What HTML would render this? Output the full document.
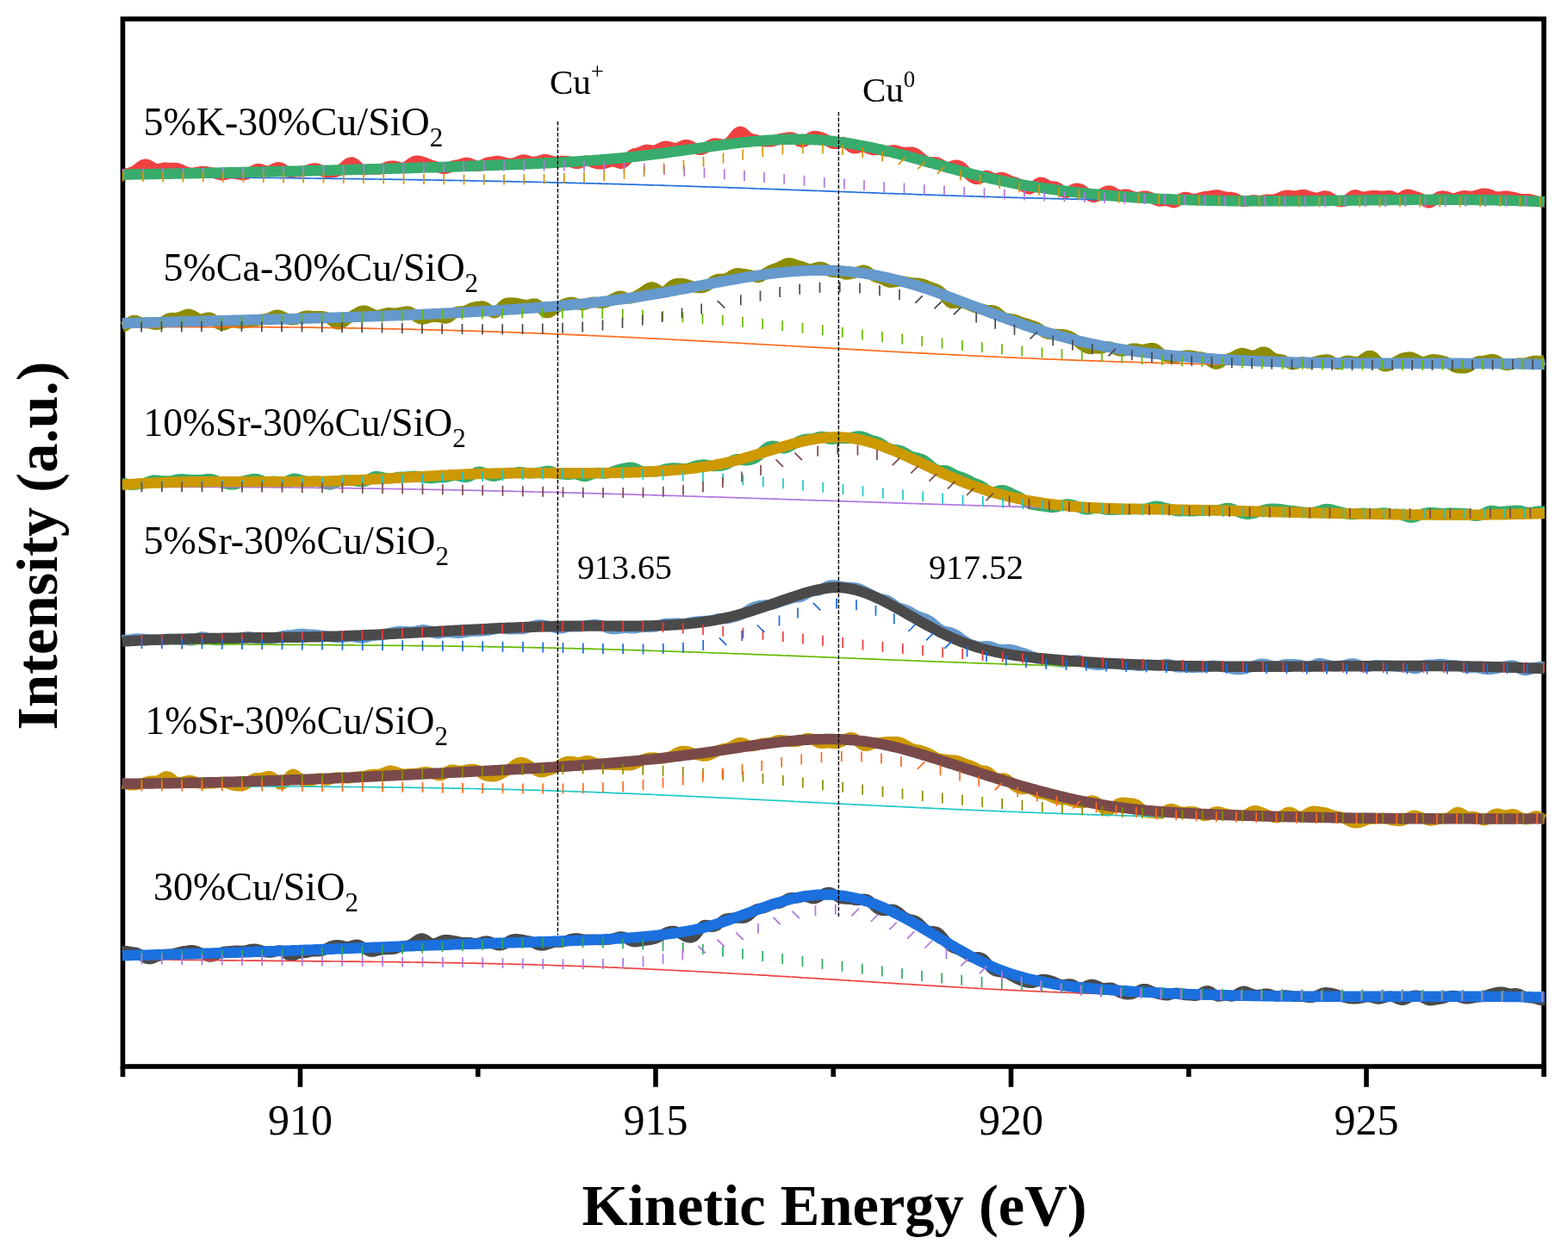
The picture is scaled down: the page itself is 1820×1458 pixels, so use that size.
<!DOCTYPE html>
<html><head><meta charset="utf-8"><title>Kinetic Energy XPS</title>
<style>html,body{margin:0;padding:0;background:#fff;}svg{display:block;}</style></head><body>
<svg width="1820" height="1458" viewBox="0 0 1820 1458">
<rect width="100%" height="100%" fill="#fff"/>
<rect x="142.5" y="22" width="1649.5" height="1216" fill="none" stroke="#000" stroke-width="5.6"/>
<g>
<path d="M142.0 202.4 L145.0 202.1 L148.0 201.4 L151.0 200.6 L154.0 199.4 L157.0 197.8 L160.0 195.6 L163.0 193.2 L166.0 191.3 L169.0 190.7 L172.0 191.4 L175.0 193.1 L178.0 195.0 L181.0 196.2 L184.0 196.3 L187.0 195.5 L190.0 194.8 L193.0 194.7 L196.0 195.0 L199.0 195.1 L202.0 195.0 L205.0 195.1 L208.0 195.9 L211.0 197.2 L214.0 198.7 L217.0 199.8 L220.0 200.5 L223.0 200.6 L226.0 200.3 L229.0 199.8 L232.0 199.3 L235.0 199.0 L238.0 199.1 L241.0 199.5 L244.0 200.1 L247.0 200.6 L250.0 201.3 L253.0 202.2 L256.0 203.0 L259.0 203.2 L262.0 202.6 L265.0 201.7 L268.0 201.1 L271.0 201.2 L274.0 201.8 L277.0 202.5 L280.0 203.0 L283.0 203.1 L286.0 202.4 L289.0 200.9 L292.0 199.1 L295.0 197.5 L298.0 196.3 L301.0 196.1 L304.0 196.8 L307.0 198.0 L310.0 198.7 L313.0 198.3 L316.0 196.9 L319.0 195.3 L322.0 194.3 L325.0 194.5 L328.0 195.8 L331.0 197.9 L334.0 199.5 L337.0 200.0 L340.0 199.8 L343.0 199.4 L346.0 199.3 L349.0 199.2 L352.0 198.8 L355.0 198.1 L358.0 197.1 L361.0 196.2 L364.0 195.4 L367.0 195.4 L370.0 196.4 L373.0 198.0 L376.0 199.5 L379.0 200.4 L382.0 200.6 L385.0 200.4 L388.0 199.9 L391.0 199.2 L394.0 197.8 L397.0 195.7 L400.0 193.0 L403.0 190.4 L406.0 188.7 L409.0 188.5 L412.0 190.1 L415.0 192.9 L418.0 195.5 L421.0 196.9 L424.0 197.1 L427.0 196.6 L430.0 196.3 L433.0 196.4 L436.0 196.6 L439.0 196.6 L442.0 196.2 L445.0 195.4 L448.0 194.2 L451.0 193.2 L454.0 192.7 L457.0 192.7 L460.0 193.3 L463.0 194.2 L466.0 194.7 L469.0 194.5 L472.0 193.1 L475.0 190.9 L478.0 188.7 L481.0 187.1 L484.0 186.6 L487.0 186.9 L490.0 187.7 L493.0 188.8 L496.0 190.0 L499.0 191.3 L502.0 192.3 L505.0 193.1 L508.0 193.9 L511.0 194.8 L514.0 195.7 L517.0 195.9 L520.0 195.0 L523.0 193.6 L526.0 192.4 L529.0 191.7 L532.0 191.3 L535.0 190.6 L538.0 189.6 L541.0 188.9 L544.0 189.1 L547.0 190.2 L550.0 191.8 L553.0 192.9 L556.0 192.8 L559.0 191.8 L562.0 190.3 L565.0 189.1 L568.0 188.3 L571.0 187.8 L574.0 187.3 L577.0 187.0 L580.0 187.2 L583.0 188.0 L586.0 188.8 L589.0 189.4 L592.0 189.7 L595.0 189.6 L598.0 188.9 L601.0 187.5 L604.0 186.2 L607.0 185.5 L610.0 185.8 L613.0 186.7 L616.0 187.6 L619.0 187.9 L622.0 187.7 L625.0 187.0 L628.0 186.1 L631.0 185.3 L634.0 185.2 L637.0 185.8 L640.0 186.9 L643.0 187.6 L646.0 187.7 L649.0 187.3 L652.0 186.9 L655.0 186.9 L658.0 187.2 L661.0 187.7 L664.0 188.6 L667.0 189.5 L670.0 189.9 L673.0 189.3 L676.0 188.0 L679.0 186.8 L682.0 186.5 L685.0 187.3 L688.0 188.5 L691.0 189.5 L694.0 190.2 L697.0 190.4 L700.0 190.2 L703.0 189.5 L706.0 188.4 L709.0 187.6 L712.0 187.4 L715.0 188.1 L718.0 189.2 L721.0 189.8 L724.0 188.8 L727.0 186.1 L730.0 182.7 L733.0 179.9 L736.0 178.4 L739.0 177.8 L742.0 177.0 L745.0 175.7 L748.0 174.4 L751.0 173.8 L754.0 174.2 L757.0 174.8 L760.0 174.7 L763.0 173.7 L766.0 172.0 L769.0 170.6 L772.0 169.8 L775.0 169.9 L778.0 170.7 L781.0 171.7 L784.0 172.1 L787.0 171.6 L790.0 170.2 L793.0 168.8 L796.0 168.1 L799.0 168.4 L802.0 169.6 L805.0 171.3 L808.0 172.9 L811.0 173.9 L814.0 173.9 L817.0 172.8 L820.0 171.1 L823.0 169.1 L826.0 167.4 L829.0 166.5 L832.0 166.6 L835.0 167.2 L838.0 167.8 L841.0 167.8 L844.0 166.9 L847.0 164.7 L850.0 161.3 L853.0 157.3 L856.0 154.0 L859.0 152.6 L862.0 153.6 L865.0 156.2 L868.0 159.0 L871.0 160.7 L874.0 161.5 L877.0 162.2 L880.0 163.0 L883.0 163.7 L886.0 164.1 L889.0 164.3 L892.0 164.5 L895.0 164.4 L898.0 163.7 L901.0 162.6 L904.0 161.5 L907.0 160.8 L910.0 160.3 L913.0 159.8 L916.0 159.4 L919.0 159.5 L922.0 160.6 L925.0 162.4 L928.0 164.2 L931.0 165.0 L934.0 164.2 L937.0 162.2 L940.0 160.0 L943.0 158.4 L946.0 158.0 L949.0 158.4 L952.0 159.1 L955.0 160.1 L958.0 161.6 L961.0 163.6 L964.0 165.5 L967.0 166.8 L970.0 166.9 L973.0 166.2 L976.0 165.2 L979.0 165.0 L982.0 166.2 L985.0 168.6 L988.0 171.0 L991.0 172.2 L994.0 172.1 L997.0 171.3 L1000.0 170.6 L1003.0 170.6 L1006.0 171.5 L1009.0 172.9 L1012.0 173.9 L1015.0 174.1 L1018.0 173.8 L1021.0 173.8 L1024.0 174.5 L1027.0 175.4 L1030.0 175.7 L1033.0 175.1 L1036.0 174.4 L1039.0 174.4 L1042.0 175.2 L1045.0 176.3 L1048.0 176.9 L1051.0 177.0 L1054.0 176.8 L1057.0 176.6 L1060.0 177.0 L1063.0 178.2 L1066.0 180.3 L1069.0 182.9 L1072.0 185.4 L1075.0 187.4 L1078.0 188.3 L1081.0 188.4 L1084.0 188.2 L1087.0 188.4 L1090.0 189.5 L1093.0 191.3 L1096.0 193.2 L1099.0 194.2 L1102.0 194.0 L1105.0 192.9 L1108.0 191.9 L1111.0 191.7 L1114.0 192.6 L1117.0 194.7 L1120.0 197.7 L1123.0 201.0 L1126.0 204.1 L1129.0 206.4 L1132.0 207.7 L1135.0 207.9 L1138.0 206.9 L1141.0 205.2 L1144.0 204.0 L1147.0 204.2 L1150.0 205.6 L1153.0 206.9 L1156.0 207.2 L1159.0 206.5 L1162.0 206.0 L1165.0 206.4 L1168.0 207.7 L1171.0 209.2 L1174.0 210.5 L1177.0 211.5 L1180.0 212.3 L1183.0 213.5 L1186.0 215.1 L1189.0 217.2 L1192.0 218.9 L1195.0 219.5 L1198.0 218.3 L1201.0 215.9 L1204.0 213.3 L1207.0 211.8 L1210.0 211.9 L1213.0 213.3 L1216.0 215.2 L1219.0 216.4 L1222.0 216.5 L1225.0 216.7 L1228.0 217.9 L1231.0 220.3 L1234.0 222.9 L1237.0 224.0 L1240.0 223.2 L1243.0 221.3 L1246.0 219.5 L1249.0 218.8 L1252.0 218.9 L1255.0 219.9 L1258.0 221.7 L1261.0 224.2 L1264.0 226.7 L1267.0 228.5 L1270.0 228.9 L1273.0 228.0 L1276.0 226.5 L1279.0 224.7 L1282.0 223.0 L1285.0 221.7 L1288.0 221.5 L1291.0 222.5 L1294.0 224.3 L1297.0 225.9 L1300.0 226.5 L1303.0 226.1 L1306.0 225.6 L1309.0 225.8 L1312.0 226.8 L1315.0 228.2 L1318.0 229.1 L1321.0 229.1 L1324.0 228.4 L1327.0 227.7 L1330.0 227.6 L1333.0 228.3 L1336.0 229.4 L1339.0 230.9 L1342.0 232.4 L1345.0 233.5 L1348.0 233.5 L1351.0 233.0 L1354.0 232.9 L1357.0 233.7 L1360.0 234.8 L1363.0 235.2 L1366.0 234.1 L1369.0 232.1 L1372.0 230.0 L1375.0 229.0 L1378.0 229.1 L1381.0 230.1 L1384.0 231.0 L1387.0 231.2 L1390.0 230.6 L1393.0 229.6 L1396.0 228.8 L1399.0 228.2 L1402.0 227.9 L1405.0 227.4 L1408.0 226.8 L1411.0 226.4 L1414.0 226.5 L1417.0 227.2 L1420.0 228.1 L1423.0 228.8 L1426.0 228.9 L1429.0 229.0 L1432.0 229.5 L1435.0 230.6 L1438.0 232.2 L1441.0 233.4 L1444.0 233.9 L1447.0 233.6 L1450.0 233.0 L1453.0 232.5 L1456.0 232.5 L1459.0 232.8 L1462.0 233.0 L1465.0 232.7 L1468.0 232.1 L1471.0 231.7 L1474.0 231.7 L1477.0 231.8 L1480.0 231.5 L1483.0 230.4 L1486.0 229.0 L1489.0 227.8 L1492.0 227.0 L1495.0 226.8 L1498.0 227.0 L1501.0 227.5 L1504.0 227.5 L1507.0 226.9 L1510.0 226.2 L1513.0 226.1 L1516.0 226.7 L1519.0 227.6 L1522.0 228.6 L1525.0 229.3 L1528.0 229.6 L1531.0 229.3 L1534.0 228.4 L1537.0 227.5 L1540.0 227.6 L1543.0 228.8 L1546.0 230.7 L1549.0 232.4 L1552.0 233.5 L1555.0 234.0 L1558.0 234.1 L1561.0 233.5 L1564.0 231.7 L1567.0 229.2 L1570.0 227.0 L1573.0 226.3 L1576.0 227.1 L1579.0 228.3 L1582.0 228.9 L1585.0 228.5 L1588.0 227.9 L1591.0 227.5 L1594.0 227.3 L1597.0 227.3 L1600.0 227.5 L1603.0 227.8 L1606.0 227.8 L1609.0 227.4 L1612.0 227.1 L1615.0 227.6 L1618.0 229.0 L1621.0 230.3 L1624.0 230.3 L1627.0 228.8 L1630.0 226.8 L1633.0 225.8 L1636.0 226.0 L1639.0 227.0 L1642.0 228.0 L1645.0 228.7 L1648.0 229.8 L1651.0 231.6 L1654.0 233.8 L1657.0 235.4 L1660.0 235.3 L1663.0 233.6 L1666.0 231.2 L1669.0 229.1 L1672.0 227.8 L1675.0 227.5 L1678.0 228.0 L1681.0 228.8 L1684.0 229.8 L1687.0 230.2 L1690.0 229.8 L1693.0 228.8 L1696.0 227.8 L1699.0 227.3 L1702.0 227.5 L1705.0 227.9 L1708.0 228.0 L1711.0 227.5 L1714.0 226.6 L1717.0 225.7 L1720.0 225.0 L1723.0 224.6 L1726.0 224.9 L1729.0 225.7 L1732.0 227.0 L1735.0 228.2 L1738.0 228.7 L1741.0 228.5 L1744.0 228.0 L1747.0 227.8 L1750.0 227.8 L1753.0 228.3 L1756.0 228.9 L1759.0 229.6 L1762.0 230.4 L1765.0 231.1 L1768.0 231.3 L1771.0 231.2 L1774.0 231.2 L1777.0 231.6 L1780.0 232.5 L1783.0 233.4 L1786.0 234.0 L1789.0 234.1 L1792.8 234.2" stroke="#EE4242" stroke-width="12.4" stroke-linejoin="round" fill="none"/>
<path d="M142.0 204.9 L145.0 204.9 L148.0 205.0 L151.0 205.0 L154.0 205.0 L157.0 205.0 L160.0 205.1 L163.0 205.1 L166.0 205.1 L169.0 205.1 L172.0 205.1 L175.0 205.2 L178.0 205.2 L181.0 205.2 L184.0 205.2 L187.0 205.3 L190.0 205.3 L193.0 205.3 L196.0 205.3 L199.0 205.4 L202.0 205.4 L205.0 205.4 L208.0 205.4 L211.0 205.5 L214.0 205.5 L217.0 205.5 L220.0 205.5 L223.0 205.6 L226.0 205.6 L229.0 205.6 L232.0 205.6 L235.0 205.7 L238.0 205.7 L241.0 205.7 L244.0 205.8 L247.0 205.8 L250.0 205.8 L253.0 205.8 L256.0 205.9 L259.0 205.9 L262.0 205.9 L265.0 206.0 L268.0 206.0 L271.0 206.0 L274.0 206.0 L277.0 206.1 L280.0 206.1 L283.0 206.1 L286.0 206.2 L289.0 206.2 L292.0 206.2 L295.0 206.3 L298.0 206.3 L301.0 206.3 L304.0 206.3 L307.0 206.4 L310.0 206.4 L313.0 206.4 L316.0 206.5 L319.0 206.5 L322.0 206.5 L325.0 206.6 L328.0 206.6 L331.0 206.6 L334.0 206.7 L337.0 206.7 L340.0 206.7 L343.0 206.8 L346.0 206.8 L349.0 206.8 L352.0 206.9 L355.0 206.9 L358.0 206.9 L361.0 207.0 L364.0 207.0 L367.0 207.1 L370.0 207.1 L373.0 207.1 L376.0 207.2 L379.0 207.2 L382.0 207.2 L385.0 207.3 L388.0 207.3 L391.0 207.4 L394.0 207.4 L397.0 207.4 L400.0 207.5 L403.0 207.5 L406.0 207.6 L409.0 207.6 L412.0 207.6 L415.0 207.7 L418.0 207.7 L421.0 207.8 L424.0 207.8 L427.0 207.8 L430.0 207.9 L433.0 207.9 L436.0 208.0 L439.0 208.0 L442.0 208.1 L445.0 208.1 L448.0 208.1 L451.0 208.2 L454.0 208.2 L457.0 208.3 L460.0 208.3 L463.0 208.4 L466.0 208.4 L469.0 208.5 L472.0 208.5 L475.0 208.6 L478.0 208.6 L481.0 208.7 L484.0 208.7 L487.0 208.8 L490.0 208.8 L493.0 208.8 L496.0 208.9 L499.0 208.9 L502.0 209.0 L505.0 209.1 L508.0 209.1 L511.0 209.2 L514.0 209.2 L517.0 209.3 L520.0 209.3 L523.0 209.4 L526.0 209.4 L529.0 209.5 L532.0 209.5 L535.0 209.6 L538.0 209.6 L541.0 209.7 L544.0 209.7 L547.0 209.8 L550.0 209.9 L553.0 209.9 L556.0 210.0 L559.0 210.0 L562.0 210.1 L565.0 210.1 L568.0 210.2 L571.0 210.3 L574.0 210.3 L577.0 210.4 L580.0 210.4 L583.0 210.5 L586.0 210.6 L589.0 210.6 L592.0 210.7 L595.0 210.8 L598.0 210.8 L601.0 210.9 L604.0 211.0 L607.0 211.0 L610.0 211.1 L613.0 211.1 L616.0 211.2 L619.0 211.3 L622.0 211.3 L625.0 211.4 L628.0 211.5 L631.0 211.5 L634.0 211.6 L637.0 211.7 L640.0 211.8 L643.0 211.8 L646.0 211.9 L649.0 212.0 L652.0 212.0 L655.0 212.1 L658.0 212.2 L661.0 212.3 L664.0 212.3 L667.0 212.4 L670.0 212.5 L673.0 212.6 L676.0 212.6 L679.0 212.7 L682.0 212.8 L685.0 212.9 L688.0 212.9 L691.0 213.0 L694.0 213.1 L697.0 213.2 L700.0 213.3 L703.0 213.3 L706.0 213.4 L709.0 213.5 L712.0 213.6 L715.0 213.7 L718.0 213.7 L721.0 213.8 L724.0 213.9 L727.0 214.0 L730.0 214.1 L733.0 214.2 L736.0 214.2 L739.0 214.3 L742.0 214.4 L745.0 214.5 L748.0 214.6 L751.0 214.7 L754.0 214.8 L757.0 214.9 L760.0 215.0 L763.0 215.0 L766.0 215.1 L769.0 215.2 L772.0 215.3 L775.0 215.4 L778.0 215.5 L781.0 215.6 L784.0 215.7 L787.0 215.8 L790.0 215.9 L793.0 216.0 L796.0 216.1 L799.0 216.2 L802.0 216.3 L805.0 216.4 L808.0 216.5 L811.0 216.6 L814.0 216.7 L817.0 216.8 L820.0 216.9 L823.0 217.0 L826.0 217.1 L829.0 217.2 L832.0 217.3 L835.0 217.4 L838.0 217.5 L841.0 217.6 L844.0 217.7 L847.0 217.8 L850.0 217.9 L853.0 218.0 L856.0 218.1 L859.0 218.2 L862.0 218.3 L865.0 218.4 L868.0 218.5 L871.0 218.6 L874.0 218.7 L877.0 218.9 L880.0 219.0 L883.0 219.1 L886.0 219.2 L889.0 219.3 L892.0 219.4 L895.0 219.5 L898.0 219.6 L901.0 219.7 L904.0 219.8 L907.0 219.9 L910.0 220.1 L913.0 220.2 L916.0 220.3 L919.0 220.4 L922.0 220.5 L925.0 220.6 L928.0 220.7 L931.0 220.8 L934.0 220.9 L937.0 221.1 L940.0 221.2 L943.0 221.3 L946.0 221.4 L949.0 221.5 L952.0 221.6 L955.0 221.7 L958.0 221.8 L961.0 221.9 L964.0 222.1 L967.0 222.2 L970.0 222.3 L973.0 222.4 L976.0 222.5 L979.0 222.6 L982.0 222.7 L985.0 222.8 L988.0 222.9 L991.0 223.0 L994.0 223.2 L997.0 223.3 L1000.0 223.4 L1003.0 223.5 L1006.0 223.6 L1009.0 223.7 L1012.0 223.8 L1015.0 223.9 L1018.0 224.0 L1021.0 224.2 L1024.0 224.3 L1027.0 224.4 L1030.0 224.5 L1033.0 224.6 L1036.0 224.7 L1039.0 224.8 L1042.0 224.9 L1045.0 225.0 L1048.0 225.1 L1051.0 225.2 L1054.0 225.3 L1057.0 225.4 L1060.0 225.5 L1063.0 225.7 L1066.0 225.8 L1069.0 225.9 L1072.0 226.0 L1075.0 226.1 L1078.0 226.2 L1081.0 226.3 L1084.0 226.4 L1087.0 226.5 L1090.0 226.6 L1093.0 226.7 L1096.0 226.8 L1099.0 226.9 L1102.0 227.0 L1105.0 227.1 L1108.0 227.2 L1111.0 227.3 L1114.0 227.4 L1117.0 227.5 L1120.0 227.6 L1123.0 227.7 L1126.0 227.8 L1129.0 227.9 L1132.0 228.0 L1135.0 228.1 L1138.0 228.2 L1141.0 228.3 L1144.0 228.4 L1147.0 228.4 L1150.0 228.5 L1153.0 228.6 L1156.0 228.7 L1159.0 228.8 L1162.0 228.9 L1165.0 229.0 L1168.0 229.1 L1171.0 229.2 L1174.0 229.3 L1177.0 229.3 L1180.0 229.4 L1183.0 229.5 L1186.0 229.6 L1189.0 229.7 L1192.0 229.8 L1195.0 229.8 L1198.0 229.9 L1201.0 230.0 L1204.0 230.1 L1207.0 230.2 L1210.0 230.2 L1213.0 230.3 L1216.0 230.4 L1219.0 230.5 L1222.0 230.6 L1225.0 230.6 L1228.0 230.7 L1231.0 230.8 L1234.0 230.8 L1237.0 230.9 L1240.0 231.0 L1243.0 231.1 L1246.0 231.1 L1249.0 231.2 L1252.0 231.3 L1255.0 231.3 L1258.0 231.4 L1261.0 231.5 L1264.0 231.5 L1267.0 231.6 L1270.0 231.7 L1273.0 231.7 L1276.0 231.8 L1279.0 231.9 L1282.0 231.9 L1285.0 232.0 L1288.0 232.0 L1291.0 232.1 L1294.0 232.2 L1297.0 232.2 L1300.0 232.3 L1303.0 232.3 L1306.0 232.4 L1309.0 232.5 L1312.0 232.5 L1315.0 232.6 L1318.0 232.6 L1321.0 232.7 L1324.0 232.7 L1327.0 232.8 L1330.0 232.8 L1333.0 232.9 L1336.0 232.9 L1339.0 233.0 L1342.0 233.0 L1345.0 233.1 L1348.0 233.1 L1351.0 233.2 L1354.0 233.2 L1357.0 233.3 L1360.0 233.3 L1363.0 233.4 L1366.0 233.4 L1369.0 233.5 L1372.0 233.5 L1375.0 233.5 L1378.0 233.6 L1381.0 233.6 L1384.0 233.7 L1387.0 233.7 L1390.0 233.7 L1393.0 233.8 L1396.0 233.8 L1399.0 233.9 L1402.0 233.9 L1405.0 233.9 L1408.0 234.0 L1411.0 234.0 L1414.0 234.0 L1417.0 234.1 L1420.0 234.1 L1423.0 234.1 L1426.0 234.2 L1429.0 234.2 L1432.0 234.2 L1435.0 234.3 L1438.0 234.3 L1441.0 234.3 L1444.0 234.3 L1447.0 234.4 L1450.0 234.4 L1453.0 234.4 L1456.0 234.5 L1459.0 234.5 L1462.0 234.5 L1465.0 234.5 L1468.0 234.5 L1471.0 234.6 L1474.0 234.6 L1477.0 234.6 L1480.0 234.6 L1483.0 234.7 L1486.0 234.7 L1489.0 234.7 L1492.0 234.7 L1495.0 234.7 L1498.0 234.8 L1501.0 234.8 L1504.0 234.8 L1507.0 234.8 L1510.0 234.8 L1513.0 234.8 L1516.0 234.8 L1519.0 234.9 L1522.0 234.9 L1525.0 234.9 L1528.0 234.9 L1531.0 234.9 L1534.0 234.9 L1537.0 234.9 L1540.0 234.9 L1543.0 235.0 L1546.0 235.0 L1549.0 235.0 L1552.0 235.0 L1555.0 235.0 L1558.0 235.0 L1561.0 235.0 L1564.0 235.0 L1567.0 235.0 L1570.0 235.0 L1573.0 235.0 L1576.0 235.0 L1579.0 235.0 L1582.0 235.0 L1585.0 235.0 L1588.0 235.0 L1591.0 235.0 L1594.0 235.0 L1597.0 235.0 L1600.0 235.0 L1603.0 235.0 L1606.0 235.0 L1609.0 235.0 L1612.0 235.0 L1615.0 235.0 L1618.0 235.0 L1621.0 235.0 L1624.0 235.0 L1627.0 235.0 L1630.0 235.0 L1633.0 235.0 L1636.0 235.0 L1639.0 235.0 L1642.0 234.9 L1645.0 234.9 L1648.0 234.9 L1651.0 234.9 L1654.0 234.9 L1657.0 234.9 L1660.0 234.9 L1663.0 234.9 L1666.0 234.9 L1669.0 234.8 L1672.0 234.8 L1675.0 234.8 L1678.0 234.8 L1681.0 234.8 L1684.0 234.8 L1687.0 234.8 L1690.0 234.7 L1693.0 234.7 L1696.0 234.7 L1699.0 234.7 L1702.0 234.7 L1705.0 234.7 L1708.0 234.6 L1711.0 234.6 L1714.0 234.6 L1717.0 234.6 L1720.0 234.5 L1723.0 234.5 L1726.0 234.5 L1729.0 234.5 L1732.0 234.5 L1735.0 234.4 L1738.0 234.4 L1741.0 234.4 L1744.0 234.4 L1747.0 234.3 L1750.0 234.3 L1753.0 234.3 L1756.0 234.2 L1759.0 234.2 L1762.0 234.2 L1765.0 234.2 L1768.0 234.1 L1771.0 234.1 L1774.0 234.1 L1777.0 234.0 L1780.0 234.0 L1783.0 234.0 L1786.0 233.9 L1789.0 233.9 L1792.8 233.9" stroke="#1F6FE0" stroke-width="1.7" fill="none"/>
<path d="M142.0 202.7 L145.0 202.6 L148.0 202.6 L151.0 202.5 L154.0 202.5 L157.0 202.4 L160.0 202.3 L163.0 202.3 L166.0 202.2 L169.0 202.2 L172.0 202.1 L175.0 202.1 L178.0 202.0 L181.0 202.0 L184.0 201.9 L187.0 201.9 L190.0 201.8 L193.0 201.7 L196.0 201.7 L199.0 201.6 L202.0 201.6 L205.0 201.5 L208.0 201.5 L211.0 201.4 L214.0 201.4 L217.0 201.3 L220.0 201.2 L223.0 201.2 L226.0 201.1 L229.0 201.1 L232.0 201.0 L235.0 200.9 L238.0 200.9 L241.0 200.8 L244.0 200.8 L247.0 200.7 L250.0 200.6 L253.0 200.6 L256.0 200.5 L259.0 200.5 L262.0 200.4 L265.0 200.3 L268.0 200.3 L271.0 200.2 L274.0 200.2 L277.0 200.1 L280.0 200.0 L283.0 200.0 L286.0 199.9 L289.0 199.8 L292.0 199.8 L295.0 199.7 L298.0 199.6 L301.0 199.6 L304.0 199.5 L307.0 199.4 L310.0 199.4 L313.0 199.3 L316.0 199.2 L319.0 199.2 L322.0 199.1 L325.0 199.0 L328.0 199.0 L331.0 198.9 L334.0 198.8 L337.0 198.8 L340.0 198.7 L343.0 198.6 L346.0 198.6 L349.0 198.5 L352.0 198.4 L355.0 198.3 L358.0 198.3 L361.0 198.2 L364.0 198.1 L367.0 198.0 L370.0 198.0 L373.0 197.9 L376.0 197.8 L379.0 197.7 L382.0 197.7 L385.0 197.6 L388.0 197.5 L391.0 197.4 L394.0 197.4 L397.0 197.3 L400.0 197.2 L403.0 197.1 L406.0 197.0 L409.0 197.0 L412.0 196.9 L415.0 196.8 L418.0 196.7 L421.0 196.6 L424.0 196.6 L427.0 196.5 L430.0 196.4 L433.0 196.3 L436.0 196.2 L439.0 196.1 L442.0 196.1 L445.0 196.0 L448.0 195.9 L451.0 195.8 L454.0 195.7 L457.0 195.6 L460.0 195.5 L463.0 195.5 L466.0 195.4 L469.0 195.3 L472.0 195.2 L475.0 195.1 L478.0 195.0 L481.0 194.9 L484.0 194.8 L487.0 194.7 L490.0 194.6 L493.0 194.5 L496.0 194.4 L499.0 194.4 L502.0 194.3 L505.0 194.2 L508.0 194.1 L511.0 194.0 L514.0 193.9 L517.0 193.8 L520.0 193.7 L523.0 193.6 L526.0 193.5 L529.0 193.4 L532.0 193.3 L535.0 193.2 L538.0 193.1 L541.0 193.0 L544.0 192.9 L547.0 192.8 L550.0 192.7 L553.0 192.6 L556.0 192.4 L559.0 192.3 L562.0 192.2 L565.0 192.1 L568.0 192.0 L571.0 191.9 L574.0 191.8 L577.0 191.7 L580.0 191.6 L583.0 191.5 L586.0 191.4 L589.0 191.2 L592.0 191.1 L595.0 191.0 L598.0 190.9 L601.0 190.8 L604.0 190.7 L607.0 190.5 L610.0 190.4 L613.0 190.3 L616.0 190.2 L619.0 190.0 L622.0 189.9 L625.0 189.8 L628.0 189.6 L631.0 189.5 L634.0 189.3 L637.0 189.2 L640.0 189.1 L643.0 188.9 L646.0 188.7 L649.0 188.6 L652.0 188.4 L655.0 188.3 L658.0 188.1 L661.0 187.9 L664.0 187.7 L667.0 187.6 L670.0 187.4 L673.0 187.2 L676.0 187.0 L679.0 186.8 L682.0 186.6 L685.0 186.4 L688.0 186.1 L691.0 185.9 L694.0 185.7 L697.0 185.5 L700.0 185.2 L703.0 185.0 L706.0 184.7 L709.0 184.5 L712.0 184.2 L715.0 183.9 L718.0 183.7 L721.0 183.4 L724.0 183.1 L727.0 182.8 L730.0 182.5 L733.0 182.2 L736.0 181.9 L739.0 181.5 L742.0 181.2 L745.0 180.9 L748.0 180.5 L751.0 180.2 L754.0 179.8 L757.0 179.4 L760.0 179.0 L763.0 178.7 L766.0 178.3 L769.0 177.9 L772.0 177.5 L775.0 177.1 L778.0 176.7 L781.0 176.2 L784.0 175.8 L787.0 175.4 L790.0 175.0 L793.0 174.6 L796.0 174.1 L799.0 173.7 L802.0 173.3 L805.0 172.9 L808.0 172.4 L811.0 172.0 L814.0 171.6 L817.0 171.2 L820.0 170.7 L823.0 170.3 L826.0 169.9 L829.0 169.5 L832.0 169.1 L835.0 168.7 L838.0 168.3 L841.0 167.9 L844.0 167.5 L847.0 167.2 L850.0 166.8 L853.0 166.4 L856.0 166.1 L859.0 165.7 L862.0 165.4 L865.0 165.1 L868.0 164.8 L871.0 164.5 L874.0 164.2 L877.0 163.9 L880.0 163.7 L883.0 163.4 L886.0 163.2 L889.0 163.0 L892.0 162.8 L895.0 162.6 L898.0 162.4 L901.0 162.2 L904.0 162.1 L907.0 162.0 L910.0 161.9 L913.0 161.8 L916.0 161.7 L919.0 161.7 L922.0 161.7 L925.0 161.7 L928.0 161.7 L931.0 161.7 L934.0 161.8 L937.0 161.9 L940.0 162.0 L943.0 162.1 L946.0 162.3 L949.0 162.4 L952.0 162.6 L955.0 162.9 L958.0 163.1 L961.0 163.4 L964.0 163.7 L967.0 164.0 L970.0 164.4 L973.0 164.8 L976.0 165.1 L979.0 165.6 L982.0 166.0 L985.0 166.4 L988.0 166.9 L991.0 167.4 L994.0 167.9 L997.0 168.5 L1000.0 169.0 L1003.0 169.6 L1006.0 170.2 L1009.0 170.8 L1012.0 171.4 L1015.0 172.0 L1018.0 172.7 L1021.0 173.4 L1024.0 174.1 L1027.0 174.8 L1030.0 175.5 L1033.0 176.2 L1036.0 177.0 L1039.0 177.7 L1042.0 178.5 L1045.0 179.2 L1048.0 180.0 L1051.0 180.8 L1054.0 181.6 L1057.0 182.4 L1060.0 183.2 L1063.0 184.1 L1066.0 184.9 L1069.0 185.7 L1072.0 186.6 L1075.0 187.4 L1078.0 188.2 L1081.0 189.1 L1084.0 189.9 L1087.0 190.8 L1090.0 191.6 L1093.0 192.4 L1096.0 193.3 L1099.0 194.1 L1102.0 194.9 L1105.0 195.8 L1108.0 196.6 L1111.0 197.4 L1114.0 198.2 L1117.0 199.0 L1120.0 199.8 L1123.0 200.6 L1126.0 201.4 L1129.0 202.2 L1132.0 202.9 L1135.0 203.7 L1138.0 204.4 L1141.0 205.1 L1144.0 205.8 L1147.0 206.5 L1150.0 207.2 L1153.0 207.9 L1156.0 208.5 L1159.0 209.2 L1162.0 209.8 L1165.0 210.4 L1168.0 211.0 L1171.0 211.6 L1174.0 212.2 L1177.0 212.8 L1180.0 213.3 L1183.0 213.9 L1186.0 214.4 L1189.0 214.9 L1192.0 215.4 L1195.0 215.9 L1198.0 216.4 L1201.0 216.9 L1204.0 217.3 L1207.0 217.8 L1210.0 218.2 L1213.0 218.7 L1216.0 219.1 L1219.0 219.5 L1222.0 219.9 L1225.0 220.3 L1228.0 220.7 L1231.0 221.1 L1234.0 221.5 L1237.0 221.9 L1240.0 222.2 L1243.0 222.6 L1246.0 222.9 L1249.0 223.2 L1252.0 223.6 L1255.0 223.9 L1258.0 224.2 L1261.0 224.5 L1264.0 224.8 L1267.0 225.1 L1270.0 225.4 L1273.0 225.7 L1276.0 226.0 L1279.0 226.3 L1282.0 226.5 L1285.0 226.8 L1288.0 227.0 L1291.0 227.3 L1294.0 227.5 L1297.0 227.8 L1300.0 228.0 L1303.0 228.2 L1306.0 228.4 L1309.0 228.6 L1312.0 228.9 L1315.0 229.1 L1318.0 229.3 L1321.0 229.4 L1324.0 229.6 L1327.0 229.8 L1330.0 230.0 L1333.0 230.1 L1336.0 230.3 L1339.0 230.5 L1342.0 230.6 L1345.0 230.8 L1348.0 230.9 L1351.0 231.1 L1354.0 231.2 L1357.0 231.3 L1360.0 231.4 L1363.0 231.6 L1366.0 231.7 L1369.0 231.8 L1372.0 231.9 L1375.0 232.0 L1378.0 232.1 L1381.0 232.2 L1384.0 232.3 L1387.0 232.4 L1390.0 232.5 L1393.0 232.5 L1396.0 232.6 L1399.0 232.7 L1402.0 232.8 L1405.0 232.8 L1408.0 232.9 L1411.0 232.9 L1414.0 233.0 L1417.0 233.0 L1420.0 233.1 L1423.0 233.1 L1426.0 233.2 L1429.0 233.2 L1432.0 233.2 L1435.0 233.3 L1438.0 233.3 L1441.0 233.3 L1444.0 233.4 L1447.0 233.4 L1450.0 233.4 L1453.0 233.4 L1456.0 233.4 L1459.0 233.4 L1462.0 233.4 L1465.0 233.4 L1468.0 233.4 L1471.0 233.4 L1474.0 233.4 L1477.0 233.4 L1480.0 233.4 L1483.0 233.4 L1486.0 233.4 L1489.0 233.4 L1492.0 233.4 L1495.0 233.4 L1498.0 233.4 L1501.0 233.3 L1504.0 233.3 L1507.0 233.3 L1510.0 233.3 L1513.0 233.3 L1516.0 233.2 L1519.0 233.2 L1522.0 233.2 L1525.0 233.2 L1528.0 233.1 L1531.0 233.1 L1534.0 233.1 L1537.0 233.0 L1540.0 233.0 L1543.0 233.0 L1546.0 232.9 L1549.0 232.9 L1552.0 232.9 L1555.0 232.8 L1558.0 232.8 L1561.0 232.8 L1564.0 232.7 L1567.0 232.7 L1570.0 232.6 L1573.0 232.6 L1576.0 232.6 L1579.0 232.5 L1582.0 232.5 L1585.0 232.5 L1588.0 232.4 L1591.0 232.4 L1594.0 232.4 L1597.0 232.3 L1600.0 232.3 L1603.0 232.3 L1606.0 232.2 L1609.0 232.2 L1612.0 232.2 L1615.0 232.1 L1618.0 232.1 L1621.0 232.1 L1624.0 232.1 L1627.0 232.0 L1630.0 232.0 L1633.0 232.0 L1636.0 232.0 L1639.0 231.9 L1642.0 231.9 L1645.0 231.9 L1648.0 231.9 L1651.0 231.9 L1654.0 231.9 L1657.0 231.9 L1660.0 231.8 L1663.0 231.8 L1666.0 231.8 L1669.0 231.8 L1672.0 231.8 L1675.0 231.8 L1678.0 231.8 L1681.0 231.8 L1684.0 231.8 L1687.0 231.9 L1690.0 231.9 L1693.0 231.9 L1696.0 231.9 L1699.0 231.9 L1702.0 232.0 L1705.0 232.0 L1708.0 232.0 L1711.0 232.0 L1714.0 232.1 L1717.0 232.1 L1720.0 232.2 L1723.0 232.2 L1726.0 232.3 L1729.0 232.3 L1732.0 232.4 L1735.0 232.4 L1738.0 232.5 L1741.0 232.5 L1744.0 232.6 L1747.0 232.7 L1750.0 232.8 L1753.0 232.8 L1756.0 232.9 L1759.0 233.0 L1762.0 233.1 L1765.0 233.2 L1768.0 233.3 L1771.0 233.4 L1774.0 233.5 L1777.0 233.6 L1780.0 233.8 L1783.0 233.9 L1786.0 234.0 L1789.0 234.1 L1792.8 234.3" stroke="#38AC6C" stroke-width="12.4" fill="none"/>
<path d="M142.8 196.1l0.0 12.0M166.0 195.9l0.0 12.0M189.2 195.7l0.0 12.0M212.5 195.4l0.0 12.0M235.8 195.1l0.0 12.0M259.0 194.8l0.0 12.0M282.2 194.4l0.0 12.0M305.8 193.9l0.0 12.0M329.0 193.3l0.0 12.0M352.2 192.8l0.0 12.0M375.5 192.1l0.0 12.0M398.8 191.5l0.0 12.0M422.0 190.8l0.0 12.0M445.2 190.0l0.0 12.0M468.5 189.3l0.0 12.0M491.8 188.6l0.0 12.0M515.0 187.9l0.0 12.0M538.2 187.3l0.0 12.0M561.8 186.8l0.0 12.0M585.0 186.4l0.0 12.0M608.2 186.2l0.0 12.0M631.5 186.2l0.0 12.0M654.8 186.4l0.0 12.0M678.0 186.8l0.0 12.0M701.2 187.6l0.0 12.0M724.5 188.5l0.0 12.0M747.8 189.7l0.0 12.0M771.0 191.1l0.0 12.0M794.2 192.7l0.0 12.0M817.5 194.4l0.0 12.0M840.8 196.2l0.0 12.0M864.0 198.1l0.0 12.0M887.0 200.0l0.0 12.0M910.2 201.9l0.0 12.0M933.5 203.8l0.0 12.0M956.8 205.7l0.0 12.0M980.0 207.5l0.0 12.0M1003.0 209.3l0.0 12.0M1026.2 211.0l0.0 12.0M1049.5 212.6l0.0 12.0M1072.8 214.2l0.0 12.0M1096.0 215.6l0.0 12.0M1119.2 217.0l0.0 12.0M1142.5 218.2l0.0 12.0M1165.8 219.4l0.0 12.0M1189.0 220.4l0.0 12.0M1212.2 221.4l0.0 12.0M1235.5 222.3l0.0 12.0M1258.8 223.1l0.0 12.0M1282.0 223.8l0.0 12.0M1305.2 224.5l0.0 12.0M1328.5 225.1l0.0 12.0M1352.0 225.6l0.0 12.0M1375.2 226.1l0.0 12.0M1398.5 226.5l0.0 12.0M1421.8 226.9l0.0 12.0M1445.0 227.2l0.0 12.0M1468.2 227.5l0.0 12.0M1491.5 227.7l0.0 12.0M1514.8 227.9l0.0 12.0M1538.0 228.0l0.0 12.0M1561.5 228.1l0.0 12.0M1584.8 228.2l0.0 12.0M1608.0 228.2l0.0 12.0M1631.2 228.2l0.0 12.0M1654.5 228.2l0.0 12.0M1677.8 228.1l0.0 12.0M1701.0 228.0l0.0 12.0M1724.2 227.9l0.0 12.0M1747.8 227.7l0.0 12.0M1771.0 227.5l0.0 12.0" stroke="#B076E0" stroke-width="1.7" fill="none"/>
<path d="M142.8 198.7l0.0 12.0M166.0 198.8l0.0 12.0M189.2 199.0l0.0 12.0M212.5 199.2l0.0 12.0M235.8 199.3l0.0 12.0M259.0 199.5l0.0 12.0M282.5 199.7l0.0 12.0M305.8 200.0l0.0 12.0M329.0 200.2l0.0 12.0M352.2 200.4l0.0 12.0M375.5 200.6l0.0 12.0M398.8 200.9l0.0 12.0M422.0 201.2l0.0 12.0M445.2 201.4l0.0 12.0M468.5 201.7l0.0 12.0M492.0 202.0l0.0 12.0M515.2 202.2l0.0 12.0M538.5 202.4l0.0 12.0M561.8 202.5l0.0 12.0M585.0 202.4l0.0 12.0M608.2 202.2l0.0 12.0M631.5 201.8l0.0 12.0M654.8 201.0l0.0 12.0M678.0 199.8l0.0 12.0M701.2 198.0l0.0 12.0M724.5 195.8l0.0 12.0M747.5 192.9l0.0 12.0M770.5 189.6l0.0 12.0M793.5 185.8l0.0 12.0M816.5 181.7l0.0 12.0M839.5 177.5l0.0 12.0M862.2 173.6l0.0 12.0M885.2 170.1l0.0 12.0M908.5 167.6l0.0 12.0M931.8 166.2l0.0 12.0M955.0 166.4l0.0 12.0M978.2 168.1l0.0 12.0M1001.2 171.2l0.0 12.0M1024.2 175.5l0.0 12.0M1042.8 190.8l8.5 -8.5M1065.3 196.2l8.5 -8.5M1087.8 201.9l8.5 -8.5M1114.8 197.2l0.0 12.0M1137.5 202.4l0.0 12.0M1160.2 207.1l0.0 12.0M1183.0 211.2l0.0 12.0M1206.0 214.8l0.0 12.0M1229.2 217.7l0.0 12.0M1252.5 220.1l0.0 12.0M1275.5 221.9l0.0 12.0M1298.8 223.4l0.0 12.0M1322.0 224.6l0.0 12.0M1345.2 225.4l0.0 12.0M1368.5 226.2l0.0 12.0M1391.8 226.7l0.0 12.0M1415.2 227.2l0.0 12.0M1438.5 227.5l0.0 12.0M1461.8 227.8l0.0 12.0M1485.0 228.1l0.0 12.0M1508.2 228.3l0.0 12.0M1531.5 228.4l0.0 12.0M1554.8 228.5l0.0 12.0M1578.0 228.6l0.0 12.0M1601.5 228.6l0.0 12.0M1624.8 228.6l0.0 12.0M1648.0 228.6l0.0 12.0M1671.2 228.5l0.0 12.0M1694.5 228.4l0.0 12.0M1717.8 228.3l0.0 12.0M1741.0 228.1l0.0 12.0M1764.2 227.9l0.0 12.0M1787.5 227.7l0.0 12.0" stroke="#D4960A" stroke-width="1.7" fill="none"/>
<path d="M142.0 379.6 L145.0 378.6 L148.0 376.3 L151.0 373.7 L154.0 372.1 L157.0 372.0 L160.0 373.0 L163.0 374.2 L166.0 374.9 L169.0 375.0 L172.0 375.1 L175.0 375.5 L178.0 376.3 L181.0 376.8 L184.0 376.5 L187.0 375.2 L190.0 373.1 L193.0 371.0 L196.0 369.5 L199.0 369.0 L202.0 369.1 L205.0 369.1 L208.0 368.4 L211.0 367.2 L214.0 365.9 L217.0 365.0 L220.0 364.8 L223.0 365.8 L226.0 367.6 L229.0 369.5 L232.0 370.6 L235.0 370.5 L238.0 369.5 L241.0 368.6 L244.0 368.7 L247.0 370.3 L250.0 373.0 L253.0 375.8 L256.0 377.4 L259.0 377.6 L262.0 376.6 L265.0 375.2 L268.0 374.1 L271.0 373.8 L274.0 374.3 L277.0 375.0 L280.0 375.3 L283.0 375.0 L286.0 374.5 L289.0 374.3 L292.0 374.1 L295.0 373.6 L298.0 372.5 L301.0 371.3 L304.0 370.6 L307.0 370.3 L310.0 369.8 L313.0 368.8 L316.0 367.4 L319.0 366.2 L322.0 365.7 L325.0 366.2 L328.0 367.4 L331.0 369.0 L334.0 370.3 L337.0 371.1 L340.0 371.2 L343.0 370.9 L346.0 370.1 L349.0 368.8 L352.0 367.5 L355.0 366.7 L358.0 366.6 L361.0 367.0 L364.0 367.3 L367.0 367.3 L370.0 367.2 L373.0 367.2 L376.0 367.6 L379.0 368.4 L382.0 369.8 L385.0 372.0 L388.0 374.5 L391.0 376.3 L394.0 376.4 L397.0 375.1 L400.0 373.0 L403.0 370.7 L406.0 368.5 L409.0 366.6 L412.0 364.8 L415.0 363.1 L418.0 361.5 L421.0 360.6 L424.0 360.8 L427.0 361.9 L430.0 363.5 L433.0 364.8 L436.0 365.8 L439.0 366.0 L442.0 365.5 L445.0 364.5 L448.0 363.6 L451.0 363.2 L454.0 363.4 L457.0 363.6 L460.0 363.6 L463.0 363.2 L466.0 362.6 L469.0 362.0 L472.0 361.5 L475.0 361.7 L478.0 363.2 L481.0 365.7 L484.0 368.3 L487.0 369.9 L490.0 370.4 L493.0 370.1 L496.0 369.3 L499.0 368.4 L502.0 367.8 L505.0 367.6 L508.0 367.8 L511.0 368.3 L514.0 369.1 L517.0 369.6 L520.0 369.0 L523.0 367.1 L526.0 364.6 L529.0 362.5 L532.0 361.6 L535.0 361.5 L538.0 361.4 L541.0 360.5 L544.0 359.1 L547.0 357.7 L550.0 356.8 L553.0 356.2 L556.0 355.8 L559.0 355.5 L562.0 355.9 L565.0 357.5 L568.0 360.0 L571.0 362.3 L574.0 363.3 L577.0 362.0 L580.0 358.9 L583.0 355.4 L586.0 352.8 L589.0 351.6 L592.0 351.4 L595.0 351.6 L598.0 351.8 L601.0 352.3 L604.0 353.0 L607.0 353.7 L610.0 354.1 L613.0 354.0 L616.0 353.3 L619.0 352.6 L622.0 352.8 L625.0 354.6 L628.0 357.8 L631.0 361.2 L634.0 363.1 L637.0 363.0 L640.0 361.4 L643.0 359.4 L646.0 357.4 L649.0 355.7 L652.0 354.2 L655.0 352.8 L658.0 351.7 L661.0 351.0 L664.0 350.9 L667.0 351.6 L670.0 352.8 L673.0 353.9 L676.0 354.1 L679.0 353.5 L682.0 352.5 L685.0 351.4 L688.0 350.8 L691.0 350.9 L694.0 351.4 L697.0 351.9 L700.0 351.8 L703.0 351.0 L706.0 349.7 L709.0 348.1 L712.0 346.6 L715.0 345.0 L718.0 343.9 L721.0 343.7 L724.0 344.6 L727.0 345.9 L730.0 346.5 L733.0 346.1 L736.0 344.8 L739.0 343.2 L742.0 341.6 L745.0 339.8 L748.0 337.7 L751.0 335.5 L754.0 333.9 L757.0 333.4 L760.0 334.2 L763.0 336.1 L766.0 338.1 L769.0 339.1 L772.0 338.3 L775.0 335.9 L778.0 333.0 L781.0 330.7 L784.0 329.5 L787.0 329.2 L790.0 329.1 L793.0 329.3 L796.0 329.8 L799.0 330.8 L802.0 332.0 L805.0 333.0 L808.0 333.7 L811.0 334.1 L814.0 334.1 L817.0 333.6 L820.0 332.3 L823.0 330.2 L826.0 327.8 L829.0 325.7 L832.0 324.4 L835.0 324.0 L838.0 323.9 L841.0 323.8 L844.0 323.0 L847.0 321.3 L850.0 319.2 L853.0 317.7 L856.0 317.3 L859.0 317.5 L862.0 318.0 L865.0 318.4 L868.0 318.8 L871.0 319.4 L874.0 320.3 L877.0 321.5 L880.0 322.1 L883.0 321.3 L886.0 319.3 L889.0 316.8 L892.0 314.9 L895.0 313.5 L898.0 312.4 L901.0 311.4 L904.0 310.1 L907.0 308.7 L910.0 307.1 L913.0 305.8 L916.0 305.3 L919.0 305.8 L922.0 306.9 L925.0 307.9 L928.0 308.7 L931.0 309.5 L934.0 310.7 L937.0 311.9 L940.0 312.5 L943.0 312.2 L946.0 311.3 L949.0 310.4 L952.0 309.9 L955.0 310.4 L958.0 311.9 L961.0 313.9 L964.0 315.4 L967.0 316.0 L970.0 316.0 L973.0 316.1 L976.0 316.7 L979.0 317.7 L982.0 318.5 L985.0 318.4 L988.0 317.7 L991.0 316.9 L994.0 316.1 L997.0 315.2 L1000.0 314.1 L1003.0 313.7 L1006.0 314.6 L1009.0 316.7 L1012.0 319.1 L1015.0 321.0 L1018.0 322.1 L1021.0 322.9 L1024.0 324.0 L1027.0 325.5 L1030.0 327.0 L1033.0 327.7 L1036.0 327.6 L1039.0 327.2 L1042.0 326.7 L1045.0 326.4 L1048.0 326.6 L1051.0 327.1 L1054.0 327.7 L1057.0 328.2 L1060.0 328.4 L1063.0 328.6 L1066.0 328.8 L1069.0 329.3 L1072.0 330.1 L1075.0 331.3 L1078.0 332.6 L1081.0 333.7 L1084.0 334.6 L1087.0 335.7 L1090.0 337.2 L1093.0 339.7 L1096.0 343.3 L1099.0 347.3 L1102.0 350.6 L1105.0 352.1 L1108.0 352.0 L1111.0 351.5 L1114.0 351.3 L1117.0 351.6 L1120.0 352.3 L1123.0 353.3 L1126.0 354.6 L1129.0 356.0 L1132.0 357.0 L1135.0 357.7 L1138.0 358.3 L1141.0 359.1 L1144.0 359.9 L1147.0 360.2 L1150.0 360.2 L1153.0 360.4 L1156.0 361.6 L1159.0 363.8 L1162.0 366.3 L1165.0 368.4 L1168.0 369.5 L1171.0 370.0 L1174.0 370.3 L1177.0 370.8 L1180.0 371.8 L1183.0 373.1 L1186.0 374.2 L1189.0 375.0 L1192.0 375.9 L1195.0 376.8 L1198.0 377.8 L1201.0 378.8 L1204.0 380.2 L1207.0 382.2 L1210.0 384.5 L1213.0 386.4 L1216.0 387.5 L1219.0 387.9 L1222.0 388.0 L1225.0 388.0 L1228.0 388.0 L1231.0 388.1 L1234.0 388.3 L1237.0 388.9 L1240.0 389.8 L1243.0 391.1 L1246.0 392.8 L1249.0 394.9 L1252.0 397.5 L1255.0 400.1 L1258.0 402.3 L1261.0 403.9 L1264.0 404.7 L1267.0 404.7 L1270.0 404.4 L1273.0 404.3 L1276.0 404.5 L1279.0 404.3 L1282.0 403.4 L1285.0 402.4 L1288.0 402.4 L1291.0 403.6 L1294.0 405.3 L1297.0 406.7 L1300.0 407.3 L1303.0 407.5 L1306.0 407.1 L1309.0 406.3 L1312.0 405.3 L1315.0 404.6 L1318.0 404.6 L1321.0 405.2 L1324.0 405.8 L1327.0 405.9 L1330.0 405.4 L1333.0 404.7 L1336.0 404.1 L1339.0 404.2 L1342.0 405.6 L1345.0 408.0 L1348.0 410.8 L1351.0 412.9 L1354.0 414.1 L1357.0 414.5 L1360.0 414.6 L1363.0 414.7 L1366.0 414.7 L1369.0 414.3 L1372.0 413.6 L1375.0 412.9 L1378.0 412.5 L1381.0 412.6 L1384.0 413.1 L1387.0 413.6 L1390.0 414.1 L1393.0 414.4 L1396.0 415.0 L1399.0 416.0 L1402.0 417.7 L1405.0 419.7 L1408.0 421.5 L1411.0 422.5 L1414.0 422.1 L1417.0 420.6 L1420.0 418.8 L1423.0 417.3 L1426.0 416.4 L1429.0 415.4 L1432.0 414.0 L1435.0 412.3 L1438.0 410.8 L1441.0 410.0 L1444.0 410.3 L1447.0 411.2 L1450.0 412.2 L1453.0 412.8 L1456.0 412.6 L1459.0 411.6 L1462.0 410.0 L1465.0 408.7 L1468.0 408.6 L1471.0 410.1 L1474.0 412.6 L1477.0 414.9 L1480.0 416.4 L1483.0 416.9 L1486.0 417.2 L1489.0 417.9 L1492.0 419.3 L1495.0 421.0 L1498.0 422.5 L1501.0 423.1 L1504.0 422.5 L1507.0 421.3 L1510.0 420.5 L1513.0 420.5 L1516.0 421.1 L1519.0 421.6 L1522.0 421.4 L1525.0 420.6 L1528.0 419.5 L1531.0 418.7 L1534.0 418.2 L1537.0 417.6 L1540.0 417.4 L1543.0 417.9 L1546.0 419.5 L1549.0 421.6 L1552.0 422.9 L1555.0 422.5 L1558.0 420.9 L1561.0 419.4 L1564.0 418.8 L1567.0 419.0 L1570.0 419.6 L1573.0 420.1 L1576.0 420.2 L1579.0 419.3 L1582.0 417.2 L1585.0 414.8 L1588.0 413.1 L1591.0 412.9 L1594.0 414.4 L1597.0 417.2 L1600.0 420.5 L1603.0 423.4 L1606.0 425.0 L1609.0 425.2 L1612.0 424.4 L1615.0 423.0 L1618.0 421.3 L1621.0 419.3 L1624.0 417.6 L1627.0 416.3 L1630.0 415.4 L1633.0 414.8 L1636.0 414.5 L1639.0 414.9 L1642.0 416.2 L1645.0 417.9 L1648.0 419.4 L1651.0 420.1 L1654.0 419.8 L1657.0 418.8 L1660.0 417.8 L1663.0 417.3 L1666.0 417.5 L1669.0 417.9 L1672.0 418.4 L1675.0 419.0 L1678.0 420.0 L1681.0 421.6 L1684.0 423.5 L1687.0 425.3 L1690.0 426.7 L1693.0 427.2 L1696.0 427.2 L1699.0 427.2 L1702.0 427.0 L1705.0 425.9 L1708.0 423.9 L1711.0 421.7 L1714.0 420.1 L1717.0 419.3 L1720.0 419.1 L1723.0 418.8 L1726.0 418.2 L1729.0 417.4 L1732.0 417.0 L1735.0 417.5 L1738.0 418.9 L1741.0 420.8 L1744.0 422.5 L1747.0 423.6 L1750.0 423.8 L1753.0 423.3 L1756.0 422.5 L1759.0 421.9 L1762.0 421.7 L1765.0 421.7 L1768.0 421.8 L1771.0 421.5 L1774.0 420.7 L1777.0 419.7 L1780.0 419.0 L1783.0 418.9 L1786.0 419.1 L1789.0 418.9 L1792.8 417.8" stroke="#8C8C00" stroke-width="12.4" stroke-linejoin="round" fill="none"/>
<path d="M142.0 380.2 L145.0 380.2 L148.0 380.2 L151.0 380.1 L154.0 380.1 L157.0 380.1 L160.0 380.0 L163.0 380.0 L166.0 380.0 L169.0 379.9 L172.0 379.9 L175.0 379.9 L178.0 379.9 L181.0 379.8 L184.0 379.8 L187.0 379.8 L190.0 379.8 L193.0 379.7 L196.0 379.7 L199.0 379.7 L202.0 379.7 L205.0 379.7 L208.0 379.7 L211.0 379.6 L214.0 379.6 L217.0 379.6 L220.0 379.6 L223.0 379.6 L226.0 379.6 L229.0 379.6 L232.0 379.6 L235.0 379.6 L238.0 379.6 L241.0 379.6 L244.0 379.6 L247.0 379.6 L250.0 379.6 L253.0 379.6 L256.0 379.6 L259.0 379.6 L262.0 379.6 L265.0 379.6 L268.0 379.6 L271.0 379.6 L274.0 379.6 L277.0 379.6 L280.0 379.6 L283.0 379.6 L286.0 379.6 L289.0 379.6 L292.0 379.6 L295.0 379.7 L298.0 379.7 L301.0 379.7 L304.0 379.7 L307.0 379.7 L310.0 379.7 L313.0 379.8 L316.0 379.8 L319.0 379.8 L322.0 379.8 L325.0 379.8 L328.0 379.9 L331.0 379.9 L334.0 379.9 L337.0 380.0 L340.0 380.0 L343.0 380.0 L346.0 380.0 L349.0 380.1 L352.0 380.1 L355.0 380.1 L358.0 380.2 L361.0 380.2 L364.0 380.2 L367.0 380.3 L370.0 380.3 L373.0 380.4 L376.0 380.4 L379.0 380.4 L382.0 380.5 L385.0 380.5 L388.0 380.6 L391.0 380.6 L394.0 380.7 L397.0 380.7 L400.0 380.7 L403.0 380.8 L406.0 380.8 L409.0 380.9 L412.0 380.9 L415.0 381.0 L418.0 381.1 L421.0 381.1 L424.0 381.2 L427.0 381.2 L430.0 381.3 L433.0 381.3 L436.0 381.4 L439.0 381.5 L442.0 381.5 L445.0 381.6 L448.0 381.6 L451.0 381.7 L454.0 381.8 L457.0 381.8 L460.0 381.9 L463.0 382.0 L466.0 382.0 L469.0 382.1 L472.0 382.2 L475.0 382.2 L478.0 382.3 L481.0 382.4 L484.0 382.5 L487.0 382.5 L490.0 382.6 L493.0 382.7 L496.0 382.8 L499.0 382.8 L502.0 382.9 L505.0 383.0 L508.0 383.1 L511.0 383.2 L514.0 383.2 L517.0 383.3 L520.0 383.4 L523.0 383.5 L526.0 383.6 L529.0 383.7 L532.0 383.8 L535.0 383.9 L538.0 383.9 L541.0 384.0 L544.0 384.1 L547.0 384.2 L550.0 384.3 L553.0 384.4 L556.0 384.5 L559.0 384.6 L562.0 384.7 L565.0 384.8 L568.0 384.9 L571.0 385.0 L574.0 385.1 L577.0 385.2 L580.0 385.3 L583.0 385.4 L586.0 385.5 L589.0 385.6 L592.0 385.7 L595.0 385.8 L598.0 385.9 L601.0 386.1 L604.0 386.2 L607.0 386.3 L610.0 386.4 L613.0 386.5 L616.0 386.6 L619.0 386.7 L622.0 386.8 L625.0 387.0 L628.0 387.1 L631.0 387.2 L634.0 387.3 L637.0 387.4 L640.0 387.6 L643.0 387.7 L646.0 387.8 L649.0 387.9 L652.0 388.0 L655.0 388.2 L658.0 388.3 L661.0 388.4 L664.0 388.6 L667.0 388.7 L670.0 388.8 L673.0 388.9 L676.0 389.1 L679.0 389.2 L682.0 389.3 L685.0 389.5 L688.0 389.6 L691.0 389.7 L694.0 389.9 L697.0 390.0 L700.0 390.2 L703.0 390.3 L706.0 390.4 L709.0 390.6 L712.0 390.7 L715.0 390.9 L718.0 391.0 L721.0 391.1 L724.0 391.3 L727.0 391.4 L730.0 391.6 L733.0 391.7 L736.0 391.9 L739.0 392.0 L742.0 392.2 L745.0 392.3 L748.0 392.5 L751.0 392.6 L754.0 392.8 L757.0 392.9 L760.0 393.1 L763.0 393.2 L766.0 393.4 L769.0 393.5 L772.0 393.7 L775.0 393.8 L778.0 394.0 L781.0 394.2 L784.0 394.3 L787.0 394.5 L790.0 394.6 L793.0 394.8 L796.0 394.9 L799.0 395.1 L802.0 395.3 L805.0 395.4 L808.0 395.6 L811.0 395.7 L814.0 395.9 L817.0 396.1 L820.0 396.2 L823.0 396.4 L826.0 396.6 L829.0 396.7 L832.0 396.9 L835.0 397.0 L838.0 397.2 L841.0 397.4 L844.0 397.5 L847.0 397.7 L850.0 397.9 L853.0 398.0 L856.0 398.2 L859.0 398.4 L862.0 398.5 L865.0 398.7 L868.0 398.9 L871.0 399.0 L874.0 399.2 L877.0 399.4 L880.0 399.5 L883.0 399.7 L886.0 399.9 L889.0 400.0 L892.0 400.2 L895.0 400.4 L898.0 400.5 L901.0 400.7 L904.0 400.9 L907.0 401.0 L910.0 401.2 L913.0 401.4 L916.0 401.5 L919.0 401.7 L922.0 401.9 L925.0 402.0 L928.0 402.2 L931.0 402.4 L934.0 402.6 L937.0 402.7 L940.0 402.9 L943.0 403.1 L946.0 403.2 L949.0 403.4 L952.0 403.6 L955.0 403.7 L958.0 403.9 L961.0 404.1 L964.0 404.2 L967.0 404.4 L970.0 404.6 L973.0 404.7 L976.0 404.9 L979.0 405.1 L982.0 405.2 L985.0 405.4 L988.0 405.6 L991.0 405.7 L994.0 405.9 L997.0 406.1 L1000.0 406.2 L1003.0 406.4 L1006.0 406.6 L1009.0 406.7 L1012.0 406.9 L1015.0 407.0 L1018.0 407.2 L1021.0 407.4 L1024.0 407.5 L1027.0 407.7 L1030.0 407.9 L1033.0 408.0 L1036.0 408.2 L1039.0 408.3 L1042.0 408.5 L1045.0 408.7 L1048.0 408.8 L1051.0 409.0 L1054.0 409.1 L1057.0 409.3 L1060.0 409.5 L1063.0 409.6 L1066.0 409.8 L1069.0 409.9 L1072.0 410.1 L1075.0 410.2 L1078.0 410.4 L1081.0 410.6 L1084.0 410.7 L1087.0 410.9 L1090.0 411.0 L1093.0 411.2 L1096.0 411.3 L1099.0 411.5 L1102.0 411.6 L1105.0 411.8 L1108.0 411.9 L1111.0 412.1 L1114.0 412.2 L1117.0 412.4 L1120.0 412.5 L1123.0 412.7 L1126.0 412.8 L1129.0 413.0 L1132.0 413.1 L1135.0 413.3 L1138.0 413.4 L1141.0 413.5 L1144.0 413.7 L1147.0 413.8 L1150.0 414.0 L1153.0 414.1 L1156.0 414.2 L1159.0 414.4 L1162.0 414.5 L1165.0 414.7 L1168.0 414.8 L1171.0 414.9 L1174.0 415.1 L1177.0 415.2 L1180.0 415.3 L1183.0 415.5 L1186.0 415.6 L1189.0 415.7 L1192.0 415.9 L1195.0 416.0 L1198.0 416.1 L1201.0 416.2 L1204.0 416.4 L1207.0 416.5 L1210.0 416.6 L1213.0 416.8 L1216.0 416.9 L1219.0 417.0 L1222.0 417.1 L1225.0 417.2 L1228.0 417.4 L1231.0 417.5 L1234.0 417.6 L1237.0 417.7 L1240.0 417.8 L1243.0 417.9 L1246.0 418.1 L1249.0 418.2 L1252.0 418.3 L1255.0 418.4 L1258.0 418.5 L1261.0 418.6 L1264.0 418.7 L1267.0 418.8 L1270.0 418.9 L1273.0 419.0 L1276.0 419.1 L1279.0 419.2 L1282.0 419.4 L1285.0 419.5 L1288.0 419.6 L1291.0 419.7 L1294.0 419.8 L1297.0 419.8 L1300.0 419.9 L1303.0 420.0 L1306.0 420.1 L1309.0 420.2 L1312.0 420.3 L1315.0 420.4 L1318.0 420.5 L1321.0 420.6 L1324.0 420.7 L1327.0 420.8 L1330.0 420.9 L1333.0 420.9 L1336.0 421.0 L1339.0 421.1 L1342.0 421.2 L1345.0 421.3 L1348.0 421.4 L1351.0 421.4 L1354.0 421.5 L1357.0 421.6 L1360.0 421.7 L1363.0 421.7 L1366.0 421.8 L1369.0 421.9 L1372.0 422.0 L1375.0 422.0 L1378.0 422.1 L1381.0 422.2 L1384.0 422.3 L1387.0 422.3 L1390.0 422.4 L1393.0 422.5 L1396.0 422.5 L1399.0 422.6 L1402.0 422.7 L1405.0 422.7 L1408.0 422.8 L1411.0 422.8 L1414.0 422.9 L1417.0 423.0 L1420.0 423.0 L1423.0 423.1 L1426.0 423.1 L1429.0 423.2 L1432.0 423.2 L1435.0 423.3 L1438.0 423.3 L1441.0 423.4 L1444.0 423.4 L1447.0 423.5 L1450.0 423.5 L1453.0 423.6 L1456.0 423.6 L1459.0 423.7 L1462.0 423.7 L1465.0 423.8 L1468.0 423.8 L1471.0 423.9 L1474.0 423.9 L1477.0 423.9 L1480.0 424.0 L1483.0 424.0 L1486.0 424.1 L1489.0 424.1 L1492.0 424.1 L1495.0 424.2 L1498.0 424.2 L1501.0 424.2 L1504.0 424.3 L1507.0 424.3 L1510.0 424.3 L1513.0 424.3 L1516.0 424.4 L1519.0 424.4 L1522.0 424.4 L1525.0 424.4 L1528.0 424.5 L1531.0 424.5 L1534.0 424.5 L1537.0 424.5 L1540.0 424.6 L1543.0 424.6 L1546.0 424.6 L1549.0 424.6 L1552.0 424.6 L1555.0 424.6 L1558.0 424.7 L1561.0 424.7 L1564.0 424.7 L1567.0 424.7 L1570.0 424.7 L1573.0 424.7 L1576.0 424.7 L1579.0 424.7 L1582.0 424.7 L1585.0 424.7 L1588.0 424.8 L1591.0 424.8 L1594.0 424.8 L1597.0 424.8 L1600.0 424.8 L1603.0 424.8 L1606.0 424.8 L1609.0 424.8 L1612.0 424.8 L1615.0 424.8 L1618.0 424.8 L1621.0 424.7 L1624.0 424.7 L1627.0 424.7 L1630.0 424.7 L1633.0 424.7 L1636.0 424.7 L1639.0 424.7 L1642.0 424.7 L1645.0 424.7 L1648.0 424.7 L1651.0 424.6 L1654.0 424.6 L1657.0 424.6 L1660.0 424.6 L1663.0 424.6 L1666.0 424.6 L1669.0 424.5 L1672.0 424.5 L1675.0 424.5 L1678.0 424.5 L1681.0 424.4 L1684.0 424.4 L1687.0 424.4 L1690.0 424.4 L1693.0 424.3 L1696.0 424.3 L1699.0 424.3 L1702.0 424.3 L1705.0 424.2 L1708.0 424.2 L1711.0 424.2 L1714.0 424.1 L1717.0 424.1 L1720.0 424.1 L1723.0 424.0 L1726.0 424.0 L1729.0 423.9 L1732.0 423.9 L1735.0 423.9 L1738.0 423.8 L1741.0 423.8 L1744.0 423.7 L1747.0 423.7 L1750.0 423.6 L1753.0 423.6 L1756.0 423.6 L1759.0 423.5 L1762.0 423.5 L1765.0 423.4 L1768.0 423.4 L1771.0 423.3 L1774.0 423.3 L1777.0 423.2 L1780.0 423.1 L1783.0 423.1 L1786.0 423.0 L1789.0 423.0 L1792.8 422.9" stroke="#FF6A1A" stroke-width="1.7" fill="none"/>
<path d="M142.0 375.3 L145.0 375.2 L148.0 375.1 L151.0 375.1 L154.0 375.0 L157.0 374.9 L160.0 374.8 L163.0 374.7 L166.0 374.6 L169.0 374.5 L172.0 374.4 L175.0 374.3 L178.0 374.3 L181.0 374.2 L184.0 374.1 L187.0 374.0 L190.0 373.9 L193.0 373.8 L196.0 373.8 L199.0 373.7 L202.0 373.6 L205.0 373.5 L208.0 373.4 L211.0 373.4 L214.0 373.3 L217.0 373.2 L220.0 373.1 L223.0 373.0 L226.0 373.0 L229.0 372.9 L232.0 372.8 L235.0 372.7 L238.0 372.7 L241.0 372.6 L244.0 372.5 L247.0 372.4 L250.0 372.4 L253.0 372.3 L256.0 372.2 L259.0 372.1 L262.0 372.1 L265.0 372.0 L268.0 371.9 L271.0 371.8 L274.0 371.8 L277.0 371.7 L280.0 371.6 L283.0 371.5 L286.0 371.5 L289.0 371.4 L292.0 371.3 L295.0 371.2 L298.0 371.2 L301.0 371.1 L304.0 371.0 L307.0 370.9 L310.0 370.8 L313.0 370.8 L316.0 370.7 L319.0 370.6 L322.0 370.5 L325.0 370.5 L328.0 370.4 L331.0 370.3 L334.0 370.2 L337.0 370.1 L340.0 370.1 L343.0 370.0 L346.0 369.9 L349.0 369.8 L352.0 369.7 L355.0 369.6 L358.0 369.6 L361.0 369.5 L364.0 369.4 L367.0 369.3 L370.0 369.2 L373.0 369.1 L376.0 369.0 L379.0 369.0 L382.0 368.9 L385.0 368.8 L388.0 368.7 L391.0 368.6 L394.0 368.5 L397.0 368.4 L400.0 368.3 L403.0 368.2 L406.0 368.1 L409.0 368.0 L412.0 367.9 L415.0 367.8 L418.0 367.7 L421.0 367.6 L424.0 367.5 L427.0 367.4 L430.0 367.3 L433.0 367.2 L436.0 367.1 L439.0 367.0 L442.0 366.9 L445.0 366.8 L448.0 366.6 L451.0 366.5 L454.0 366.4 L457.0 366.3 L460.0 366.2 L463.0 366.1 L466.0 365.9 L469.0 365.8 L472.0 365.7 L475.0 365.6 L478.0 365.5 L481.0 365.3 L484.0 365.2 L487.0 365.1 L490.0 364.9 L493.0 364.8 L496.0 364.7 L499.0 364.5 L502.0 364.4 L505.0 364.2 L508.0 364.1 L511.0 364.0 L514.0 363.8 L517.0 363.7 L520.0 363.5 L523.0 363.4 L526.0 363.2 L529.0 363.1 L532.0 362.9 L535.0 362.8 L538.0 362.6 L541.0 362.4 L544.0 362.3 L547.0 362.1 L550.0 361.9 L553.0 361.8 L556.0 361.6 L559.0 361.4 L562.0 361.2 L565.0 361.1 L568.0 360.9 L571.0 360.7 L574.0 360.5 L577.0 360.3 L580.0 360.1 L583.0 360.0 L586.0 359.8 L589.0 359.6 L592.0 359.4 L595.0 359.2 L598.0 359.0 L601.0 358.8 L604.0 358.6 L607.0 358.3 L610.0 358.1 L613.0 357.9 L616.0 357.7 L619.0 357.5 L622.0 357.3 L625.0 357.0 L628.0 356.8 L631.0 356.6 L634.0 356.3 L637.0 356.1 L640.0 355.9 L643.0 355.6 L646.0 355.4 L649.0 355.1 L652.0 354.9 L655.0 354.6 L658.0 354.3 L661.0 354.0 L664.0 353.8 L667.0 353.5 L670.0 353.2 L673.0 352.9 L676.0 352.6 L679.0 352.3 L682.0 352.0 L685.0 351.7 L688.0 351.3 L691.0 351.0 L694.0 350.7 L697.0 350.3 L700.0 350.0 L703.0 349.6 L706.0 349.3 L709.0 348.9 L712.0 348.5 L715.0 348.2 L718.0 347.8 L721.0 347.4 L724.0 347.0 L727.0 346.5 L730.0 346.1 L733.0 345.7 L736.0 345.3 L739.0 344.8 L742.0 344.4 L745.0 343.9 L748.0 343.4 L751.0 342.9 L754.0 342.4 L757.0 341.9 L760.0 341.4 L763.0 340.9 L766.0 340.4 L769.0 339.9 L772.0 339.3 L775.0 338.8 L778.0 338.2 L781.0 337.7 L784.0 337.1 L787.0 336.5 L790.0 336.0 L793.0 335.4 L796.0 334.8 L799.0 334.3 L802.0 333.7 L805.0 333.1 L808.0 332.5 L811.0 331.9 L814.0 331.4 L817.0 330.8 L820.0 330.2 L823.0 329.6 L826.0 329.1 L829.0 328.5 L832.0 327.9 L835.0 327.4 L838.0 326.8 L841.0 326.2 L844.0 325.7 L847.0 325.2 L850.0 324.6 L853.0 324.1 L856.0 323.6 L859.0 323.0 L862.0 322.5 L865.0 322.0 L868.0 321.6 L871.0 321.1 L874.0 320.6 L877.0 320.2 L880.0 319.7 L883.0 319.3 L886.0 318.9 L889.0 318.4 L892.0 318.0 L895.0 317.7 L898.0 317.3 L901.0 316.9 L904.0 316.6 L907.0 316.3 L910.0 316.0 L913.0 315.7 L916.0 315.4 L919.0 315.2 L922.0 314.9 L925.0 314.7 L928.0 314.5 L931.0 314.4 L934.0 314.2 L937.0 314.1 L940.0 313.9 L943.0 313.9 L946.0 313.8 L949.0 313.7 L952.0 313.7 L955.0 313.7 L958.0 313.7 L961.0 313.8 L964.0 313.9 L967.0 314.0 L970.0 314.1 L973.0 314.3 L976.0 314.4 L979.0 314.6 L982.0 314.9 L985.0 315.1 L988.0 315.4 L991.0 315.8 L994.0 316.1 L997.0 316.5 L1000.0 316.9 L1003.0 317.3 L1006.0 317.8 L1009.0 318.3 L1012.0 318.8 L1015.0 319.3 L1018.0 319.9 L1021.0 320.5 L1024.0 321.1 L1027.0 321.7 L1030.0 322.4 L1033.0 323.1 L1036.0 323.8 L1039.0 324.5 L1042.0 325.3 L1045.0 326.1 L1048.0 326.9 L1051.0 327.7 L1054.0 328.6 L1057.0 329.5 L1060.0 330.4 L1063.0 331.3 L1066.0 332.2 L1069.0 333.2 L1072.0 334.2 L1075.0 335.2 L1078.0 336.2 L1081.0 337.2 L1084.0 338.2 L1087.0 339.3 L1090.0 340.4 L1093.0 341.4 L1096.0 342.5 L1099.0 343.6 L1102.0 344.7 L1105.0 345.8 L1108.0 347.0 L1111.0 348.1 L1114.0 349.2 L1117.0 350.4 L1120.0 351.5 L1123.0 352.7 L1126.0 353.8 L1129.0 355.0 L1132.0 356.1 L1135.0 357.3 L1138.0 358.4 L1141.0 359.6 L1144.0 360.7 L1147.0 361.9 L1150.0 363.0 L1153.0 364.2 L1156.0 365.3 L1159.0 366.4 L1162.0 367.6 L1165.0 368.7 L1168.0 369.8 L1171.0 370.9 L1174.0 372.0 L1177.0 373.1 L1180.0 374.1 L1183.0 375.2 L1186.0 376.2 L1189.0 377.3 L1192.0 378.3 L1195.0 379.3 L1198.0 380.3 L1201.0 381.3 L1204.0 382.3 L1207.0 383.2 L1210.0 384.2 L1213.0 385.1 L1216.0 386.0 L1219.0 386.9 L1222.0 387.8 L1225.0 388.6 L1228.0 389.5 L1231.0 390.3 L1234.0 391.1 L1237.0 392.0 L1240.0 392.7 L1243.0 393.5 L1246.0 394.3 L1249.0 395.0 L1252.0 395.7 L1255.0 396.4 L1258.0 397.1 L1261.0 397.8 L1264.0 398.4 L1267.0 399.1 L1270.0 399.7 L1273.0 400.3 L1276.0 400.9 L1279.0 401.5 L1282.0 402.1 L1285.0 402.6 L1288.0 403.2 L1291.0 403.7 L1294.0 404.2 L1297.0 404.7 L1300.0 405.2 L1303.0 405.7 L1306.0 406.1 L1309.0 406.6 L1312.0 407.0 L1315.0 407.4 L1318.0 407.9 L1321.0 408.3 L1324.0 408.7 L1327.0 409.0 L1330.0 409.4 L1333.0 409.8 L1336.0 410.1 L1339.0 410.5 L1342.0 410.8 L1345.0 411.1 L1348.0 411.5 L1351.0 411.8 L1354.0 412.1 L1357.0 412.4 L1360.0 412.7 L1363.0 413.0 L1366.0 413.2 L1369.0 413.5 L1372.0 413.8 L1375.0 414.0 L1378.0 414.3 L1381.0 414.5 L1384.0 414.8 L1387.0 415.0 L1390.0 415.2 L1393.0 415.4 L1396.0 415.7 L1399.0 415.9 L1402.0 416.1 L1405.0 416.3 L1408.0 416.5 L1411.0 416.7 L1414.0 416.9 L1417.0 417.1 L1420.0 417.2 L1423.0 417.4 L1426.0 417.6 L1429.0 417.7 L1432.0 417.9 L1435.0 418.1 L1438.0 418.2 L1441.0 418.4 L1444.0 418.5 L1447.0 418.6 L1450.0 418.8 L1453.0 418.9 L1456.0 419.0 L1459.0 419.2 L1462.0 419.3 L1465.0 419.4 L1468.0 419.5 L1471.0 419.6 L1474.0 419.7 L1477.0 419.8 L1480.0 419.9 L1483.0 420.0 L1486.0 420.1 L1489.0 420.2 L1492.0 420.3 L1495.0 420.4 L1498.0 420.4 L1501.0 420.5 L1504.0 420.6 L1507.0 420.7 L1510.0 420.7 L1513.0 420.8 L1516.0 420.8 L1519.0 420.9 L1522.0 421.0 L1525.0 421.0 L1528.0 421.1 L1531.0 421.1 L1534.0 421.2 L1537.0 421.2 L1540.0 421.2 L1543.0 421.3 L1546.0 421.3 L1549.0 421.4 L1552.0 421.4 L1555.0 421.4 L1558.0 421.4 L1561.0 421.5 L1564.0 421.5 L1567.0 421.5 L1570.0 421.5 L1573.0 421.6 L1576.0 421.6 L1579.0 421.6 L1582.0 421.6 L1585.0 421.6 L1588.0 421.6 L1591.0 421.7 L1594.0 421.7 L1597.0 421.7 L1600.0 421.7 L1603.0 421.7 L1606.0 421.7 L1609.0 421.7 L1612.0 421.7 L1615.0 421.7 L1618.0 421.7 L1621.0 421.7 L1624.0 421.7 L1627.0 421.7 L1630.0 421.7 L1633.0 421.7 L1636.0 421.8 L1639.0 421.8 L1642.0 421.8 L1645.0 421.8 L1648.0 421.8 L1651.0 421.8 L1654.0 421.8 L1657.0 421.8 L1660.0 421.8 L1663.0 421.8 L1666.0 421.8 L1669.0 421.8 L1672.0 421.8 L1675.0 421.8 L1678.0 421.8 L1681.0 421.8 L1684.0 421.8 L1687.0 421.8 L1690.0 421.8 L1693.0 421.8 L1696.0 421.8 L1699.0 421.8 L1702.0 421.9 L1705.0 421.9 L1708.0 421.9 L1711.0 421.9 L1714.0 421.9 L1717.0 421.9 L1720.0 422.0 L1723.0 422.0 L1726.0 422.0 L1729.0 422.0 L1732.0 422.1 L1735.0 422.1 L1738.0 422.1 L1741.0 422.1 L1744.0 422.2 L1747.0 422.2 L1750.0 422.3 L1753.0 422.3 L1756.0 422.3 L1759.0 422.4 L1762.0 422.4 L1765.0 422.5 L1768.0 422.5 L1771.0 422.6 L1774.0 422.6 L1777.0 422.7 L1780.0 422.8 L1783.0 422.8 L1786.0 422.9 L1789.0 423.0 L1792.8 423.1" stroke="#6699CC" stroke-width="12.4" fill="none"/>
<path d="M164.2 370.8l0.0 12.0M187.5 370.1l0.0 12.0M210.8 369.4l0.0 12.0M234.0 368.7l0.0 12.0M257.2 368.0l0.0 12.0M280.5 367.3l0.0 12.0M303.8 366.5l0.0 12.0M327.0 365.7l0.0 12.0M350.2 364.9l0.0 12.0M373.5 364.1l0.0 12.0M396.8 363.3l0.0 12.0M420.0 362.5l0.0 12.0M443.2 361.7l0.0 12.0M466.5 360.9l0.0 12.0M490.0 360.1l0.0 12.0M513.2 359.4l0.0 12.0M536.5 358.8l0.0 12.0M559.8 358.2l0.0 12.0M583.0 357.8l0.0 12.0M606.2 357.5l0.0 12.0M629.5 357.4l0.0 12.0M652.8 357.4l0.0 12.0M676.0 357.6l0.0 12.0M699.2 358.1l0.0 12.0M722.8 358.8l0.0 12.0M746.0 359.7l0.0 12.0M769.2 360.9l0.0 12.0M792.5 362.3l0.0 12.0M815.5 363.9l0.0 12.0M838.8 365.8l0.0 12.0M862.0 367.8l0.0 12.0M885.2 370.0l0.0 12.0M908.2 372.3l0.0 12.0M931.5 374.8l0.0 12.0M954.8 377.3l0.0 12.0M977.8 379.8l0.0 12.0M1001.0 382.4l0.0 12.0M1024.0 385.0l0.0 12.0M1047.2 387.6l0.0 12.0M1070.2 390.1l0.0 12.0M1093.5 392.5l0.0 12.0M1116.8 394.9l0.0 12.0M1139.8 397.2l0.0 12.0M1163.0 399.3l0.0 12.0M1186.2 401.4l0.0 12.0M1209.5 403.3l0.0 12.0M1232.5 405.1l0.0 12.0M1255.8 406.8l0.0 12.0M1279.0 408.3l0.0 12.0M1302.2 409.7l0.0 12.0M1325.5 411.0l0.0 12.0M1348.8 412.1l0.0 12.0M1372.0 413.2l0.0 12.0M1395.2 414.1l0.0 12.0M1418.5 414.9l0.0 12.0M1441.8 415.6l0.0 12.0M1465.0 416.2l0.0 12.0M1488.5 416.7l0.0 12.0M1511.8 417.1l0.0 12.0M1535.0 417.4l0.0 12.0M1558.2 417.7l0.0 12.0M1581.5 417.9l0.0 12.0M1604.8 418.0l0.0 12.0M1628.0 418.0l0.0 12.0M1651.2 418.0l0.0 12.0M1674.5 417.9l0.0 12.0M1698.0 417.8l0.0 12.0M1721.2 417.5l0.0 12.0M1744.5 417.3l0.0 12.0M1767.8 416.9l0.0 12.0M1791.0 416.5l0.0 12.0" stroke="#66BB00" stroke-width="1.7" fill="none"/>
<path d="M164.2 373.6l0.0 12.0M187.5 373.4l0.0 12.0M210.8 373.2l0.0 12.0M234.0 373.1l0.0 12.0M257.2 373.1l0.0 12.0M280.5 373.1l0.0 12.0M303.8 373.2l0.0 12.0M327.0 373.3l0.0 12.0M350.5 373.5l0.0 12.0M373.8 373.7l0.0 12.0M397.0 374.0l0.0 12.0M420.2 374.3l0.0 12.0M443.5 374.6l0.0 12.0M466.8 375.0l0.0 12.0M490.0 375.4l0.0 12.0M513.2 375.7l0.0 12.0M536.5 376.0l0.0 12.0M560.0 376.2l0.0 12.0M583.2 376.3l0.0 12.0M606.5 376.1l0.0 12.0M629.8 375.6l0.0 12.0M653.0 374.7l0.0 12.0M676.2 373.4l0.0 12.0M699.5 371.4l0.0 12.0M722.5 368.9l0.0 12.0M745.8 365.7l0.0 12.0M768.5 361.9l0.0 12.0M791.5 357.4l0.0 12.0M814.2 352.6l0.0 12.0M832.8 349.2l8.5 8.5M859.8 342.3l0.0 12.0M882.5 337.4l0.0 12.0M905.2 333.1l0.0 12.0M928.2 329.8l0.0 12.0M951.5 327.7l0.0 12.0M974.8 327.2l0.0 12.0M998.0 328.4l0.0 12.0M1021.0 331.3l0.0 12.0M1044.0 335.9l0.0 12.0M1062.3 351.8l8.5 -8.5M1084.5 358.3l8.5 -8.5M1106.8 365.4l8.5 -8.5M1133.2 362.4l0.0 12.0M1155.2 369.7l0.0 12.0M1177.5 376.7l0.0 12.0M1195.5 393.5l8.5 -8.5M1222.2 389.2l0.0 12.0M1245.0 394.6l0.0 12.0M1267.8 399.2l0.0 12.0M1286.5 413.3l8.5 -8.5M1313.8 406.3l0.0 12.0M1337.0 409.0l0.0 12.0M1360.0 411.1l0.0 12.0M1383.2 412.8l0.0 12.0M1406.5 414.1l0.0 12.0M1429.8 415.2l0.0 12.0M1453.0 416.0l0.0 12.0M1476.2 416.6l0.0 12.0M1499.5 417.1l0.0 12.0M1522.8 417.5l0.0 12.0M1546.2 417.7l0.0 12.0M1569.5 417.9l0.0 12.0M1592.8 418.1l0.0 12.0M1616.0 418.1l0.0 12.0M1639.2 418.1l0.0 12.0M1662.5 418.0l0.0 12.0M1685.8 417.9l0.0 12.0M1709.0 417.7l0.0 12.0M1732.5 417.4l0.0 12.0M1755.8 417.1l0.0 12.0M1779.0 416.8l0.0 12.0" stroke="#4A4A4A" stroke-width="1.7" fill="none"/>
<path d="M142.0 561.0 L145.0 561.3 L148.0 562.0 L151.0 562.6 L154.0 562.8 L157.0 562.5 L160.0 562.1 L163.0 561.7 L166.0 561.2 L169.0 560.5 L172.0 559.3 L175.0 558.2 L178.0 557.5 L181.0 557.6 L184.0 557.9 L187.0 558.2 L190.0 558.4 L193.0 558.5 L196.0 558.5 L199.0 558.2 L202.0 557.6 L205.0 556.9 L208.0 556.4 L211.0 556.3 L214.0 556.5 L217.0 556.7 L220.0 556.9 L223.0 557.1 L226.0 557.3 L229.0 557.3 L232.0 557.2 L235.0 556.9 L238.0 556.5 L241.0 556.1 L244.0 556.1 L247.0 556.7 L250.0 557.7 L253.0 558.8 L256.0 559.9 L259.0 560.7 L262.0 561.3 L265.0 562.0 L268.0 562.4 L271.0 562.4 L274.0 561.8 L277.0 560.8 L280.0 559.7 L283.0 558.6 L286.0 557.8 L289.0 557.0 L292.0 556.4 L295.0 556.0 L298.0 556.1 L301.0 556.9 L304.0 558.1 L307.0 559.2 L310.0 559.6 L313.0 559.4 L316.0 559.0 L319.0 558.8 L322.0 559.2 L325.0 559.7 L328.0 560.0 L331.0 559.5 L334.0 558.2 L337.0 556.8 L340.0 555.8 L343.0 555.7 L346.0 556.4 L349.0 557.3 L352.0 558.1 L355.0 558.6 L358.0 558.9 L361.0 558.9 L364.0 558.7 L367.0 558.6 L370.0 559.0 L373.0 559.9 L376.0 561.0 L379.0 562.0 L382.0 562.5 L385.0 562.2 L388.0 561.1 L391.0 559.7 L394.0 558.3 L397.0 557.6 L400.0 557.4 L403.0 557.5 L406.0 557.6 L409.0 557.8 L412.0 558.2 L415.0 558.7 L418.0 559.1 L421.0 559.2 L424.0 558.5 L427.0 557.2 L430.0 555.5 L433.0 553.9 L436.0 553.1 L439.0 553.2 L442.0 553.9 L445.0 554.6 L448.0 555.1 L451.0 555.3 L454.0 555.1 L457.0 554.8 L460.0 554.4 L463.0 554.0 L466.0 553.7 L469.0 553.6 L472.0 553.5 L475.0 553.2 L478.0 552.9 L481.0 552.8 L484.0 552.9 L487.0 553.3 L490.0 553.7 L493.0 554.3 L496.0 554.9 L499.0 555.2 L502.0 555.1 L505.0 554.6 L508.0 554.2 L511.0 554.0 L514.0 554.0 L517.0 553.9 L520.0 553.4 L523.0 552.6 L526.0 551.9 L529.0 551.8 L532.0 552.2 L535.0 553.0 L538.0 553.6 L541.0 553.8 L544.0 553.2 L547.0 551.9 L550.0 550.1 L553.0 548.4 L556.0 547.7 L559.0 548.0 L562.0 549.2 L565.0 550.6 L568.0 551.8 L571.0 552.6 L574.0 552.7 L577.0 552.0 L580.0 551.0 L583.0 550.1 L586.0 549.4 L589.0 549.1 L592.0 549.0 L595.0 548.9 L598.0 548.7 L601.0 548.3 L604.0 548.1 L607.0 548.4 L610.0 548.8 L613.0 549.2 L616.0 549.3 L619.0 549.1 L622.0 548.9 L625.0 548.6 L628.0 548.3 L631.0 547.7 L634.0 547.0 L637.0 546.8 L640.0 547.4 L643.0 548.5 L646.0 549.6 L649.0 550.1 L652.0 550.3 L655.0 550.5 L658.0 550.8 L661.0 550.8 L664.0 550.4 L667.0 550.2 L670.0 550.6 L673.0 551.7 L676.0 552.7 L679.0 553.0 L682.0 552.4 L685.0 551.3 L688.0 550.1 L691.0 549.3 L694.0 548.9 L697.0 549.0 L700.0 549.4 L703.0 549.6 L706.0 549.2 L709.0 548.4 L712.0 547.2 L715.0 546.2 L718.0 545.3 L721.0 544.6 L724.0 543.9 L727.0 543.3 L730.0 542.8 L733.0 542.7 L736.0 543.3 L739.0 544.5 L742.0 546.1 L745.0 547.3 L748.0 547.7 L751.0 547.6 L754.0 547.3 L757.0 547.2 L760.0 547.3 L763.0 547.2 L766.0 546.6 L769.0 545.6 L772.0 544.6 L775.0 544.0 L778.0 543.6 L781.0 543.5 L784.0 543.5 L787.0 543.6 L790.0 544.0 L793.0 544.3 L796.0 544.1 L799.0 543.6 L802.0 542.7 L805.0 541.7 L808.0 540.8 L811.0 540.1 L814.0 539.6 L817.0 539.5 L820.0 539.9 L823.0 540.5 L826.0 540.9 L829.0 541.0 L832.0 540.9 L835.0 540.7 L838.0 540.5 L841.0 539.8 L844.0 538.6 L847.0 536.8 L850.0 535.0 L853.0 533.7 L856.0 533.1 L859.0 533.3 L862.0 533.9 L865.0 534.4 L868.0 534.2 L871.0 533.7 L874.0 532.8 L877.0 531.5 L880.0 529.4 L883.0 526.5 L886.0 523.4 L889.0 520.7 L892.0 518.8 L895.0 517.9 L898.0 517.8 L901.0 518.4 L904.0 519.2 L907.0 520.0 L910.0 520.3 L913.0 519.9 L916.0 518.6 L919.0 516.9 L922.0 515.1 L925.0 513.5 L928.0 512.0 L931.0 510.8 L934.0 510.0 L937.0 509.7 L940.0 509.7 L943.0 509.5 L946.0 508.8 L949.0 507.7 L952.0 506.9 L955.0 506.9 L958.0 507.8 L961.0 509.1 L964.0 509.8 L967.0 509.7 L970.0 509.2 L973.0 508.7 L976.0 508.6 L979.0 508.7 L982.0 508.8 L985.0 508.7 L988.0 508.1 L991.0 507.4 L994.0 506.7 L997.0 506.4 L1000.0 506.7 L1003.0 507.6 L1006.0 508.8 L1009.0 510.1 L1012.0 511.2 L1015.0 512.0 L1018.0 512.8 L1021.0 514.0 L1024.0 515.8 L1027.0 518.0 L1030.0 519.9 L1033.0 521.1 L1036.0 521.8 L1039.0 522.1 L1042.0 522.5 L1045.0 523.1 L1048.0 524.2 L1051.0 526.0 L1054.0 528.0 L1057.0 529.7 L1060.0 530.7 L1063.0 531.3 L1066.0 531.9 L1069.0 532.7 L1072.0 534.1 L1075.0 536.1 L1078.0 538.6 L1081.0 541.3 L1084.0 543.7 L1087.0 545.3 L1090.0 546.1 L1093.0 546.1 L1096.0 546.1 L1099.0 546.5 L1102.0 547.7 L1105.0 549.5 L1108.0 551.2 L1111.0 552.5 L1114.0 553.5 L1117.0 554.4 L1120.0 555.5 L1123.0 557.0 L1126.0 558.7 L1129.0 560.3 L1132.0 561.5 L1135.0 562.4 L1138.0 563.7 L1141.0 565.5 L1144.0 567.8 L1147.0 569.9 L1150.0 571.2 L1153.0 571.4 L1156.0 570.7 L1159.0 569.7 L1162.0 569.1 L1165.0 569.2 L1168.0 570.0 L1171.0 571.4 L1174.0 572.9 L1177.0 574.3 L1180.0 575.7 L1183.0 577.1 L1186.0 579.0 L1189.0 581.1 L1192.0 583.2 L1195.0 584.8 L1198.0 585.7 L1201.0 586.2 L1204.0 586.6 L1207.0 587.0 L1210.0 587.4 L1213.0 587.9 L1216.0 588.3 L1219.0 588.7 L1222.0 588.9 L1225.0 588.6 L1228.0 587.9 L1231.0 587.0 L1234.0 586.1 L1237.0 585.5 L1240.0 585.4 L1243.0 585.8 L1246.0 586.6 L1249.0 587.6 L1252.0 588.6 L1255.0 589.8 L1258.0 590.8 L1261.0 591.3 L1264.0 591.2 L1267.0 590.7 L1270.0 590.2 L1273.0 589.9 L1276.0 590.0 L1279.0 590.5 L1282.0 591.2 L1285.0 591.6 L1288.0 591.8 L1291.0 591.7 L1294.0 591.6 L1297.0 591.5 L1300.0 591.4 L1303.0 591.4 L1306.0 591.4 L1309.0 591.4 L1312.0 591.2 L1315.0 591.0 L1318.0 591.0 L1321.0 591.1 L1324.0 591.2 L1327.0 591.0 L1330.0 590.5 L1333.0 589.9 L1336.0 589.0 L1339.0 588.2 L1342.0 587.7 L1345.0 587.9 L1348.0 588.5 L1351.0 589.4 L1354.0 590.2 L1357.0 590.8 L1360.0 591.6 L1363.0 592.5 L1366.0 593.1 L1369.0 593.3 L1372.0 593.1 L1375.0 592.9 L1378.0 593.0 L1381.0 593.3 L1384.0 593.4 L1387.0 593.2 L1390.0 592.8 L1393.0 592.7 L1396.0 592.7 L1399.0 592.6 L1402.0 592.4 L1405.0 592.1 L1408.0 592.1 L1411.0 592.2 L1414.0 592.2 L1417.0 591.7 L1420.0 590.8 L1423.0 590.1 L1426.0 589.9 L1429.0 590.4 L1432.0 591.6 L1435.0 593.0 L1438.0 594.4 L1441.0 595.5 L1444.0 596.3 L1447.0 596.7 L1450.0 596.7 L1453.0 596.2 L1456.0 595.5 L1459.0 594.6 L1462.0 593.7 L1465.0 592.8 L1468.0 591.9 L1471.0 591.2 L1474.0 590.8 L1477.0 590.7 L1480.0 590.7 L1483.0 590.9 L1486.0 591.1 L1489.0 591.6 L1492.0 592.1 L1495.0 592.6 L1498.0 592.8 L1501.0 593.1 L1504.0 593.5 L1507.0 594.0 L1510.0 594.4 L1513.0 594.7 L1516.0 594.9 L1519.0 595.0 L1522.0 595.0 L1525.0 594.8 L1528.0 594.2 L1531.0 593.3 L1534.0 592.2 L1537.0 591.3 L1540.0 591.0 L1543.0 591.2 L1546.0 591.8 L1549.0 592.7 L1552.0 593.5 L1555.0 594.3 L1558.0 595.1 L1561.0 595.7 L1564.0 596.4 L1567.0 597.0 L1570.0 597.2 L1573.0 596.9 L1576.0 596.3 L1579.0 595.9 L1582.0 595.8 L1585.0 596.0 L1588.0 596.3 L1591.0 596.5 L1594.0 596.6 L1597.0 596.5 L1600.0 596.1 L1603.0 595.7 L1606.0 595.5 L1609.0 595.8 L1612.0 596.4 L1615.0 596.9 L1618.0 596.9 L1621.0 596.8 L1624.0 596.9 L1627.0 597.6 L1630.0 598.7 L1633.0 599.8 L1636.0 600.6 L1639.0 600.7 L1642.0 600.2 L1645.0 599.1 L1648.0 597.8 L1651.0 596.7 L1654.0 595.8 L1657.0 595.3 L1660.0 595.1 L1663.0 595.2 L1666.0 595.5 L1669.0 595.8 L1672.0 596.0 L1675.0 596.1 L1678.0 596.0 L1681.0 595.7 L1684.0 595.6 L1687.0 595.7 L1690.0 595.9 L1693.0 596.0 L1696.0 596.0 L1699.0 596.1 L1702.0 596.4 L1705.0 597.1 L1708.0 597.9 L1711.0 598.6 L1714.0 598.8 L1717.0 598.4 L1720.0 597.3 L1723.0 595.7 L1726.0 594.2 L1729.0 593.2 L1732.0 593.0 L1735.0 593.4 L1738.0 593.9 L1741.0 594.1 L1744.0 593.9 L1747.0 593.7 L1750.0 593.4 L1753.0 593.1 L1756.0 592.9 L1759.0 592.7 L1762.0 592.6 L1765.0 592.9 L1768.0 593.7 L1771.0 594.6 L1774.0 595.2 L1777.0 595.1 L1780.0 594.5 L1783.0 593.8 L1786.0 593.5 L1789.0 593.6 L1792.8 593.8" stroke="#38AC6C" stroke-width="12.4" stroke-linejoin="round" fill="none"/>
<path d="M142.0 565.4 L145.0 565.4 L148.0 565.4 L151.0 565.4 L154.0 565.4 L157.0 565.4 L160.0 565.4 L163.0 565.4 L166.0 565.3 L169.0 565.3 L172.0 565.3 L175.0 565.3 L178.0 565.3 L181.0 565.3 L184.0 565.3 L187.0 565.3 L190.0 565.3 L193.0 565.3 L196.0 565.3 L199.0 565.3 L202.0 565.3 L205.0 565.3 L208.0 565.3 L211.0 565.3 L214.0 565.3 L217.0 565.3 L220.0 565.3 L223.0 565.3 L226.0 565.3 L229.0 565.3 L232.0 565.3 L235.0 565.3 L238.0 565.3 L241.0 565.4 L244.0 565.4 L247.0 565.4 L250.0 565.4 L253.0 565.4 L256.0 565.4 L259.0 565.4 L262.0 565.4 L265.0 565.4 L268.0 565.5 L271.0 565.5 L274.0 565.5 L277.0 565.5 L280.0 565.5 L283.0 565.5 L286.0 565.6 L289.0 565.6 L292.0 565.6 L295.0 565.6 L298.0 565.6 L301.0 565.6 L304.0 565.7 L307.0 565.7 L310.0 565.7 L313.0 565.7 L316.0 565.8 L319.0 565.8 L322.0 565.8 L325.0 565.8 L328.0 565.9 L331.0 565.9 L334.0 565.9 L337.0 565.9 L340.0 566.0 L343.0 566.0 L346.0 566.0 L349.0 566.1 L352.0 566.1 L355.0 566.1 L358.0 566.2 L361.0 566.2 L364.0 566.2 L367.0 566.3 L370.0 566.3 L373.0 566.3 L376.0 566.4 L379.0 566.4 L382.0 566.4 L385.0 566.5 L388.0 566.5 L391.0 566.5 L394.0 566.6 L397.0 566.6 L400.0 566.7 L403.0 566.7 L406.0 566.7 L409.0 566.8 L412.0 566.8 L415.0 566.9 L418.0 566.9 L421.0 566.9 L424.0 567.0 L427.0 567.0 L430.0 567.1 L433.0 567.1 L436.0 567.2 L439.0 567.2 L442.0 567.3 L445.0 567.3 L448.0 567.4 L451.0 567.4 L454.0 567.5 L457.0 567.5 L460.0 567.6 L463.0 567.6 L466.0 567.7 L469.0 567.7 L472.0 567.8 L475.0 567.8 L478.0 567.9 L481.0 567.9 L484.0 568.0 L487.0 568.0 L490.0 568.1 L493.0 568.1 L496.0 568.2 L499.0 568.3 L502.0 568.3 L505.0 568.4 L508.0 568.4 L511.0 568.5 L514.0 568.5 L517.0 568.6 L520.0 568.7 L523.0 568.7 L526.0 568.8 L529.0 568.8 L532.0 568.9 L535.0 569.0 L538.0 569.0 L541.0 569.1 L544.0 569.2 L547.0 569.2 L550.0 569.3 L553.0 569.4 L556.0 569.4 L559.0 569.5 L562.0 569.6 L565.0 569.6 L568.0 569.7 L571.0 569.8 L574.0 569.8 L577.0 569.9 L580.0 570.0 L583.0 570.0 L586.0 570.1 L589.0 570.2 L592.0 570.2 L595.0 570.3 L598.0 570.4 L601.0 570.5 L604.0 570.5 L607.0 570.6 L610.0 570.7 L613.0 570.7 L616.0 570.8 L619.0 570.9 L622.0 571.0 L625.0 571.0 L628.0 571.1 L631.0 571.2 L634.0 571.3 L637.0 571.4 L640.0 571.4 L643.0 571.5 L646.0 571.6 L649.0 571.7 L652.0 571.7 L655.0 571.8 L658.0 571.9 L661.0 572.0 L664.0 572.1 L667.0 572.1 L670.0 572.2 L673.0 572.3 L676.0 572.4 L679.0 572.5 L682.0 572.6 L685.0 572.6 L688.0 572.7 L691.0 572.8 L694.0 572.9 L697.0 573.0 L700.0 573.1 L703.0 573.1 L706.0 573.2 L709.0 573.3 L712.0 573.4 L715.0 573.5 L718.0 573.6 L721.0 573.7 L724.0 573.7 L727.0 573.8 L730.0 573.9 L733.0 574.0 L736.0 574.1 L739.0 574.2 L742.0 574.3 L745.0 574.4 L748.0 574.4 L751.0 574.5 L754.0 574.6 L757.0 574.7 L760.0 574.8 L763.0 574.9 L766.0 575.0 L769.0 575.1 L772.0 575.2 L775.0 575.3 L778.0 575.4 L781.0 575.4 L784.0 575.5 L787.0 575.6 L790.0 575.7 L793.0 575.8 L796.0 575.9 L799.0 576.0 L802.0 576.1 L805.0 576.2 L808.0 576.3 L811.0 576.4 L814.0 576.5 L817.0 576.6 L820.0 576.7 L823.0 576.8 L826.0 576.9 L829.0 576.9 L832.0 577.0 L835.0 577.1 L838.0 577.2 L841.0 577.3 L844.0 577.4 L847.0 577.5 L850.0 577.6 L853.0 577.7 L856.0 577.8 L859.0 577.9 L862.0 578.0 L865.0 578.1 L868.0 578.2 L871.0 578.3 L874.0 578.4 L877.0 578.5 L880.0 578.6 L883.0 578.7 L886.0 578.8 L889.0 578.9 L892.0 579.0 L895.0 579.1 L898.0 579.2 L901.0 579.3 L904.0 579.4 L907.0 579.5 L910.0 579.6 L913.0 579.7 L916.0 579.8 L919.0 579.9 L922.0 580.0 L925.0 580.1 L928.0 580.2 L931.0 580.3 L934.0 580.4 L937.0 580.5 L940.0 580.6 L943.0 580.7 L946.0 580.8 L949.0 580.9 L952.0 581.0 L955.0 581.1 L958.0 581.2 L961.0 581.2 L964.0 581.3 L967.0 581.4 L970.0 581.5 L973.0 581.6 L976.0 581.7 L979.0 581.8 L982.0 581.9 L985.0 582.0 L988.0 582.1 L991.0 582.2 L994.0 582.3 L997.0 582.4 L1000.0 582.5 L1003.0 582.6 L1006.0 582.7 L1009.0 582.8 L1012.0 582.9 L1015.0 583.0 L1018.0 583.1 L1021.0 583.2 L1024.0 583.3 L1027.0 583.4 L1030.0 583.5 L1033.0 583.6 L1036.0 583.7 L1039.0 583.8 L1042.0 583.9 L1045.0 584.0 L1048.0 584.1 L1051.0 584.2 L1054.0 584.3 L1057.0 584.4 L1060.0 584.5 L1063.0 584.6 L1066.0 584.7 L1069.0 584.8 L1072.0 584.9 L1075.0 585.0 L1078.0 585.1 L1081.0 585.2 L1084.0 585.3 L1087.0 585.4 L1090.0 585.5 L1093.0 585.6 L1096.0 585.7 L1099.0 585.7 L1102.0 585.8 L1105.0 585.9 L1108.0 586.0 L1111.0 586.1 L1114.0 586.2 L1117.0 586.3 L1120.0 586.4 L1123.0 586.5 L1126.0 586.6 L1129.0 586.7 L1132.0 586.8 L1135.0 586.9 L1138.0 587.0 L1141.0 587.1 L1144.0 587.1 L1147.0 587.2 L1150.0 587.3 L1153.0 587.4 L1156.0 587.5 L1159.0 587.6 L1162.0 587.7 L1165.0 587.8 L1168.0 587.9 L1171.0 588.0 L1174.0 588.1 L1177.0 588.1 L1180.0 588.2 L1183.0 588.3 L1186.0 588.4 L1189.0 588.5 L1192.0 588.6 L1195.0 588.7 L1198.0 588.8 L1201.0 588.9 L1204.0 588.9 L1207.0 589.0 L1210.0 589.1 L1213.0 589.2 L1216.0 589.3 L1219.0 589.4 L1222.0 589.5 L1225.0 589.5 L1228.0 589.6 L1231.0 589.7 L1234.0 589.8 L1237.0 589.9 L1240.0 590.0 L1243.0 590.0 L1246.0 590.1 L1249.0 590.2 L1252.0 590.3 L1255.0 590.4 L1258.0 590.4 L1261.0 590.5 L1264.0 590.6 L1267.0 590.7 L1270.0 590.8 L1273.0 590.8 L1276.0 590.9 L1279.0 591.0 L1282.0 591.1 L1285.0 591.1 L1288.0 591.2 L1291.0 591.3 L1294.0 591.4 L1297.0 591.5 L1300.0 591.5 L1303.0 591.6 L1306.0 591.7 L1309.0 591.7 L1312.0 591.8 L1315.0 591.9 L1318.0 592.0 L1321.0 592.0 L1324.0 592.1 L1327.0 592.2 L1330.0 592.2 L1333.0 592.3 L1336.0 592.4 L1339.0 592.5 L1342.0 592.5 L1345.0 592.6 L1348.0 592.7 L1351.0 592.7 L1354.0 592.8 L1357.0 592.9 L1360.0 592.9 L1363.0 593.0 L1366.0 593.1 L1369.0 593.1 L1372.0 593.2 L1375.0 593.2 L1378.0 593.3 L1381.0 593.4 L1384.0 593.4 L1387.0 593.5 L1390.0 593.5 L1393.0 593.6 L1396.0 593.7 L1399.0 593.7 L1402.0 593.8 L1405.0 593.8 L1408.0 593.9 L1411.0 594.0 L1414.0 594.0 L1417.0 594.1 L1420.0 594.1 L1423.0 594.2 L1426.0 594.2 L1429.0 594.3 L1432.0 594.3 L1435.0 594.4 L1438.0 594.4 L1441.0 594.5 L1444.0 594.5 L1447.0 594.6 L1450.0 594.6 L1453.0 594.7 L1456.0 594.7 L1459.0 594.8 L1462.0 594.8 L1465.0 594.9 L1468.0 594.9 L1471.0 594.9 L1474.0 595.0 L1477.0 595.0 L1480.0 595.1 L1483.0 595.1 L1486.0 595.2 L1489.0 595.2 L1492.0 595.2 L1495.0 595.3 L1498.0 595.3 L1501.0 595.4 L1504.0 595.4 L1507.0 595.4 L1510.0 595.5 L1513.0 595.5 L1516.0 595.5 L1519.0 595.6 L1522.0 595.6 L1525.0 595.6 L1528.0 595.7 L1531.0 595.7 L1534.0 595.7 L1537.0 595.7 L1540.0 595.8 L1543.0 595.8 L1546.0 595.8 L1549.0 595.9 L1552.0 595.9 L1555.0 595.9 L1558.0 595.9 L1561.0 595.9 L1564.0 596.0 L1567.0 596.0 L1570.0 596.0 L1573.0 596.0 L1576.0 596.1 L1579.0 596.1 L1582.0 596.1 L1585.0 596.1 L1588.0 596.1 L1591.0 596.1 L1594.0 596.2 L1597.0 596.2 L1600.0 596.2 L1603.0 596.2 L1606.0 596.2 L1609.0 596.2 L1612.0 596.2 L1615.0 596.2 L1618.0 596.2 L1621.0 596.2 L1624.0 596.3 L1627.0 596.3 L1630.0 596.3 L1633.0 596.3 L1636.0 596.3 L1639.0 596.3 L1642.0 596.3 L1645.0 596.3 L1648.0 596.3 L1651.0 596.3 L1654.0 596.3 L1657.0 596.3 L1660.0 596.3 L1663.0 596.3 L1666.0 596.3 L1669.0 596.3 L1672.0 596.2 L1675.0 596.2 L1678.0 596.2 L1681.0 596.2 L1684.0 596.2 L1687.0 596.2 L1690.0 596.2 L1693.0 596.2 L1696.0 596.2 L1699.0 596.1 L1702.0 596.1 L1705.0 596.1 L1708.0 596.1 L1711.0 596.1 L1714.0 596.1 L1717.0 596.0 L1720.0 596.0 L1723.0 596.0 L1726.0 596.0 L1729.0 595.9 L1732.0 595.9 L1735.0 595.9 L1738.0 595.9 L1741.0 595.8 L1744.0 595.8 L1747.0 595.8 L1750.0 595.8 L1753.0 595.7 L1756.0 595.7 L1759.0 595.7 L1762.0 595.6 L1765.0 595.6 L1768.0 595.5 L1771.0 595.5 L1774.0 595.5 L1777.0 595.4 L1780.0 595.4 L1783.0 595.4 L1786.0 595.3 L1789.0 595.3 L1792.8 595.2" stroke="#B076E0" stroke-width="1.7" fill="none"/>
<path d="M142.0 562.8 L145.0 562.6 L148.0 562.3 L151.0 562.1 L154.0 561.9 L157.0 561.7 L160.0 561.5 L163.0 561.4 L166.0 561.2 L169.0 561.0 L172.0 560.9 L175.0 560.7 L178.0 560.6 L181.0 560.5 L184.0 560.4 L187.0 560.2 L190.0 560.1 L193.0 560.0 L196.0 559.9 L199.0 559.8 L202.0 559.8 L205.0 559.7 L208.0 559.6 L211.0 559.5 L214.0 559.5 L217.0 559.4 L220.0 559.4 L223.0 559.3 L226.0 559.3 L229.0 559.2 L232.0 559.2 L235.0 559.2 L238.0 559.2 L241.0 559.1 L244.0 559.1 L247.0 559.1 L250.0 559.1 L253.0 559.1 L256.0 559.1 L259.0 559.1 L262.0 559.1 L265.0 559.1 L268.0 559.1 L271.0 559.1 L274.0 559.1 L277.0 559.1 L280.0 559.1 L283.0 559.1 L286.0 559.1 L289.0 559.1 L292.0 559.1 L295.0 559.1 L298.0 559.1 L301.0 559.1 L304.0 559.1 L307.0 559.1 L310.0 559.1 L313.0 559.1 L316.0 559.1 L319.0 559.1 L322.0 559.1 L325.0 559.1 L328.0 559.1 L331.0 559.1 L334.0 559.1 L337.0 559.1 L340.0 559.1 L343.0 559.1 L346.0 559.1 L349.0 559.0 L352.0 559.0 L355.0 559.0 L358.0 558.9 L361.0 558.9 L364.0 558.8 L367.0 558.8 L370.0 558.7 L373.0 558.7 L376.0 558.6 L379.0 558.6 L382.0 558.5 L385.0 558.4 L388.0 558.3 L391.0 558.2 L394.0 558.1 L397.0 558.0 L400.0 557.9 L403.0 557.8 L406.0 557.7 L409.0 557.5 L412.0 557.4 L415.0 557.3 L418.0 557.1 L421.0 557.0 L424.0 556.9 L427.0 556.7 L430.0 556.6 L433.0 556.4 L436.0 556.2 L439.0 556.1 L442.0 555.9 L445.0 555.7 L448.0 555.6 L451.0 555.4 L454.0 555.2 L457.0 555.1 L460.0 554.9 L463.0 554.7 L466.0 554.5 L469.0 554.4 L472.0 554.2 L475.0 554.0 L478.0 553.8 L481.0 553.7 L484.0 553.5 L487.0 553.3 L490.0 553.1 L493.0 553.0 L496.0 552.8 L499.0 552.6 L502.0 552.4 L505.0 552.3 L508.0 552.1 L511.0 552.0 L514.0 551.8 L517.0 551.6 L520.0 551.5 L523.0 551.3 L526.0 551.2 L529.0 551.1 L532.0 550.9 L535.0 550.8 L538.0 550.6 L541.0 550.5 L544.0 550.4 L547.0 550.3 L550.0 550.2 L553.0 550.1 L556.0 550.0 L559.0 549.9 L562.0 549.8 L565.0 549.7 L568.0 549.6 L571.0 549.6 L574.0 549.5 L577.0 549.5 L580.0 549.4 L583.0 549.4 L586.0 549.3 L589.0 549.3 L592.0 549.2 L595.0 549.2 L598.0 549.2 L601.0 549.2 L604.0 549.2 L607.0 549.1 L610.0 549.1 L613.0 549.1 L616.0 549.1 L619.0 549.1 L622.0 549.1 L625.0 549.1 L628.0 549.1 L631.0 549.1 L634.0 549.1 L637.0 549.1 L640.0 549.1 L643.0 549.2 L646.0 549.2 L649.0 549.2 L652.0 549.2 L655.0 549.2 L658.0 549.2 L661.0 549.2 L664.0 549.2 L667.0 549.2 L670.0 549.2 L673.0 549.2 L676.0 549.2 L679.0 549.2 L682.0 549.2 L685.0 549.2 L688.0 549.1 L691.0 549.1 L694.0 549.1 L697.0 549.1 L700.0 549.1 L703.0 549.0 L706.0 549.0 L709.0 548.9 L712.0 548.9 L715.0 548.8 L718.0 548.8 L721.0 548.7 L724.0 548.6 L727.0 548.6 L730.0 548.5 L733.0 548.4 L736.0 548.3 L739.0 548.2 L742.0 548.1 L745.0 547.9 L748.0 547.8 L751.0 547.7 L754.0 547.5 L757.0 547.4 L760.0 547.2 L763.0 547.0 L766.0 546.9 L769.0 546.7 L772.0 546.5 L775.0 546.3 L778.0 546.0 L781.0 545.8 L784.0 545.6 L787.0 545.3 L790.0 545.0 L793.0 544.8 L796.0 544.5 L799.0 544.2 L802.0 543.8 L805.0 543.5 L808.0 543.1 L811.0 542.7 L814.0 542.3 L817.0 541.9 L820.0 541.4 L823.0 541.0 L826.0 540.5 L829.0 540.0 L832.0 539.4 L835.0 538.8 L838.0 538.2 L841.0 537.6 L844.0 536.9 L847.0 536.3 L850.0 535.5 L853.0 534.8 L856.0 534.0 L859.0 533.2 L862.0 532.4 L865.0 531.5 L868.0 530.7 L871.0 529.8 L874.0 528.9 L877.0 528.0 L880.0 527.1 L883.0 526.2 L886.0 525.3 L889.0 524.4 L892.0 523.4 L895.0 522.5 L898.0 521.6 L901.0 520.7 L904.0 519.8 L907.0 518.9 L910.0 518.0 L913.0 517.2 L916.0 516.4 L919.0 515.5 L922.0 514.8 L925.0 514.0 L928.0 513.3 L931.0 512.5 L934.0 511.9 L937.0 511.2 L940.0 510.6 L943.0 510.1 L946.0 509.6 L949.0 509.1 L952.0 508.7 L955.0 508.4 L958.0 508.0 L961.0 507.8 L964.0 507.6 L967.0 507.5 L970.0 507.4 L973.0 507.4 L976.0 507.5 L979.0 507.7 L982.0 507.9 L985.0 508.2 L988.0 508.6 L991.0 509.0 L994.0 509.6 L997.0 510.1 L1000.0 510.8 L1003.0 511.5 L1006.0 512.3 L1009.0 513.1 L1012.0 514.0 L1015.0 514.9 L1018.0 515.8 L1021.0 516.9 L1024.0 517.9 L1027.0 519.0 L1030.0 520.2 L1033.0 521.4 L1036.0 522.6 L1039.0 523.8 L1042.0 525.1 L1045.0 526.4 L1048.0 527.7 L1051.0 529.1 L1054.0 530.4 L1057.0 531.8 L1060.0 533.2 L1063.0 534.6 L1066.0 536.0 L1069.0 537.4 L1072.0 538.9 L1075.0 540.3 L1078.0 541.7 L1081.0 543.2 L1084.0 544.6 L1087.0 546.0 L1090.0 547.4 L1093.0 548.8 L1096.0 550.2 L1099.0 551.6 L1102.0 552.9 L1105.0 554.2 L1108.0 555.5 L1111.0 556.8 L1114.0 558.0 L1117.0 559.3 L1120.0 560.4 L1123.0 561.6 L1126.0 562.7 L1129.0 563.8 L1132.0 564.9 L1135.0 565.9 L1138.0 566.9 L1141.0 567.9 L1144.0 568.9 L1147.0 569.8 L1150.0 570.7 L1153.0 571.6 L1156.0 572.5 L1159.0 573.3 L1162.0 574.1 L1165.0 574.9 L1168.0 575.6 L1171.0 576.4 L1174.0 577.1 L1177.0 577.8 L1180.0 578.4 L1183.0 579.1 L1186.0 579.7 L1189.0 580.3 L1192.0 580.8 L1195.0 581.4 L1198.0 581.9 L1201.0 582.4 L1204.0 582.9 L1207.0 583.4 L1210.0 583.9 L1213.0 584.3 L1216.0 584.7 L1219.0 585.1 L1222.0 585.5 L1225.0 585.8 L1228.0 586.2 L1231.0 586.5 L1234.0 586.8 L1237.0 587.1 L1240.0 587.4 L1243.0 587.7 L1246.0 587.9 L1249.0 588.2 L1252.0 588.4 L1255.0 588.6 L1258.0 588.8 L1261.0 589.0 L1264.0 589.2 L1267.0 589.3 L1270.0 589.5 L1273.0 589.6 L1276.0 589.7 L1279.0 589.9 L1282.0 590.0 L1285.0 590.1 L1288.0 590.2 L1291.0 590.3 L1294.0 590.4 L1297.0 590.5 L1300.0 590.5 L1303.0 590.6 L1306.0 590.7 L1309.0 590.7 L1312.0 590.8 L1315.0 590.8 L1318.0 590.9 L1321.0 590.9 L1324.0 591.0 L1327.0 591.0 L1330.0 591.1 L1333.0 591.1 L1336.0 591.1 L1339.0 591.2 L1342.0 591.2 L1345.0 591.3 L1348.0 591.3 L1351.0 591.3 L1354.0 591.4 L1357.0 591.4 L1360.0 591.5 L1363.0 591.5 L1366.0 591.6 L1369.0 591.6 L1372.0 591.7 L1375.0 591.7 L1378.0 591.8 L1381.0 591.9 L1384.0 591.9 L1387.0 592.0 L1390.0 592.0 L1393.0 592.1 L1396.0 592.2 L1399.0 592.2 L1402.0 592.3 L1405.0 592.4 L1408.0 592.4 L1411.0 592.5 L1414.0 592.6 L1417.0 592.6 L1420.0 592.7 L1423.0 592.8 L1426.0 592.8 L1429.0 592.9 L1432.0 593.0 L1435.0 593.1 L1438.0 593.1 L1441.0 593.2 L1444.0 593.3 L1447.0 593.4 L1450.0 593.4 L1453.0 593.5 L1456.0 593.6 L1459.0 593.7 L1462.0 593.7 L1465.0 593.8 L1468.0 593.9 L1471.0 594.0 L1474.0 594.0 L1477.0 594.1 L1480.0 594.2 L1483.0 594.3 L1486.0 594.3 L1489.0 594.4 L1492.0 594.5 L1495.0 594.6 L1498.0 594.6 L1501.0 594.7 L1504.0 594.8 L1507.0 594.9 L1510.0 595.0 L1513.0 595.0 L1516.0 595.1 L1519.0 595.2 L1522.0 595.3 L1525.0 595.3 L1528.0 595.4 L1531.0 595.5 L1534.0 595.5 L1537.0 595.6 L1540.0 595.7 L1543.0 595.8 L1546.0 595.8 L1549.0 595.9 L1552.0 596.0 L1555.0 596.0 L1558.0 596.1 L1561.0 596.2 L1564.0 596.2 L1567.0 596.3 L1570.0 596.4 L1573.0 596.4 L1576.0 596.5 L1579.0 596.5 L1582.0 596.6 L1585.0 596.6 L1588.0 596.7 L1591.0 596.8 L1594.0 596.8 L1597.0 596.9 L1600.0 596.9 L1603.0 597.0 L1606.0 597.0 L1609.0 597.1 L1612.0 597.1 L1615.0 597.2 L1618.0 597.2 L1621.0 597.2 L1624.0 597.3 L1627.0 597.3 L1630.0 597.4 L1633.0 597.4 L1636.0 597.4 L1639.0 597.5 L1642.0 597.5 L1645.0 597.5 L1648.0 597.5 L1651.0 597.6 L1654.0 597.6 L1657.0 597.6 L1660.0 597.6 L1663.0 597.6 L1666.0 597.7 L1669.0 597.7 L1672.0 597.7 L1675.0 597.7 L1678.0 597.7 L1681.0 597.7 L1684.0 597.7 L1687.0 597.7 L1690.0 597.7 L1693.0 597.7 L1696.0 597.7 L1699.0 597.7 L1702.0 597.7 L1705.0 597.6 L1708.0 597.6 L1711.0 597.6 L1714.0 597.6 L1717.0 597.6 L1720.0 597.5 L1723.0 597.5 L1726.0 597.5 L1729.0 597.4 L1732.0 597.4 L1735.0 597.4 L1738.0 597.3 L1741.0 597.3 L1744.0 597.2 L1747.0 597.2 L1750.0 597.1 L1753.0 597.0 L1756.0 597.0 L1759.0 596.9 L1762.0 596.9 L1765.0 596.8 L1768.0 596.7 L1771.0 596.6 L1774.0 596.5 L1777.0 596.5 L1780.0 596.4 L1783.0 596.3 L1786.0 596.2 L1789.0 596.1 L1792.8 596.0" stroke="#CC9900" stroke-width="12.4" fill="none"/>
<path d="M164.5 558.6l0.0 12.0M187.8 558.3l0.0 12.0M211.2 558.0l0.0 12.0M234.5 557.7l0.0 12.0M257.8 557.3l0.0 12.0M281.0 556.9l0.0 12.0M304.2 556.5l0.0 12.0M327.5 555.9l0.0 12.0M350.8 555.3l0.0 12.0M374.0 554.6l0.0 12.0M397.2 553.8l0.0 12.0M420.5 553.0l0.0 12.0M443.8 552.0l0.0 12.0M467.0 551.0l0.0 12.0M490.2 550.0l0.0 12.0M513.8 549.0l0.0 12.0M537.0 547.9l0.0 12.0M560.2 546.9l0.0 12.0M583.5 546.0l0.0 12.0M606.8 545.2l0.0 12.0M630.0 544.6l0.0 12.0M653.2 544.1l0.0 12.0M676.5 543.9l0.0 12.0M699.8 543.9l0.0 12.0M723.0 544.2l0.0 12.0M746.2 544.7l0.0 12.0M769.5 545.5l0.0 12.0M792.8 546.6l0.0 12.0M816.0 547.9l0.0 12.0M839.2 549.5l0.0 12.0M862.5 551.3l0.0 12.0M885.8 553.2l0.0 12.0M909.0 555.3l0.0 12.0M932.0 557.5l0.0 12.0M955.2 559.7l0.0 12.0M978.5 562.0l0.0 12.0M1001.5 564.2l0.0 12.0M1024.8 566.5l0.0 12.0M1048.0 568.6l0.0 12.0M1071.2 570.6l0.0 12.0M1094.2 572.6l0.0 12.0M1117.5 574.4l0.0 12.0M1140.8 576.1l0.0 12.0M1164.0 577.7l0.0 12.0M1187.2 579.1l0.0 12.0M1210.5 580.4l0.0 12.0M1233.8 581.6l0.0 12.0M1257.0 582.7l0.0 12.0M1280.2 583.7l0.0 12.0M1303.5 584.6l0.0 12.0M1326.8 585.4l0.0 12.0M1350.0 586.1l0.0 12.0M1373.2 586.8l0.0 12.0M1396.5 587.3l0.0 12.0M1419.8 587.9l0.0 12.0M1443.2 588.3l0.0 12.0M1466.5 588.8l0.0 12.0M1489.8 589.1l0.0 12.0M1513.0 589.4l0.0 12.0M1536.2 589.7l0.0 12.0M1559.5 589.9l0.0 12.0M1582.8 590.1l0.0 12.0M1606.0 590.2l0.0 12.0M1629.2 590.3l0.0 12.0M1652.8 590.3l0.0 12.0M1676.0 590.2l0.0 12.0M1699.2 590.1l0.0 12.0M1722.5 590.0l0.0 12.0M1745.8 589.8l0.0 12.0M1769.0 589.5l0.0 12.0" stroke="#1EC8C8" stroke-width="1.7" fill="none"/>
<path d="M164.5 559.3l0.0 12.0M187.8 559.2l0.0 12.0M211.2 559.2l0.0 12.0M234.5 559.2l0.0 12.0M257.8 559.3l0.0 12.0M281.0 559.4l0.0 12.0M304.2 559.5l0.0 12.0M327.5 559.7l0.0 12.0M350.8 559.9l0.0 12.0M374.0 560.2l0.0 12.0M397.5 560.4l0.0 12.0M420.8 560.8l0.0 12.0M444.0 561.1l0.0 12.0M467.2 561.5l0.0 12.0M490.5 561.9l0.0 12.0M513.8 562.3l0.0 12.0M537.0 562.7l0.0 12.0M560.2 563.2l0.0 12.0M583.5 563.7l0.0 12.0M606.8 564.2l0.0 12.0M630.2 564.7l0.0 12.0M653.5 565.2l0.0 12.0M676.8 565.7l0.0 12.0M700.0 566.0l0.0 12.0M723.2 566.1l0.0 12.0M746.5 565.8l0.0 12.0M769.8 564.8l0.0 12.0M793.0 562.7l0.0 12.0M816.0 559.2l0.0 12.0M838.8 554.1l0.0 12.0M861.0 547.5l0.0 12.0M883.0 539.7l0.0 12.0M900.5 533.3l8.5 8.5M922.5 525.6l8.5 8.5M949.2 517.8l0.0 12.0M972.2 515.1l0.0 12.0M995.5 516.5l0.0 12.0M1018.0 521.9l0.0 12.0M1035.8 540.1l8.5 -8.5M1057.3 549.3l8.5 -8.5M1078.5 558.6l8.5 -8.5M1100.0 567.4l8.5 -8.5M1122.0 575.0l8.5 -8.5M1144.5 581.2l8.5 -8.5M1171.5 575.5l0.0 12.0M1194.5 578.7l0.0 12.0M1217.8 581.0l0.0 12.0M1241.0 582.5l0.0 12.0M1264.2 583.6l0.0 12.0M1287.5 584.5l0.0 12.0M1310.8 585.2l0.0 12.0M1334.0 585.9l0.0 12.0M1357.2 586.5l0.0 12.0M1380.5 587.0l0.0 12.0M1403.8 587.5l0.0 12.0M1427.0 587.9l0.0 12.0M1450.5 588.4l0.0 12.0M1473.8 588.7l0.0 12.0M1497.0 589.1l0.0 12.0M1520.2 589.4l0.0 12.0M1543.5 589.6l0.0 12.0M1566.8 589.8l0.0 12.0M1590.0 590.0l0.0 12.0M1613.2 590.1l0.0 12.0M1636.5 590.1l0.0 12.0M1660.0 590.1l0.0 12.0M1683.2 590.1l0.0 12.0M1706.5 590.0l0.0 12.0M1729.8 589.8l0.0 12.0M1753.0 589.6l0.0 12.0M1776.2 589.3l0.0 12.0" stroke="#7A4A4A" stroke-width="1.7" fill="none"/>
<path d="M142.0 743.5 L145.0 742.9 L148.0 742.6 L151.0 742.4 L154.0 742.1 L157.0 741.7 L160.0 741.5 L163.0 741.6 L166.0 741.8 L169.0 742.0 L172.0 742.2 L175.0 742.4 L178.0 742.5 L181.0 742.6 L184.0 742.6 L187.0 742.6 L190.0 742.4 L193.0 742.0 L196.0 741.6 L199.0 741.6 L202.0 742.0 L205.0 742.4 L208.0 742.6 L211.0 742.4 L214.0 742.5 L217.0 743.0 L220.0 743.4 L223.0 743.3 L226.0 742.4 L229.0 741.1 L232.0 739.9 L235.0 739.4 L238.0 739.8 L241.0 740.7 L244.0 741.8 L247.0 742.5 L250.0 742.9 L253.0 743.0 L256.0 743.0 L259.0 742.9 L262.0 742.5 L265.0 742.0 L268.0 741.6 L271.0 741.3 L274.0 741.1 L277.0 740.7 L280.0 740.3 L283.0 739.8 L286.0 739.4 L289.0 739.3 L292.0 739.7 L295.0 740.3 L298.0 740.9 L301.0 741.2 L304.0 741.1 L307.0 741.0 L310.0 741.2 L313.0 741.4 L316.0 741.4 L319.0 740.9 L322.0 740.1 L325.0 739.2 L328.0 738.4 L331.0 737.8 L334.0 737.5 L337.0 737.4 L340.0 737.1 L343.0 736.6 L346.0 736.1 L349.0 735.9 L352.0 736.0 L355.0 736.3 L358.0 736.6 L361.0 736.7 L364.0 736.8 L367.0 737.0 L370.0 737.4 L373.0 737.8 L376.0 738.2 L379.0 738.6 L382.0 738.9 L385.0 739.3 L388.0 739.6 L391.0 739.9 L394.0 739.9 L397.0 739.8 L400.0 739.4 L403.0 739.0 L406.0 738.8 L409.0 738.9 L412.0 739.3 L415.0 739.8 L418.0 740.2 L421.0 740.3 L424.0 739.9 L427.0 739.1 L430.0 738.3 L433.0 737.7 L436.0 737.5 L439.0 737.4 L442.0 737.1 L445.0 736.6 L448.0 735.9 L451.0 735.2 L454.0 734.6 L457.0 734.0 L460.0 733.4 L463.0 733.0 L466.0 732.9 L469.0 733.1 L472.0 733.3 L475.0 733.5 L478.0 733.4 L481.0 733.1 L484.0 732.5 L487.0 731.8 L490.0 731.3 L493.0 731.4 L496.0 731.9 L499.0 732.9 L502.0 734.0 L505.0 734.9 L508.0 735.3 L511.0 735.0 L514.0 734.3 L517.0 733.8 L520.0 733.8 L523.0 734.1 L526.0 734.4 L529.0 734.6 L532.0 734.7 L535.0 734.5 L538.0 734.1 L541.0 733.6 L544.0 733.1 L547.0 732.7 L550.0 732.5 L553.0 732.5 L556.0 732.5 L559.0 732.4 L562.0 732.2 L565.0 731.9 L568.0 731.5 L571.0 731.0 L574.0 730.3 L577.0 729.5 L580.0 728.9 L583.0 728.9 L586.0 729.5 L589.0 730.2 L592.0 730.4 L595.0 730.3 L598.0 730.0 L601.0 730.0 L604.0 730.1 L607.0 730.0 L610.0 729.4 L613.0 728.6 L616.0 727.6 L619.0 726.7 L622.0 725.9 L625.0 725.5 L628.0 725.5 L631.0 725.8 L634.0 726.3 L637.0 726.8 L640.0 727.5 L643.0 728.3 L646.0 729.0 L649.0 729.3 L652.0 729.2 L655.0 728.6 L658.0 727.9 L661.0 727.4 L664.0 727.2 L667.0 727.2 L670.0 727.4 L673.0 727.4 L676.0 727.2 L679.0 726.7 L682.0 726.2 L685.0 725.7 L688.0 725.3 L691.0 725.2 L694.0 725.4 L697.0 725.9 L700.0 726.8 L703.0 728.0 L706.0 729.1 L709.0 729.8 L712.0 730.1 L715.0 730.0 L718.0 729.7 L721.0 729.3 L724.0 728.9 L727.0 728.9 L730.0 729.0 L733.0 729.3 L736.0 729.3 L739.0 728.9 L742.0 728.4 L745.0 727.9 L748.0 727.7 L751.0 727.7 L754.0 727.8 L757.0 727.7 L760.0 727.4 L763.0 726.6 L766.0 725.6 L769.0 724.7 L772.0 724.1 L775.0 723.9 L778.0 723.9 L781.0 723.8 L784.0 723.7 L787.0 723.8 L790.0 724.0 L793.0 724.1 L796.0 723.8 L799.0 723.2 L802.0 722.6 L805.0 722.1 L808.0 721.7 L811.0 721.4 L814.0 721.1 L817.0 721.0 L820.0 721.0 L823.0 720.8 L826.0 720.2 L829.0 719.5 L832.0 718.7 L835.0 718.2 L838.0 718.0 L841.0 718.1 L844.0 717.9 L847.0 717.4 L850.0 716.6 L853.0 715.7 L856.0 714.9 L859.0 714.0 L862.0 712.6 L865.0 710.8 L868.0 708.7 L871.0 706.9 L874.0 705.4 L877.0 704.3 L880.0 703.5 L883.0 702.9 L886.0 702.6 L889.0 702.4 L892.0 702.2 L895.0 701.8 L898.0 701.2 L901.0 700.3 L904.0 699.2 L907.0 698.1 L910.0 697.2 L913.0 696.3 L916.0 695.3 L919.0 694.3 L922.0 693.6 L925.0 693.3 L928.0 693.0 L931.0 692.2 L934.0 690.7 L937.0 688.7 L940.0 687.1 L943.0 686.1 L946.0 685.8 L949.0 685.6 L952.0 684.9 L955.0 683.5 L958.0 681.8 L961.0 680.4 L964.0 679.7 L967.0 679.5 L970.0 679.8 L973.0 680.3 L976.0 680.9 L979.0 681.4 L982.0 681.7 L985.0 681.9 L988.0 682.0 L991.0 682.2 L994.0 682.6 L997.0 683.5 L1000.0 684.8 L1003.0 686.2 L1006.0 687.8 L1009.0 689.4 L1012.0 690.8 L1015.0 692.3 L1018.0 693.7 L1021.0 694.9 L1024.0 695.7 L1027.0 696.2 L1030.0 697.0 L1033.0 698.6 L1036.0 700.9 L1039.0 703.2 L1042.0 704.9 L1045.0 706.1 L1048.0 707.0 L1051.0 707.9 L1054.0 709.2 L1057.0 710.8 L1060.0 712.6 L1063.0 714.3 L1066.0 715.7 L1069.0 716.7 L1072.0 717.6 L1075.0 718.8 L1078.0 720.4 L1081.0 722.4 L1084.0 725.0 L1087.0 727.6 L1090.0 730.0 L1093.0 731.7 L1096.0 732.8 L1099.0 733.4 L1102.0 734.0 L1105.0 734.9 L1108.0 736.3 L1111.0 738.1 L1114.0 740.2 L1117.0 742.5 L1120.0 744.6 L1123.0 746.4 L1126.0 747.8 L1129.0 748.8 L1132.0 749.7 L1135.0 750.4 L1138.0 750.7 L1141.0 750.5 L1144.0 750.2 L1147.0 750.1 L1150.0 750.6 L1153.0 751.7 L1156.0 752.9 L1159.0 753.9 L1162.0 754.2 L1165.0 754.1 L1168.0 754.0 L1171.0 754.0 L1174.0 754.3 L1177.0 754.9 L1180.0 755.8 L1183.0 756.8 L1186.0 757.8 L1189.0 758.6 L1192.0 759.6 L1195.0 760.9 L1198.0 762.3 L1201.0 763.6 L1204.0 764.4 L1207.0 764.8 L1210.0 765.0 L1213.0 765.4 L1216.0 765.9 L1219.0 766.4 L1222.0 766.8 L1225.0 767.3 L1228.0 767.9 L1231.0 768.4 L1234.0 768.6 L1237.0 768.4 L1240.0 767.9 L1243.0 767.5 L1246.0 767.0 L1249.0 766.6 L1252.0 766.5 L1255.0 767.2 L1258.0 768.3 L1261.0 769.4 L1264.0 770.2 L1267.0 770.8 L1270.0 771.3 L1273.0 771.7 L1276.0 771.8 L1279.0 771.6 L1282.0 771.2 L1285.0 770.7 L1288.0 770.3 L1291.0 770.1 L1294.0 770.3 L1297.0 770.7 L1300.0 771.2 L1303.0 771.6 L1306.0 771.7 L1309.0 771.6 L1312.0 771.5 L1315.0 771.7 L1318.0 772.3 L1321.0 772.8 L1324.0 772.9 L1327.0 772.6 L1330.0 772.1 L1333.0 771.7 L1336.0 771.6 L1339.0 771.9 L1342.0 772.3 L1345.0 772.5 L1348.0 772.2 L1351.0 771.5 L1354.0 771.0 L1357.0 771.3 L1360.0 772.3 L1363.0 773.6 L1366.0 774.4 L1369.0 774.6 L1372.0 774.4 L1375.0 774.3 L1378.0 774.5 L1381.0 774.7 L1384.0 774.8 L1387.0 774.7 L1390.0 774.6 L1393.0 774.5 L1396.0 774.5 L1399.0 774.3 L1402.0 773.8 L1405.0 773.2 L1408.0 772.7 L1411.0 772.8 L1414.0 773.1 L1417.0 773.6 L1420.0 774.1 L1423.0 774.7 L1426.0 775.3 L1429.0 776.0 L1432.0 776.6 L1435.0 777.0 L1438.0 777.0 L1441.0 776.8 L1444.0 776.3 L1447.0 775.6 L1450.0 774.7 L1453.0 773.8 L1456.0 772.8 L1459.0 771.8 L1462.0 771.0 L1465.0 770.7 L1468.0 770.9 L1471.0 771.6 L1474.0 772.4 L1477.0 773.2 L1480.0 773.5 L1483.0 773.4 L1486.0 772.7 L1489.0 771.9 L1492.0 771.3 L1495.0 771.1 L1498.0 771.2 L1501.0 771.3 L1504.0 771.4 L1507.0 771.6 L1510.0 772.1 L1513.0 773.0 L1516.0 773.9 L1519.0 774.2 L1522.0 773.6 L1525.0 772.2 L1528.0 770.8 L1531.0 770.1 L1534.0 770.3 L1537.0 770.9 L1540.0 771.7 L1543.0 772.4 L1546.0 773.0 L1549.0 773.3 L1552.0 773.3 L1555.0 773.0 L1558.0 772.5 L1561.0 772.0 L1564.0 771.3 L1567.0 770.7 L1570.0 770.3 L1573.0 770.6 L1576.0 771.6 L1579.0 773.0 L1582.0 774.1 L1585.0 774.4 L1588.0 773.9 L1591.0 773.2 L1594.0 772.5 L1597.0 772.2 L1600.0 772.3 L1603.0 772.5 L1606.0 772.7 L1609.0 772.7 L1612.0 772.8 L1615.0 773.0 L1618.0 773.3 L1621.0 773.7 L1624.0 774.0 L1627.0 774.1 L1630.0 774.1 L1633.0 774.2 L1636.0 774.8 L1639.0 775.6 L1642.0 776.1 L1645.0 775.8 L1648.0 774.6 L1651.0 773.2 L1654.0 772.2 L1657.0 771.8 L1660.0 771.7 L1663.0 771.7 L1666.0 771.4 L1669.0 771.0 L1672.0 770.9 L1675.0 771.0 L1678.0 771.5 L1681.0 772.0 L1684.0 772.3 L1687.0 772.5 L1690.0 772.5 L1693.0 772.8 L1696.0 773.7 L1699.0 774.7 L1702.0 775.3 L1705.0 775.1 L1708.0 774.7 L1711.0 774.5 L1714.0 774.8 L1717.0 775.4 L1720.0 776.2 L1723.0 776.7 L1726.0 776.9 L1729.0 776.9 L1732.0 776.7 L1735.0 776.2 L1738.0 775.6 L1741.0 774.9 L1744.0 774.2 L1747.0 773.6 L1750.0 773.0 L1753.0 772.6 L1756.0 772.6 L1759.0 773.3 L1762.0 774.8 L1765.0 776.6 L1768.0 777.9 L1771.0 778.2 L1774.0 777.7 L1777.0 776.7 L1780.0 775.6 L1783.0 774.8 L1786.0 774.3 L1789.0 774.2 L1792.8 774.4" stroke="#6699CC" stroke-width="12.4" stroke-linejoin="round" fill="none"/>
<path d="M142.0 746.7 L145.0 746.8 L148.0 746.8 L151.0 746.8 L154.0 746.9 L157.0 746.9 L160.0 746.9 L163.0 747.0 L166.0 747.0 L169.0 747.0 L172.0 747.1 L175.0 747.1 L178.0 747.1 L181.0 747.2 L184.0 747.2 L187.0 747.2 L190.0 747.2 L193.0 747.3 L196.0 747.3 L199.0 747.3 L202.0 747.4 L205.0 747.4 L208.0 747.4 L211.0 747.4 L214.0 747.5 L217.0 747.5 L220.0 747.5 L223.0 747.5 L226.0 747.6 L229.0 747.6 L232.0 747.6 L235.0 747.6 L238.0 747.7 L241.0 747.7 L244.0 747.7 L247.0 747.7 L250.0 747.8 L253.0 747.8 L256.0 747.8 L259.0 747.8 L262.0 747.9 L265.0 747.9 L268.0 747.9 L271.0 747.9 L274.0 747.9 L277.0 748.0 L280.0 748.0 L283.0 748.0 L286.0 748.0 L289.0 748.1 L292.0 748.1 L295.0 748.1 L298.0 748.1 L301.0 748.1 L304.0 748.2 L307.0 748.2 L310.0 748.2 L313.0 748.2 L316.0 748.2 L319.0 748.3 L322.0 748.3 L325.0 748.3 L328.0 748.3 L331.0 748.4 L334.0 748.4 L337.0 748.4 L340.0 748.4 L343.0 748.4 L346.0 748.5 L349.0 748.5 L352.0 748.5 L355.0 748.5 L358.0 748.5 L361.0 748.6 L364.0 748.6 L367.0 748.6 L370.0 748.6 L373.0 748.7 L376.0 748.7 L379.0 748.7 L382.0 748.7 L385.0 748.7 L388.0 748.8 L391.0 748.8 L394.0 748.8 L397.0 748.8 L400.0 748.9 L403.0 748.9 L406.0 748.9 L409.0 748.9 L412.0 749.0 L415.0 749.0 L418.0 749.0 L421.0 749.0 L424.0 749.1 L427.0 749.1 L430.0 749.1 L433.0 749.1 L436.0 749.2 L439.0 749.2 L442.0 749.2 L445.0 749.2 L448.0 749.3 L451.0 749.3 L454.0 749.3 L457.0 749.4 L460.0 749.4 L463.0 749.4 L466.0 749.4 L469.0 749.5 L472.0 749.5 L475.0 749.5 L478.0 749.6 L481.0 749.6 L484.0 749.6 L487.0 749.7 L490.0 749.7 L493.0 749.7 L496.0 749.8 L499.0 749.8 L502.0 749.8 L505.0 749.9 L508.0 749.9 L511.0 749.9 L514.0 750.0 L517.0 750.0 L520.0 750.1 L523.0 750.1 L526.0 750.1 L529.0 750.2 L532.0 750.2 L535.0 750.3 L538.0 750.3 L541.0 750.3 L544.0 750.4 L547.0 750.4 L550.0 750.5 L553.0 750.5 L556.0 750.6 L559.0 750.6 L562.0 750.7 L565.0 750.7 L568.0 750.8 L571.0 750.8 L574.0 750.9 L577.0 750.9 L580.0 751.0 L583.0 751.0 L586.0 751.1 L589.0 751.1 L592.0 751.2 L595.0 751.2 L598.0 751.3 L601.0 751.3 L604.0 751.4 L607.0 751.5 L610.0 751.5 L613.0 751.6 L616.0 751.6 L619.0 751.7 L622.0 751.8 L625.0 751.8 L628.0 751.9 L631.0 751.9 L634.0 752.0 L637.0 752.1 L640.0 752.1 L643.0 752.2 L646.0 752.3 L649.0 752.3 L652.0 752.4 L655.0 752.5 L658.0 752.6 L661.0 752.6 L664.0 752.7 L667.0 752.8 L670.0 752.9 L673.0 752.9 L676.0 753.0 L679.0 753.1 L682.0 753.2 L685.0 753.2 L688.0 753.3 L691.0 753.4 L694.0 753.5 L697.0 753.6 L700.0 753.7 L703.0 753.7 L706.0 753.8 L709.0 753.9 L712.0 754.0 L715.0 754.1 L718.0 754.2 L721.0 754.3 L724.0 754.4 L727.0 754.4 L730.0 754.5 L733.0 754.6 L736.0 754.7 L739.0 754.8 L742.0 754.9 L745.0 755.0 L748.0 755.1 L751.0 755.2 L754.0 755.3 L757.0 755.4 L760.0 755.5 L763.0 755.6 L766.0 755.7 L769.0 755.8 L772.0 755.9 L775.0 756.0 L778.0 756.1 L781.0 756.2 L784.0 756.3 L787.0 756.4 L790.0 756.5 L793.0 756.6 L796.0 756.7 L799.0 756.8 L802.0 756.9 L805.0 757.0 L808.0 757.1 L811.0 757.2 L814.0 757.3 L817.0 757.4 L820.0 757.5 L823.0 757.7 L826.0 757.8 L829.0 757.9 L832.0 758.0 L835.0 758.1 L838.0 758.2 L841.0 758.3 L844.0 758.4 L847.0 758.5 L850.0 758.7 L853.0 758.8 L856.0 758.9 L859.0 759.0 L862.0 759.1 L865.0 759.2 L868.0 759.3 L871.0 759.4 L874.0 759.6 L877.0 759.7 L880.0 759.8 L883.0 759.9 L886.0 760.0 L889.0 760.1 L892.0 760.3 L895.0 760.4 L898.0 760.5 L901.0 760.6 L904.0 760.7 L907.0 760.8 L910.0 761.0 L913.0 761.1 L916.0 761.2 L919.0 761.3 L922.0 761.4 L925.0 761.6 L928.0 761.7 L931.0 761.8 L934.0 761.9 L937.0 762.0 L940.0 762.2 L943.0 762.3 L946.0 762.4 L949.0 762.5 L952.0 762.6 L955.0 762.8 L958.0 762.9 L961.0 763.0 L964.0 763.1 L967.0 763.2 L970.0 763.4 L973.0 763.5 L976.0 763.6 L979.0 763.7 L982.0 763.9 L985.0 764.0 L988.0 764.1 L991.0 764.2 L994.0 764.3 L997.0 764.5 L1000.0 764.6 L1003.0 764.7 L1006.0 764.8 L1009.0 764.9 L1012.0 765.1 L1015.0 765.2 L1018.0 765.3 L1021.0 765.4 L1024.0 765.5 L1027.0 765.7 L1030.0 765.8 L1033.0 765.9 L1036.0 766.0 L1039.0 766.1 L1042.0 766.3 L1045.0 766.4 L1048.0 766.5 L1051.0 766.6 L1054.0 766.7 L1057.0 766.9 L1060.0 767.0 L1063.0 767.1 L1066.0 767.2 L1069.0 767.3 L1072.0 767.4 L1075.0 767.6 L1078.0 767.7 L1081.0 767.8 L1084.0 767.9 L1087.0 768.0 L1090.0 768.1 L1093.0 768.2 L1096.0 768.4 L1099.0 768.5 L1102.0 768.6 L1105.0 768.7 L1108.0 768.8 L1111.0 768.9 L1114.0 769.0 L1117.0 769.1 L1120.0 769.2 L1123.0 769.4 L1126.0 769.5 L1129.0 769.6 L1132.0 769.7 L1135.0 769.8 L1138.0 769.9 L1141.0 770.0 L1144.0 770.1 L1147.0 770.2 L1150.0 770.3 L1153.0 770.4 L1156.0 770.5 L1159.0 770.6 L1162.0 770.7 L1165.0 770.8 L1168.0 770.9 L1171.0 771.0 L1174.0 771.1 L1177.0 771.2 L1180.0 771.3 L1183.0 771.4 L1186.0 771.5 L1189.0 771.6 L1192.0 771.7 L1195.0 771.8 L1198.0 771.8 L1201.0 771.9 L1204.0 772.0 L1207.0 772.1 L1210.0 772.2 L1213.0 772.3 L1216.0 772.4 L1219.0 772.5 L1222.0 772.5 L1225.0 772.6 L1228.0 772.7 L1231.0 772.8 L1234.0 772.9 L1237.0 772.9 L1240.0 773.0 L1243.0 773.1 L1246.0 773.2 L1249.0 773.2 L1252.0 773.3 L1255.0 773.4 L1258.0 773.5 L1261.0 773.5 L1264.0 773.6 L1267.0 773.7 L1270.0 773.7 L1273.0 773.8 L1276.0 773.9 L1279.0 773.9 L1282.0 774.0 L1285.0 774.0 L1288.0 774.1 L1291.0 774.2 L1294.0 774.2 L1297.0 774.3 L1300.0 774.3 L1303.0 774.4 L1306.0 774.5 L1309.0 774.5 L1312.0 774.6 L1315.0 774.6 L1318.0 774.7 L1321.0 774.7 L1324.0 774.8 L1327.0 774.8 L1330.0 774.9 L1333.0 774.9 L1336.0 775.0 L1339.0 775.0 L1342.0 775.1 L1345.0 775.1 L1348.0 775.2 L1351.0 775.2 L1354.0 775.2 L1357.0 775.3 L1360.0 775.3 L1363.0 775.4 L1366.0 775.4 L1369.0 775.5 L1372.0 775.5 L1375.0 775.5 L1378.0 775.6 L1381.0 775.6 L1384.0 775.6 L1387.0 775.7 L1390.0 775.7 L1393.0 775.7 L1396.0 775.8 L1399.0 775.8 L1402.0 775.8 L1405.0 775.9 L1408.0 775.9 L1411.0 775.9 L1414.0 776.0 L1417.0 776.0 L1420.0 776.0 L1423.0 776.0 L1426.0 776.1 L1429.0 776.1 L1432.0 776.1 L1435.0 776.1 L1438.0 776.2 L1441.0 776.2 L1444.0 776.2 L1447.0 776.2 L1450.0 776.2 L1453.0 776.3 L1456.0 776.3 L1459.0 776.3 L1462.0 776.3 L1465.0 776.3 L1468.0 776.4 L1471.0 776.4 L1474.0 776.4 L1477.0 776.4 L1480.0 776.4 L1483.0 776.4 L1486.0 776.5 L1489.0 776.5 L1492.0 776.5 L1495.0 776.5 L1498.0 776.5 L1501.0 776.5 L1504.0 776.5 L1507.0 776.5 L1510.0 776.5 L1513.0 776.6 L1516.0 776.6 L1519.0 776.6 L1522.0 776.6 L1525.0 776.6 L1528.0 776.6 L1531.0 776.6 L1534.0 776.6 L1537.0 776.6 L1540.0 776.6 L1543.0 776.6 L1546.0 776.6 L1549.0 776.6 L1552.0 776.6 L1555.0 776.6 L1558.0 776.6 L1561.0 776.7 L1564.0 776.7 L1567.0 776.7 L1570.0 776.7 L1573.0 776.7 L1576.0 776.7 L1579.0 776.7 L1582.0 776.7 L1585.0 776.7 L1588.0 776.7 L1591.0 776.7 L1594.0 776.7 L1597.0 776.7 L1600.0 776.7 L1603.0 776.7 L1606.0 776.6 L1609.0 776.6 L1612.0 776.6 L1615.0 776.6 L1618.0 776.6 L1621.0 776.6 L1624.0 776.6 L1627.0 776.6 L1630.0 776.6 L1633.0 776.6 L1636.0 776.6 L1639.0 776.6 L1642.0 776.6 L1645.0 776.6 L1648.0 776.6 L1651.0 776.6 L1654.0 776.6 L1657.0 776.6 L1660.0 776.6 L1663.0 776.5 L1666.0 776.5 L1669.0 776.5 L1672.0 776.5 L1675.0 776.5 L1678.0 776.5 L1681.0 776.5 L1684.0 776.5 L1687.0 776.5 L1690.0 776.5 L1693.0 776.5 L1696.0 776.5 L1699.0 776.4 L1702.0 776.4 L1705.0 776.4 L1708.0 776.4 L1711.0 776.4 L1714.0 776.4 L1717.0 776.4 L1720.0 776.4 L1723.0 776.4 L1726.0 776.4 L1729.0 776.3 L1732.0 776.3 L1735.0 776.3 L1738.0 776.3 L1741.0 776.3 L1744.0 776.3 L1747.0 776.3 L1750.0 776.3 L1753.0 776.3 L1756.0 776.2 L1759.0 776.2 L1762.0 776.2 L1765.0 776.2 L1768.0 776.2 L1771.0 776.2 L1774.0 776.2 L1777.0 776.2 L1780.0 776.2 L1783.0 776.2 L1786.0 776.1 L1789.0 776.1 L1792.8 776.1" stroke="#66BB00" stroke-width="1.7" fill="none"/>
<path d="M142.0 744.6 L145.0 744.4 L148.0 744.2 L151.0 744.0 L154.0 743.9 L157.0 743.7 L160.0 743.6 L163.0 743.4 L166.0 743.3 L169.0 743.2 L172.0 743.0 L175.0 742.9 L178.0 742.8 L181.0 742.7 L184.0 742.6 L187.0 742.5 L190.0 742.4 L193.0 742.3 L196.0 742.2 L199.0 742.1 L202.0 742.0 L205.0 741.9 L208.0 741.8 L211.0 741.7 L214.0 741.7 L217.0 741.6 L220.0 741.5 L223.0 741.4 L226.0 741.4 L229.0 741.3 L232.0 741.3 L235.0 741.2 L238.0 741.2 L241.0 741.1 L244.0 741.0 L247.0 741.0 L250.0 741.0 L253.0 740.9 L256.0 740.9 L259.0 740.8 L262.0 740.8 L265.0 740.7 L268.0 740.7 L271.0 740.7 L274.0 740.6 L277.0 740.6 L280.0 740.5 L283.0 740.5 L286.0 740.5 L289.0 740.4 L292.0 740.4 L295.0 740.4 L298.0 740.3 L301.0 740.3 L304.0 740.3 L307.0 740.2 L310.0 740.2 L313.0 740.2 L316.0 740.1 L319.0 740.1 L322.0 740.0 L325.0 740.0 L328.0 740.0 L331.0 739.9 L334.0 739.9 L337.0 739.8 L340.0 739.8 L343.0 739.7 L346.0 739.7 L349.0 739.6 L352.0 739.6 L355.0 739.5 L358.0 739.4 L361.0 739.4 L364.0 739.3 L367.0 739.2 L370.0 739.2 L373.0 739.1 L376.0 739.0 L379.0 738.9 L382.0 738.8 L385.0 738.8 L388.0 738.7 L391.0 738.6 L394.0 738.5 L397.0 738.4 L400.0 738.3 L403.0 738.1 L406.0 738.0 L409.0 737.9 L412.0 737.8 L415.0 737.7 L418.0 737.6 L421.0 737.4 L424.0 737.3 L427.0 737.2 L430.0 737.0 L433.0 736.9 L436.0 736.8 L439.0 736.6 L442.0 736.5 L445.0 736.3 L448.0 736.2 L451.0 736.0 L454.0 735.9 L457.0 735.7 L460.0 735.6 L463.0 735.4 L466.0 735.3 L469.0 735.1 L472.0 734.9 L475.0 734.8 L478.0 734.6 L481.0 734.5 L484.0 734.3 L487.0 734.1 L490.0 734.0 L493.0 733.8 L496.0 733.6 L499.0 733.5 L502.0 733.3 L505.0 733.1 L508.0 733.0 L511.0 732.8 L514.0 732.6 L517.0 732.5 L520.0 732.3 L523.0 732.2 L526.0 732.0 L529.0 731.8 L532.0 731.7 L535.0 731.5 L538.0 731.3 L541.0 731.2 L544.0 731.0 L547.0 730.9 L550.0 730.7 L553.0 730.6 L556.0 730.4 L559.0 730.3 L562.0 730.1 L565.0 730.0 L568.0 729.8 L571.0 729.7 L574.0 729.5 L577.0 729.4 L580.0 729.2 L583.0 729.1 L586.0 729.0 L589.0 728.8 L592.0 728.7 L595.0 728.6 L598.0 728.5 L601.0 728.4 L604.0 728.2 L607.0 728.1 L610.0 728.0 L613.0 727.9 L616.0 727.8 L619.0 727.7 L622.0 727.6 L625.0 727.5 L628.0 727.4 L631.0 727.3 L634.0 727.3 L637.0 727.2 L640.0 727.1 L643.0 727.0 L646.0 727.0 L649.0 726.9 L652.0 726.8 L655.0 726.8 L658.0 726.7 L661.0 726.7 L664.0 726.7 L667.0 726.6 L670.0 726.6 L673.0 726.6 L676.0 726.6 L679.0 726.6 L682.0 726.5 L685.0 726.5 L688.0 726.5 L691.0 726.5 L694.0 726.6 L697.0 726.6 L700.0 726.6 L703.0 726.6 L706.0 726.6 L709.0 726.6 L712.0 726.6 L715.0 726.7 L718.0 726.7 L721.0 726.7 L724.0 726.7 L727.0 726.7 L730.0 726.7 L733.0 726.7 L736.0 726.7 L739.0 726.6 L742.0 726.6 L745.0 726.6 L748.0 726.5 L751.0 726.5 L754.0 726.4 L757.0 726.4 L760.0 726.3 L763.0 726.2 L766.0 726.1 L769.0 726.0 L772.0 725.8 L775.0 725.7 L778.0 725.6 L781.0 725.4 L784.0 725.2 L787.0 725.0 L790.0 724.8 L793.0 724.5 L796.0 724.3 L799.0 724.0 L802.0 723.7 L805.0 723.4 L808.0 723.0 L811.0 722.7 L814.0 722.3 L817.0 721.9 L820.0 721.4 L823.0 721.0 L826.0 720.5 L829.0 720.0 L832.0 719.4 L835.0 718.8 L838.0 718.2 L841.0 717.6 L844.0 716.9 L847.0 716.2 L850.0 715.5 L853.0 714.7 L856.0 713.9 L859.0 713.1 L862.0 712.2 L865.0 711.4 L868.0 710.5 L871.0 709.6 L874.0 708.6 L877.0 707.7 L880.0 706.7 L883.0 705.7 L886.0 704.7 L889.0 703.7 L892.0 702.7 L895.0 701.6 L898.0 700.6 L901.0 699.5 L904.0 698.5 L907.0 697.4 L910.0 696.4 L913.0 695.4 L916.0 694.3 L919.0 693.3 L922.0 692.3 L925.0 691.3 L928.0 690.3 L931.0 689.3 L934.0 688.4 L937.0 687.6 L940.0 686.7 L943.0 686.0 L946.0 685.2 L949.0 684.6 L952.0 684.0 L955.0 683.5 L958.0 683.0 L961.0 682.6 L964.0 682.3 L967.0 682.1 L970.0 682.0 L973.0 682.0 L976.0 682.1 L979.0 682.4 L982.0 682.7 L985.0 683.1 L988.0 683.7 L991.0 684.3 L994.0 685.1 L997.0 685.9 L1000.0 686.9 L1003.0 687.9 L1006.0 689.0 L1009.0 690.1 L1012.0 691.4 L1015.0 692.7 L1018.0 694.1 L1021.0 695.5 L1024.0 696.9 L1027.0 698.5 L1030.0 700.0 L1033.0 701.6 L1036.0 703.2 L1039.0 704.9 L1042.0 706.5 L1045.0 708.2 L1048.0 709.9 L1051.0 711.6 L1054.0 713.3 L1057.0 715.0 L1060.0 716.7 L1063.0 718.4 L1066.0 720.1 L1069.0 721.8 L1072.0 723.5 L1075.0 725.2 L1078.0 726.8 L1081.0 728.4 L1084.0 730.0 L1087.0 731.6 L1090.0 733.2 L1093.0 734.7 L1096.0 736.2 L1099.0 737.6 L1102.0 739.0 L1105.0 740.4 L1108.0 741.7 L1111.0 743.0 L1114.0 744.2 L1117.0 745.4 L1120.0 746.5 L1123.0 747.6 L1126.0 748.7 L1129.0 749.6 L1132.0 750.6 L1135.0 751.5 L1138.0 752.4 L1141.0 753.2 L1144.0 754.0 L1147.0 754.7 L1150.0 755.5 L1153.0 756.2 L1156.0 756.8 L1159.0 757.4 L1162.0 758.0 L1165.0 758.6 L1168.0 759.1 L1171.0 759.6 L1174.0 760.1 L1177.0 760.6 L1180.0 761.0 L1183.0 761.4 L1186.0 761.8 L1189.0 762.2 L1192.0 762.6 L1195.0 762.9 L1198.0 763.2 L1201.0 763.5 L1204.0 763.9 L1207.0 764.1 L1210.0 764.4 L1213.0 764.7 L1216.0 765.0 L1219.0 765.3 L1222.0 765.5 L1225.0 765.8 L1228.0 766.0 L1231.0 766.3 L1234.0 766.5 L1237.0 766.7 L1240.0 767.0 L1243.0 767.2 L1246.0 767.4 L1249.0 767.6 L1252.0 767.9 L1255.0 768.1 L1258.0 768.3 L1261.0 768.5 L1264.0 768.7 L1267.0 768.8 L1270.0 769.0 L1273.0 769.2 L1276.0 769.4 L1279.0 769.6 L1282.0 769.7 L1285.0 769.9 L1288.0 770.0 L1291.0 770.2 L1294.0 770.4 L1297.0 770.5 L1300.0 770.6 L1303.0 770.8 L1306.0 770.9 L1309.0 771.0 L1312.0 771.2 L1315.0 771.3 L1318.0 771.4 L1321.0 771.5 L1324.0 771.6 L1327.0 771.8 L1330.0 771.9 L1333.0 772.0 L1336.0 772.1 L1339.0 772.2 L1342.0 772.2 L1345.0 772.3 L1348.0 772.4 L1351.0 772.5 L1354.0 772.6 L1357.0 772.7 L1360.0 772.7 L1363.0 772.8 L1366.0 772.9 L1369.0 772.9 L1372.0 773.0 L1375.0 773.1 L1378.0 773.1 L1381.0 773.2 L1384.0 773.2 L1387.0 773.3 L1390.0 773.3 L1393.0 773.3 L1396.0 773.4 L1399.0 773.4 L1402.0 773.5 L1405.0 773.5 L1408.0 773.5 L1411.0 773.6 L1414.0 773.6 L1417.0 773.6 L1420.0 773.6 L1423.0 773.7 L1426.0 773.7 L1429.0 773.7 L1432.0 773.7 L1435.0 773.7 L1438.0 773.7 L1441.0 773.7 L1444.0 773.7 L1447.0 773.8 L1450.0 773.8 L1453.0 773.8 L1456.0 773.8 L1459.0 773.8 L1462.0 773.8 L1465.0 773.8 L1468.0 773.8 L1471.0 773.8 L1474.0 773.7 L1477.0 773.7 L1480.0 773.7 L1483.0 773.7 L1486.0 773.7 L1489.0 773.7 L1492.0 773.7 L1495.0 773.7 L1498.0 773.7 L1501.0 773.6 L1504.0 773.6 L1507.0 773.6 L1510.0 773.6 L1513.0 773.6 L1516.0 773.6 L1519.0 773.5 L1522.0 773.5 L1525.0 773.5 L1528.0 773.5 L1531.0 773.5 L1534.0 773.5 L1537.0 773.4 L1540.0 773.4 L1543.0 773.4 L1546.0 773.4 L1549.0 773.4 L1552.0 773.3 L1555.0 773.3 L1558.0 773.3 L1561.0 773.3 L1564.0 773.3 L1567.0 773.2 L1570.0 773.2 L1573.0 773.2 L1576.0 773.2 L1579.0 773.2 L1582.0 773.1 L1585.0 773.1 L1588.0 773.1 L1591.0 773.1 L1594.0 773.1 L1597.0 773.1 L1600.0 773.1 L1603.0 773.1 L1606.0 773.0 L1609.0 773.0 L1612.0 773.0 L1615.0 773.0 L1618.0 773.0 L1621.0 773.0 L1624.0 773.0 L1627.0 773.0 L1630.0 773.0 L1633.0 773.0 L1636.0 773.0 L1639.0 773.0 L1642.0 773.0 L1645.0 773.0 L1648.0 773.0 L1651.0 773.0 L1654.0 773.0 L1657.0 773.1 L1660.0 773.1 L1663.0 773.1 L1666.0 773.1 L1669.0 773.1 L1672.0 773.1 L1675.0 773.2 L1678.0 773.2 L1681.0 773.2 L1684.0 773.3 L1687.0 773.3 L1690.0 773.3 L1693.0 773.4 L1696.0 773.4 L1699.0 773.4 L1702.0 773.5 L1705.0 773.5 L1708.0 773.6 L1711.0 773.6 L1714.0 773.7 L1717.0 773.7 L1720.0 773.8 L1723.0 773.9 L1726.0 773.9 L1729.0 774.0 L1732.0 774.1 L1735.0 774.1 L1738.0 774.2 L1741.0 774.3 L1744.0 774.4 L1747.0 774.5 L1750.0 774.6 L1753.0 774.7 L1756.0 774.8 L1759.0 774.9 L1762.0 775.0 L1765.0 775.1 L1768.0 775.2 L1771.0 775.3 L1774.0 775.4 L1777.0 775.5 L1780.0 775.7 L1783.0 775.8 L1786.0 775.9 L1789.0 776.1 L1792.8 776.2" stroke="#4A4A4A" stroke-width="12.4" fill="none"/>
<path d="M164.5 737.1l0.0 12.0M187.8 737.0l0.0 12.0M211.2 736.7l0.0 12.0M234.5 736.5l0.0 12.0M257.8 736.1l0.0 12.0M281.0 735.6l0.0 12.0M304.2 735.1l0.0 12.0M327.5 734.5l0.0 12.0M350.8 733.8l0.0 12.0M374.0 733.0l0.0 12.0M397.2 732.2l0.0 12.0M420.5 731.3l0.0 12.0M443.8 730.3l0.0 12.0M467.0 729.2l0.0 12.0M490.2 728.1l0.0 12.0M513.5 727.0l0.0 12.0M536.8 725.9l0.0 12.0M560.0 724.8l0.0 12.0M583.2 723.7l0.0 12.0M606.8 722.8l0.0 12.0M630.0 721.9l0.0 12.0M653.2 721.3l0.0 12.0M676.5 720.9l0.0 12.0M699.8 720.7l0.0 12.0M723.0 720.9l0.0 12.0M746.2 721.4l0.0 12.0M769.5 722.2l0.0 12.0M792.8 723.4l0.0 12.0M816.0 724.9l0.0 12.0M839.2 726.7l0.0 12.0M862.5 728.7l0.0 12.0M885.5 730.8l0.0 12.0M908.8 733.1l0.0 12.0M932.0 735.4l0.0 12.0M955.0 737.8l0.0 12.0M978.2 740.1l0.0 12.0M1001.5 742.5l0.0 12.0M1024.5 744.8l0.0 12.0M1047.8 747.0l0.0 12.0M1071.0 749.1l0.0 12.0M1094.2 751.2l0.0 12.0M1117.2 753.1l0.0 12.0M1140.5 754.9l0.0 12.0M1163.8 756.6l0.0 12.0M1187.0 758.1l0.0 12.0M1210.2 759.6l0.0 12.0M1233.5 760.8l0.0 12.0M1256.8 762.0l0.0 12.0M1280.0 763.0l0.0 12.0M1303.2 764.0l0.0 12.0M1326.5 764.8l0.0 12.0M1349.8 765.5l0.0 12.0M1373.0 766.1l0.0 12.0M1396.2 766.7l0.0 12.0M1419.5 767.1l0.0 12.0M1442.8 767.5l0.0 12.0M1466.2 767.9l0.0 12.0M1489.5 768.2l0.0 12.0M1512.8 768.4l0.0 12.0M1536.0 768.6l0.0 12.0M1559.2 768.7l0.0 12.0M1582.5 768.9l0.0 12.0M1605.8 768.9l0.0 12.0M1629.0 769.0l0.0 12.0M1652.5 769.0l0.0 12.0M1675.8 769.1l0.0 12.0M1699.0 769.1l0.0 12.0M1722.2 769.0l0.0 12.0M1745.5 769.0l0.0 12.0M1768.8 769.0l0.0 12.0M1791.8 768.9l0.0 12.0" stroke="#EE3B3B" stroke-width="1.7" fill="none"/>
<path d="M164.5 740.9l0.0 12.0M187.8 741.1l0.0 12.0M211.2 741.4l0.0 12.0M234.5 741.5l0.0 12.0M257.8 741.7l0.0 12.0M281.0 741.9l0.0 12.0M304.2 742.1l0.0 12.0M327.5 742.2l0.0 12.0M350.8 742.4l0.0 12.0M374.0 742.5l0.0 12.0M397.5 742.7l0.0 12.0M420.8 742.9l0.0 12.0M444.0 743.1l0.0 12.0M467.2 743.3l0.0 12.0M490.5 743.5l0.0 12.0M513.8 743.7l0.0 12.0M537.0 744.0l0.0 12.0M560.2 744.3l0.0 12.0M583.5 744.7l0.0 12.0M607.0 745.1l0.0 12.0M630.2 745.5l0.0 12.0M653.5 746.0l0.0 12.0M676.8 746.5l0.0 12.0M700.0 746.9l0.0 12.0M723.2 747.3l0.0 12.0M746.5 747.5l0.0 12.0M769.8 747.1l0.0 12.0M793.0 745.8l0.0 12.0M816.2 743.1l0.0 12.0M834.8 740.3l8.5 8.5M861.2 732.0l0.0 12.0M878.8 725.5l8.5 8.5M904.5 714.5l0.0 12.0M926.0 705.4l0.0 12.0M943.8 699.9l8.5 8.5M971.0 694.5l0.0 12.0M994.0 696.2l0.0 12.0M1016.5 702.8l0.0 12.0M1037.8 712.2l0.0 12.0M1054.3 733.0l8.5 -8.5M1075.0 743.4l8.5 -8.5M1096.3 752.8l8.5 -8.5M1122.5 750.4l0.0 12.0M1145.0 756.3l0.0 12.0M1167.8 760.4l0.0 12.0M1191.0 763.1l0.0 12.0M1214.2 764.8l0.0 12.0M1237.5 766.0l0.0 12.0M1260.8 766.8l0.0 12.0M1284.0 767.5l0.0 12.0M1307.2 768.0l0.0 12.0M1330.5 768.5l0.0 12.0M1353.8 768.9l0.0 12.0M1377.0 769.2l0.0 12.0M1400.5 769.5l0.0 12.0M1423.8 769.8l0.0 12.0M1447.0 770.0l0.0 12.0M1470.2 770.2l0.0 12.0M1493.5 770.3l0.0 12.0M1516.8 770.4l0.0 12.0M1540.0 770.5l0.0 12.0M1563.2 770.5l0.0 12.0M1586.5 770.5l0.0 12.0M1610.0 770.5l0.0 12.0M1633.2 770.5l0.0 12.0M1656.5 770.5l0.0 12.0M1679.8 770.4l0.0 12.0M1703.0 770.3l0.0 12.0M1726.2 770.3l0.0 12.0M1749.5 770.2l0.0 12.0M1772.8 770.1l0.0 12.0" stroke="#1A6AE0" stroke-width="1.7" fill="none"/>
<path d="M142.0 909.3 L145.0 909.9 L148.0 910.6 L151.0 911.2 L154.0 911.4 L157.0 911.2 L160.0 910.7 L163.0 910.1 L166.0 909.2 L169.0 908.2 L172.0 907.3 L175.0 906.8 L178.0 906.7 L181.0 906.7 L184.0 906.0 L187.0 904.4 L190.0 902.5 L193.0 901.3 L196.0 901.8 L199.0 903.7 L202.0 906.2 L205.0 908.0 L208.0 908.6 L211.0 908.2 L214.0 907.3 L217.0 906.5 L220.0 906.1 L223.0 906.4 L226.0 907.4 L229.0 908.6 L232.0 909.4 L235.0 909.7 L238.0 909.5 L241.0 909.3 L244.0 909.2 L247.0 909.3 L250.0 909.0 L253.0 908.5 L256.0 908.1 L259.0 908.2 L262.0 908.8 L265.0 909.7 L268.0 910.7 L271.0 911.5 L274.0 912.1 L277.0 912.3 L280.0 912.2 L283.0 911.6 L286.0 910.2 L289.0 908.0 L292.0 905.5 L295.0 903.8 L298.0 903.1 L301.0 903.2 L304.0 903.1 L307.0 902.3 L310.0 901.3 L313.0 901.1 L316.0 902.2 L319.0 904.8 L322.0 907.9 L325.0 910.3 L328.0 910.4 L331.0 908.0 L334.0 904.0 L337.0 900.3 L340.0 898.7 L343.0 899.6 L346.0 902.2 L349.0 904.9 L352.0 906.8 L355.0 907.7 L358.0 907.6 L361.0 906.8 L364.0 905.5 L367.0 904.2 L370.0 903.6 L373.0 904.2 L376.0 905.2 L379.0 905.7 L382.0 905.1 L385.0 903.9 L388.0 902.8 L391.0 902.4 L394.0 902.5 L397.0 902.8 L400.0 903.1 L403.0 903.3 L406.0 903.2 L409.0 902.7 L412.0 902.2 L415.0 901.7 L418.0 901.5 L421.0 901.4 L424.0 900.9 L427.0 900.1 L430.0 899.3 L433.0 898.9 L436.0 898.9 L439.0 898.9 L442.0 898.5 L445.0 897.4 L448.0 896.1 L451.0 895.0 L454.0 894.8 L457.0 895.3 L460.0 896.3 L463.0 897.5 L466.0 898.4 L469.0 898.6 L472.0 898.5 L475.0 898.2 L478.0 898.1 L481.0 898.0 L484.0 897.8 L487.0 897.3 L490.0 896.6 L493.0 896.3 L496.0 896.4 L499.0 896.9 L502.0 897.8 L505.0 898.9 L508.0 900.0 L511.0 900.3 L514.0 899.4 L517.0 897.4 L520.0 895.2 L523.0 893.8 L526.0 893.7 L529.0 894.3 L532.0 894.9 L535.0 894.9 L538.0 894.4 L541.0 893.8 L544.0 893.3 L547.0 892.9 L550.0 892.9 L553.0 893.8 L556.0 895.6 L559.0 897.8 L562.0 899.6 L565.0 900.6 L568.0 901.0 L571.0 901.2 L574.0 901.2 L577.0 900.5 L580.0 899.2 L583.0 897.5 L586.0 895.8 L589.0 894.2 L592.0 892.3 L595.0 890.1 L598.0 887.6 L601.0 885.7 L604.0 884.9 L607.0 885.3 L610.0 886.5 L613.0 888.1 L616.0 890.0 L619.0 892.1 L622.0 894.2 L625.0 895.7 L628.0 896.3 L631.0 896.0 L634.0 895.1 L637.0 894.1 L640.0 893.2 L643.0 892.1 L646.0 890.5 L649.0 888.5 L652.0 886.6 L655.0 885.1 L658.0 884.2 L661.0 883.9 L664.0 884.1 L667.0 884.7 L670.0 885.2 L673.0 885.2 L676.0 884.4 L679.0 883.5 L682.0 883.2 L685.0 883.7 L688.0 884.7 L691.0 885.8 L694.0 886.7 L697.0 887.0 L700.0 887.2 L703.0 887.2 L706.0 887.4 L709.0 887.6 L712.0 887.7 L715.0 887.7 L718.0 887.6 L721.0 887.7 L724.0 888.0 L727.0 888.4 L730.0 888.4 L733.0 888.0 L736.0 887.1 L739.0 885.9 L742.0 884.3 L745.0 882.6 L748.0 881.2 L751.0 880.3 L754.0 879.7 L757.0 879.4 L760.0 879.7 L763.0 880.3 L766.0 880.6 L769.0 880.4 L772.0 879.8 L775.0 879.1 L778.0 878.2 L781.0 876.9 L784.0 875.0 L787.0 873.3 L790.0 872.3 L793.0 871.9 L796.0 872.1 L799.0 872.7 L802.0 873.7 L805.0 874.6 L808.0 875.5 L811.0 876.4 L814.0 877.2 L817.0 877.7 L820.0 877.4 L823.0 876.6 L826.0 875.3 L829.0 873.8 L832.0 872.1 L835.0 870.6 L838.0 869.6 L841.0 869.0 L844.0 868.6 L847.0 867.8 L850.0 866.2 L853.0 864.4 L856.0 862.8 L859.0 862.1 L862.0 862.6 L865.0 863.8 L868.0 865.1 L871.0 866.0 L874.0 866.0 L877.0 865.3 L880.0 864.3 L883.0 863.3 L886.0 862.8 L889.0 862.7 L892.0 862.6 L895.0 862.1 L898.0 861.0 L901.0 859.9 L904.0 859.3 L907.0 859.3 L910.0 859.6 L913.0 860.0 L916.0 860.5 L919.0 860.8 L922.0 861.0 L925.0 860.7 L928.0 859.9 L931.0 858.9 L934.0 857.9 L937.0 857.2 L940.0 857.2 L943.0 858.2 L946.0 859.9 L949.0 861.6 L952.0 862.7 L955.0 862.9 L958.0 862.6 L961.0 862.3 L964.0 862.4 L967.0 862.8 L970.0 863.0 L973.0 862.5 L976.0 861.3 L979.0 859.7 L982.0 858.0 L985.0 856.5 L988.0 855.9 L991.0 856.7 L994.0 858.9 L997.0 861.8 L1000.0 864.2 L1003.0 865.6 L1006.0 865.7 L1009.0 864.9 L1012.0 863.8 L1015.0 862.9 L1018.0 862.5 L1021.0 862.3 L1024.0 861.9 L1027.0 861.5 L1030.0 861.2 L1033.0 861.1 L1036.0 861.2 L1039.0 861.2 L1042.0 861.3 L1045.0 862.0 L1048.0 863.3 L1051.0 865.1 L1054.0 866.9 L1057.0 868.4 L1060.0 869.5 L1063.0 870.1 L1066.0 870.6 L1069.0 871.3 L1072.0 872.3 L1075.0 873.4 L1078.0 874.7 L1081.0 876.3 L1084.0 878.1 L1087.0 879.6 L1090.0 880.6 L1093.0 881.2 L1096.0 881.6 L1099.0 882.0 L1102.0 882.3 L1105.0 882.4 L1108.0 882.6 L1111.0 883.2 L1114.0 884.2 L1117.0 885.5 L1120.0 886.6 L1123.0 887.6 L1126.0 888.6 L1129.0 889.8 L1132.0 891.4 L1135.0 893.1 L1138.0 894.2 L1141.0 894.6 L1144.0 895.0 L1147.0 896.2 L1150.0 898.6 L1153.0 901.3 L1156.0 903.2 L1159.0 903.8 L1162.0 903.6 L1165.0 903.5 L1168.0 904.4 L1171.0 906.5 L1174.0 909.2 L1177.0 911.8 L1180.0 913.9 L1183.0 915.3 L1186.0 916.0 L1189.0 915.9 L1192.0 915.4 L1195.0 915.4 L1198.0 916.5 L1201.0 918.4 L1204.0 920.2 L1207.0 921.3 L1210.0 921.7 L1213.0 922.1 L1216.0 923.1 L1219.0 924.5 L1222.0 925.9 L1225.0 926.9 L1228.0 927.6 L1231.0 928.0 L1234.0 928.1 L1237.0 928.3 L1240.0 928.8 L1243.0 929.7 L1246.0 930.6 L1249.0 931.4 L1252.0 931.9 L1255.0 932.1 L1258.0 931.9 L1261.0 931.1 L1264.0 930.0 L1267.0 929.4 L1270.0 929.8 L1273.0 931.3 L1276.0 933.9 L1279.0 937.1 L1282.0 939.9 L1285.0 941.3 L1288.0 940.7 L1291.0 938.4 L1294.0 935.7 L1297.0 933.4 L1300.0 932.1 L1303.0 931.7 L1306.0 931.9 L1309.0 932.2 L1312.0 932.4 L1315.0 932.7 L1318.0 933.6 L1321.0 935.5 L1324.0 938.1 L1327.0 940.6 L1330.0 942.5 L1333.0 943.3 L1336.0 943.4 L1339.0 943.6 L1342.0 944.1 L1345.0 944.5 L1348.0 944.0 L1351.0 942.4 L1354.0 940.6 L1357.0 939.3 L1360.0 939.0 L1363.0 939.8 L1366.0 941.1 L1369.0 942.3 L1372.0 942.8 L1375.0 942.8 L1378.0 942.5 L1381.0 942.1 L1384.0 942.1 L1387.0 942.6 L1390.0 943.7 L1393.0 945.1 L1396.0 946.4 L1399.0 946.9 L1402.0 946.4 L1405.0 945.1 L1408.0 943.5 L1411.0 942.5 L1414.0 942.3 L1417.0 943.0 L1420.0 943.9 L1423.0 944.7 L1426.0 945.3 L1429.0 945.7 L1432.0 946.0 L1435.0 946.3 L1438.0 946.5 L1441.0 946.6 L1444.0 946.4 L1447.0 945.5 L1450.0 943.7 L1453.0 942.0 L1456.0 941.1 L1459.0 941.3 L1462.0 942.3 L1465.0 943.5 L1468.0 944.7 L1471.0 946.1 L1474.0 947.3 L1477.0 948.3 L1480.0 948.9 L1483.0 948.9 L1486.0 948.0 L1489.0 946.3 L1492.0 944.3 L1495.0 943.0 L1498.0 943.0 L1501.0 944.2 L1504.0 946.0 L1507.0 947.5 L1510.0 948.0 L1513.0 947.3 L1516.0 945.5 L1519.0 943.5 L1522.0 942.1 L1525.0 941.6 L1528.0 941.9 L1531.0 942.4 L1534.0 942.8 L1537.0 943.3 L1540.0 944.1 L1543.0 945.2 L1546.0 946.3 L1549.0 947.1 L1552.0 947.6 L1555.0 948.1 L1558.0 949.0 L1561.0 950.4 L1564.0 952.0 L1567.0 953.5 L1570.0 954.7 L1573.0 955.2 L1576.0 955.1 L1579.0 954.4 L1582.0 953.4 L1585.0 952.2 L1588.0 951.2 L1591.0 950.6 L1594.0 950.5 L1597.0 950.5 L1600.0 950.4 L1603.0 950.1 L1606.0 949.9 L1609.0 950.2 L1612.0 951.0 L1615.0 951.8 L1618.0 952.4 L1621.0 952.7 L1624.0 952.9 L1627.0 952.7 L1630.0 951.7 L1633.0 950.2 L1636.0 948.4 L1639.0 947.1 L1642.0 946.7 L1645.0 947.3 L1648.0 948.3 L1651.0 949.6 L1654.0 950.8 L1657.0 951.9 L1660.0 952.5 L1663.0 952.3 L1666.0 951.6 L1669.0 950.9 L1672.0 950.4 L1675.0 950.2 L1678.0 950.0 L1681.0 949.4 L1684.0 947.7 L1687.0 945.3 L1690.0 943.3 L1693.0 942.9 L1696.0 944.1 L1699.0 946.0 L1702.0 947.5 L1705.0 948.2 L1708.0 948.2 L1711.0 948.2 L1714.0 948.8 L1717.0 950.2 L1720.0 951.6 L1723.0 952.2 L1726.0 951.3 L1729.0 949.1 L1732.0 946.7 L1735.0 945.0 L1738.0 944.5 L1741.0 945.1 L1744.0 946.0 L1747.0 946.5 L1750.0 946.2 L1753.0 945.5 L1756.0 945.2 L1759.0 945.8 L1762.0 947.3 L1765.0 949.1 L1768.0 950.5 L1771.0 951.1 L1774.0 950.7 L1777.0 949.4 L1780.0 948.0 L1783.0 947.3 L1786.0 948.1 L1789.0 949.9 L1792.8 951.5" stroke="#CC9900" stroke-width="12.4" stroke-linejoin="round" fill="none"/>
<path d="M142.0 912.5 L145.0 912.5 L148.0 912.5 L151.0 912.5 L154.0 912.5 L157.0 912.5 L160.0 912.5 L163.0 912.5 L166.0 912.5 L169.0 912.5 L172.0 912.5 L175.0 912.5 L178.0 912.5 L181.0 912.5 L184.0 912.5 L187.0 912.5 L190.0 912.6 L193.0 912.6 L196.0 912.6 L199.0 912.6 L202.0 912.6 L205.0 912.6 L208.0 912.6 L211.0 912.6 L214.0 912.6 L217.0 912.6 L220.0 912.6 L223.0 912.6 L226.0 912.6 L229.0 912.6 L232.0 912.6 L235.0 912.6 L238.0 912.6 L241.0 912.6 L244.0 912.6 L247.0 912.7 L250.0 912.7 L253.0 912.7 L256.0 912.7 L259.0 912.7 L262.0 912.7 L265.0 912.7 L268.0 912.7 L271.0 912.7 L274.0 912.7 L277.0 912.7 L280.0 912.7 L283.0 912.7 L286.0 912.8 L289.0 912.8 L292.0 912.8 L295.0 912.8 L298.0 912.8 L301.0 912.8 L304.0 912.8 L307.0 912.8 L310.0 912.8 L313.0 912.9 L316.0 912.9 L319.0 912.9 L322.0 912.9 L325.0 912.9 L328.0 912.9 L331.0 912.9 L334.0 912.9 L337.0 913.0 L340.0 913.0 L343.0 913.0 L346.0 913.0 L349.0 913.0 L352.0 913.0 L355.0 913.1 L358.0 913.1 L361.0 913.1 L364.0 913.1 L367.0 913.1 L370.0 913.2 L373.0 913.2 L376.0 913.2 L379.0 913.2 L382.0 913.2 L385.0 913.3 L388.0 913.3 L391.0 913.3 L394.0 913.3 L397.0 913.4 L400.0 913.4 L403.0 913.4 L406.0 913.4 L409.0 913.5 L412.0 913.5 L415.0 913.5 L418.0 913.6 L421.0 913.6 L424.0 913.6 L427.0 913.6 L430.0 913.7 L433.0 913.7 L436.0 913.7 L439.0 913.8 L442.0 913.8 L445.0 913.8 L448.0 913.9 L451.0 913.9 L454.0 913.9 L457.0 914.0 L460.0 914.0 L463.0 914.1 L466.0 914.1 L469.0 914.1 L472.0 914.2 L475.0 914.2 L478.0 914.3 L481.0 914.3 L484.0 914.4 L487.0 914.4 L490.0 914.4 L493.0 914.5 L496.0 914.5 L499.0 914.6 L502.0 914.6 L505.0 914.7 L508.0 914.7 L511.0 914.8 L514.0 914.8 L517.0 914.9 L520.0 914.9 L523.0 915.0 L526.0 915.1 L529.0 915.1 L532.0 915.2 L535.0 915.2 L538.0 915.3 L541.0 915.3 L544.0 915.4 L547.0 915.5 L550.0 915.5 L553.0 915.6 L556.0 915.7 L559.0 915.7 L562.0 915.8 L565.0 915.9 L568.0 915.9 L571.0 916.0 L574.0 916.1 L577.0 916.1 L580.0 916.2 L583.0 916.3 L586.0 916.4 L589.0 916.4 L592.0 916.5 L595.0 916.6 L598.0 916.7 L601.0 916.7 L604.0 916.8 L607.0 916.9 L610.0 917.0 L613.0 917.1 L616.0 917.2 L619.0 917.2 L622.0 917.3 L625.0 917.4 L628.0 917.5 L631.0 917.6 L634.0 917.7 L637.0 917.8 L640.0 917.9 L643.0 918.0 L646.0 918.1 L649.0 918.2 L652.0 918.3 L655.0 918.4 L658.0 918.5 L661.0 918.6 L664.0 918.7 L667.0 918.8 L670.0 918.9 L673.0 919.0 L676.0 919.1 L679.0 919.2 L682.0 919.3 L685.0 919.4 L688.0 919.5 L691.0 919.6 L694.0 919.8 L697.0 919.9 L700.0 920.0 L703.0 920.1 L706.0 920.2 L709.0 920.3 L712.0 920.5 L715.0 920.6 L718.0 920.7 L721.0 920.8 L724.0 920.9 L727.0 921.1 L730.0 921.2 L733.0 921.3 L736.0 921.4 L739.0 921.6 L742.0 921.7 L745.0 921.8 L748.0 922.0 L751.0 922.1 L754.0 922.2 L757.0 922.4 L760.0 922.5 L763.0 922.6 L766.0 922.8 L769.0 922.9 L772.0 923.0 L775.0 923.2 L778.0 923.3 L781.0 923.4 L784.0 923.6 L787.0 923.7 L790.0 923.8 L793.0 924.0 L796.0 924.1 L799.0 924.3 L802.0 924.4 L805.0 924.5 L808.0 924.7 L811.0 924.8 L814.0 925.0 L817.0 925.1 L820.0 925.3 L823.0 925.4 L826.0 925.6 L829.0 925.7 L832.0 925.8 L835.0 926.0 L838.0 926.1 L841.0 926.3 L844.0 926.4 L847.0 926.6 L850.0 926.7 L853.0 926.9 L856.0 927.0 L859.0 927.2 L862.0 927.3 L865.0 927.5 L868.0 927.6 L871.0 927.8 L874.0 927.9 L877.0 928.1 L880.0 928.2 L883.0 928.4 L886.0 928.5 L889.0 928.7 L892.0 928.8 L895.0 929.0 L898.0 929.1 L901.0 929.3 L904.0 929.4 L907.0 929.6 L910.0 929.7 L913.0 929.9 L916.0 930.0 L919.0 930.2 L922.0 930.4 L925.0 930.5 L928.0 930.7 L931.0 930.8 L934.0 931.0 L937.0 931.1 L940.0 931.3 L943.0 931.4 L946.0 931.6 L949.0 931.7 L952.0 931.9 L955.0 932.0 L958.0 932.2 L961.0 932.3 L964.0 932.5 L967.0 932.6 L970.0 932.8 L973.0 932.9 L976.0 933.1 L979.0 933.2 L982.0 933.4 L985.0 933.5 L988.0 933.7 L991.0 933.8 L994.0 934.0 L997.0 934.1 L1000.0 934.3 L1003.0 934.4 L1006.0 934.6 L1009.0 934.7 L1012.0 934.9 L1015.0 935.0 L1018.0 935.2 L1021.0 935.3 L1024.0 935.5 L1027.0 935.6 L1030.0 935.8 L1033.0 935.9 L1036.0 936.1 L1039.0 936.2 L1042.0 936.4 L1045.0 936.5 L1048.0 936.6 L1051.0 936.8 L1054.0 936.9 L1057.0 937.1 L1060.0 937.2 L1063.0 937.4 L1066.0 937.5 L1069.0 937.7 L1072.0 937.8 L1075.0 937.9 L1078.0 938.1 L1081.0 938.2 L1084.0 938.4 L1087.0 938.5 L1090.0 938.6 L1093.0 938.8 L1096.0 938.9 L1099.0 939.0 L1102.0 939.2 L1105.0 939.3 L1108.0 939.5 L1111.0 939.6 L1114.0 939.7 L1117.0 939.9 L1120.0 940.0 L1123.0 940.1 L1126.0 940.3 L1129.0 940.4 L1132.0 940.5 L1135.0 940.6 L1138.0 940.8 L1141.0 940.9 L1144.0 941.0 L1147.0 941.2 L1150.0 941.3 L1153.0 941.4 L1156.0 941.5 L1159.0 941.7 L1162.0 941.8 L1165.0 941.9 L1168.0 942.0 L1171.0 942.2 L1174.0 942.3 L1177.0 942.4 L1180.0 942.5 L1183.0 942.6 L1186.0 942.8 L1189.0 942.9 L1192.0 943.0 L1195.0 943.1 L1198.0 943.2 L1201.0 943.3 L1204.0 943.5 L1207.0 943.6 L1210.0 943.7 L1213.0 943.8 L1216.0 943.9 L1219.0 944.0 L1222.0 944.1 L1225.0 944.2 L1228.0 944.3 L1231.0 944.4 L1234.0 944.6 L1237.0 944.7 L1240.0 944.8 L1243.0 944.9 L1246.0 945.0 L1249.0 945.1 L1252.0 945.2 L1255.0 945.3 L1258.0 945.4 L1261.0 945.5 L1264.0 945.6 L1267.0 945.7 L1270.0 945.8 L1273.0 945.9 L1276.0 945.9 L1279.0 946.0 L1282.0 946.1 L1285.0 946.2 L1288.0 946.3 L1291.0 946.4 L1294.0 946.5 L1297.0 946.6 L1300.0 946.7 L1303.0 946.7 L1306.0 946.8 L1309.0 946.9 L1312.0 947.0 L1315.0 947.1 L1318.0 947.1 L1321.0 947.2 L1324.0 947.3 L1327.0 947.4 L1330.0 947.4 L1333.0 947.5 L1336.0 947.6 L1339.0 947.7 L1342.0 947.7 L1345.0 947.8 L1348.0 947.9 L1351.0 947.9 L1354.0 948.0 L1357.0 948.1 L1360.0 948.1 L1363.0 948.2 L1366.0 948.2 L1369.0 948.3 L1372.0 948.4 L1375.0 948.4 L1378.0 948.5 L1381.0 948.5 L1384.0 948.6 L1387.0 948.6 L1390.0 948.7 L1393.0 948.7 L1396.0 948.8 L1399.0 948.8 L1402.0 948.9 L1405.0 948.9 L1408.0 949.0 L1411.0 949.0 L1414.0 949.1 L1417.0 949.1 L1420.0 949.2 L1423.0 949.2 L1426.0 949.3 L1429.0 949.3 L1432.0 949.3 L1435.0 949.4 L1438.0 949.4 L1441.0 949.5 L1444.0 949.5 L1447.0 949.5 L1450.0 949.6 L1453.0 949.6 L1456.0 949.6 L1459.0 949.7 L1462.0 949.7 L1465.0 949.7 L1468.0 949.7 L1471.0 949.8 L1474.0 949.8 L1477.0 949.8 L1480.0 949.9 L1483.0 949.9 L1486.0 949.9 L1489.0 949.9 L1492.0 950.0 L1495.0 950.0 L1498.0 950.0 L1501.0 950.0 L1504.0 950.0 L1507.0 950.1 L1510.0 950.1 L1513.0 950.1 L1516.0 950.1 L1519.0 950.1 L1522.0 950.2 L1525.0 950.2 L1528.0 950.2 L1531.0 950.2 L1534.0 950.2 L1537.0 950.2 L1540.0 950.3 L1543.0 950.3 L1546.0 950.3 L1549.0 950.3 L1552.0 950.3 L1555.0 950.3 L1558.0 950.3 L1561.0 950.3 L1564.0 950.3 L1567.0 950.4 L1570.0 950.4 L1573.0 950.4 L1576.0 950.4 L1579.0 950.4 L1582.0 950.4 L1585.0 950.4 L1588.0 950.4 L1591.0 950.4 L1594.0 950.4 L1597.0 950.4 L1600.0 950.4 L1603.0 950.4 L1606.0 950.4 L1609.0 950.4 L1612.0 950.4 L1615.0 950.4 L1618.0 950.4 L1621.0 950.4 L1624.0 950.4 L1627.0 950.4 L1630.0 950.4 L1633.0 950.4 L1636.0 950.4 L1639.0 950.4 L1642.0 950.4 L1645.0 950.4 L1648.0 950.4 L1651.0 950.4 L1654.0 950.4 L1657.0 950.4 L1660.0 950.4 L1663.0 950.4 L1666.0 950.4 L1669.0 950.4 L1672.0 950.4 L1675.0 950.4 L1678.0 950.4 L1681.0 950.4 L1684.0 950.4 L1687.0 950.4 L1690.0 950.4 L1693.0 950.4 L1696.0 950.4 L1699.0 950.4 L1702.0 950.4 L1705.0 950.4 L1708.0 950.4 L1711.0 950.4 L1714.0 950.4 L1717.0 950.4 L1720.0 950.4 L1723.0 950.4 L1726.0 950.4 L1729.0 950.3 L1732.0 950.3 L1735.0 950.3 L1738.0 950.3 L1741.0 950.3 L1744.0 950.3 L1747.0 950.3 L1750.0 950.3 L1753.0 950.3 L1756.0 950.3 L1759.0 950.3 L1762.0 950.3 L1765.0 950.3 L1768.0 950.3 L1771.0 950.3 L1774.0 950.3 L1777.0 950.3 L1780.0 950.3 L1783.0 950.3 L1786.0 950.3 L1789.0 950.3 L1792.8 950.2" stroke="#1EC8C8" stroke-width="1.7" fill="none"/>
<path d="M142.0 909.8 L145.0 909.7 L148.0 909.7 L151.0 909.7 L154.0 909.7 L157.0 909.7 L160.0 909.6 L163.0 909.6 L166.0 909.6 L169.0 909.6 L172.0 909.5 L175.0 909.5 L178.0 909.5 L181.0 909.4 L184.0 909.4 L187.0 909.4 L190.0 909.3 L193.0 909.3 L196.0 909.2 L199.0 909.2 L202.0 909.1 L205.0 909.1 L208.0 909.0 L211.0 909.0 L214.0 908.9 L217.0 908.9 L220.0 908.8 L223.0 908.7 L226.0 908.7 L229.0 908.6 L232.0 908.6 L235.0 908.5 L238.0 908.4 L241.0 908.3 L244.0 908.3 L247.0 908.2 L250.0 908.1 L253.0 908.1 L256.0 908.0 L259.0 907.9 L262.0 907.8 L265.0 907.7 L268.0 907.7 L271.0 907.6 L274.0 907.5 L277.0 907.4 L280.0 907.3 L283.0 907.2 L286.0 907.1 L289.0 907.0 L292.0 907.0 L295.0 906.9 L298.0 906.8 L301.0 906.7 L304.0 906.6 L307.0 906.5 L310.0 906.4 L313.0 906.3 L316.0 906.2 L319.0 906.1 L322.0 906.0 L325.0 905.8 L328.0 905.7 L331.0 905.6 L334.0 905.5 L337.0 905.4 L340.0 905.3 L343.0 905.2 L346.0 905.1 L349.0 905.0 L352.0 904.8 L355.0 904.7 L358.0 904.6 L361.0 904.5 L364.0 904.4 L367.0 904.2 L370.0 904.1 L373.0 904.0 L376.0 903.9 L379.0 903.7 L382.0 903.6 L385.0 903.5 L388.0 903.4 L391.0 903.2 L394.0 903.1 L397.0 903.0 L400.0 902.8 L403.0 902.7 L406.0 902.6 L409.0 902.4 L412.0 902.3 L415.0 902.2 L418.0 902.0 L421.0 901.9 L424.0 901.8 L427.0 901.6 L430.0 901.5 L433.0 901.4 L436.0 901.2 L439.0 901.1 L442.0 900.9 L445.0 900.8 L448.0 900.6 L451.0 900.5 L454.0 900.4 L457.0 900.2 L460.0 900.1 L463.0 899.9 L466.0 899.8 L469.0 899.6 L472.0 899.5 L475.0 899.3 L478.0 899.2 L481.0 899.0 L484.0 898.9 L487.0 898.7 L490.0 898.6 L493.0 898.4 L496.0 898.3 L499.0 898.1 L502.0 898.0 L505.0 897.8 L508.0 897.7 L511.0 897.5 L514.0 897.4 L517.0 897.2 L520.0 897.1 L523.0 896.9 L526.0 896.8 L529.0 896.6 L532.0 896.5 L535.0 896.3 L538.0 896.2 L541.0 896.0 L544.0 895.9 L547.0 895.7 L550.0 895.5 L553.0 895.4 L556.0 895.2 L559.0 895.1 L562.0 894.9 L565.0 894.8 L568.0 894.6 L571.0 894.5 L574.0 894.3 L577.0 894.1 L580.0 894.0 L583.0 893.8 L586.0 893.7 L589.0 893.5 L592.0 893.3 L595.0 893.2 L598.0 893.0 L601.0 892.9 L604.0 892.7 L607.0 892.5 L610.0 892.4 L613.0 892.2 L616.0 892.0 L619.0 891.9 L622.0 891.7 L625.0 891.5 L628.0 891.4 L631.0 891.2 L634.0 891.0 L637.0 890.8 L640.0 890.6 L643.0 890.5 L646.0 890.3 L649.0 890.1 L652.0 889.9 L655.0 889.7 L658.0 889.5 L661.0 889.3 L664.0 889.1 L667.0 888.9 L670.0 888.7 L673.0 888.5 L676.0 888.3 L679.0 888.1 L682.0 887.9 L685.0 887.6 L688.0 887.4 L691.0 887.2 L694.0 887.0 L697.0 886.7 L700.0 886.5 L703.0 886.3 L706.0 886.0 L709.0 885.8 L712.0 885.5 L715.0 885.3 L718.0 885.0 L721.0 884.8 L724.0 884.5 L727.0 884.2 L730.0 883.9 L733.0 883.7 L736.0 883.4 L739.0 883.1 L742.0 882.8 L745.0 882.5 L748.0 882.2 L751.0 881.9 L754.0 881.6 L757.0 881.3 L760.0 881.0 L763.0 880.6 L766.0 880.3 L769.0 880.0 L772.0 879.6 L775.0 879.3 L778.0 879.0 L781.0 878.6 L784.0 878.2 L787.0 877.9 L790.0 877.5 L793.0 877.1 L796.0 876.7 L799.0 876.3 L802.0 876.0 L805.0 875.6 L808.0 875.1 L811.0 874.7 L814.0 874.3 L817.0 873.9 L820.0 873.5 L823.0 873.0 L826.0 872.6 L829.0 872.1 L832.0 871.7 L835.0 871.2 L838.0 870.8 L841.0 870.3 L844.0 869.9 L847.0 869.4 L850.0 869.0 L853.0 868.5 L856.0 868.1 L859.0 867.6 L862.0 867.2 L865.0 866.7 L868.0 866.3 L871.0 865.9 L874.0 865.4 L877.0 865.0 L880.0 864.6 L883.0 864.2 L886.0 863.8 L889.0 863.4 L892.0 863.0 L895.0 862.6 L898.0 862.3 L901.0 861.9 L904.0 861.6 L907.0 861.2 L910.0 860.9 L913.0 860.6 L916.0 860.3 L919.0 860.1 L922.0 859.8 L925.0 859.5 L928.0 859.3 L931.0 859.1 L934.0 858.9 L937.0 858.7 L940.0 858.6 L943.0 858.4 L946.0 858.3 L949.0 858.2 L952.0 858.1 L955.0 858.1 L958.0 858.0 L961.0 858.0 L964.0 858.0 L967.0 858.0 L970.0 858.1 L973.0 858.2 L976.0 858.3 L979.0 858.4 L982.0 858.6 L985.0 858.8 L988.0 859.0 L991.0 859.2 L994.0 859.5 L997.0 859.8 L1000.0 860.1 L1003.0 860.5 L1006.0 860.9 L1009.0 861.3 L1012.0 861.8 L1015.0 862.3 L1018.0 862.8 L1021.0 863.4 L1024.0 864.0 L1027.0 864.6 L1030.0 865.2 L1033.0 865.9 L1036.0 866.6 L1039.0 867.3 L1042.0 868.1 L1045.0 868.8 L1048.0 869.6 L1051.0 870.4 L1054.0 871.3 L1057.0 872.1 L1060.0 872.9 L1063.0 873.8 L1066.0 874.7 L1069.0 875.6 L1072.0 876.5 L1075.0 877.4 L1078.0 878.4 L1081.0 879.3 L1084.0 880.2 L1087.0 881.2 L1090.0 882.1 L1093.0 883.1 L1096.0 884.0 L1099.0 885.0 L1102.0 886.0 L1105.0 886.9 L1108.0 887.9 L1111.0 888.9 L1114.0 889.8 L1117.0 890.8 L1120.0 891.8 L1123.0 892.8 L1126.0 893.7 L1129.0 894.7 L1132.0 895.7 L1135.0 896.7 L1138.0 897.6 L1141.0 898.6 L1144.0 899.5 L1147.0 900.5 L1150.0 901.5 L1153.0 902.4 L1156.0 903.3 L1159.0 904.3 L1162.0 905.2 L1165.0 906.1 L1168.0 907.0 L1171.0 907.9 L1174.0 908.8 L1177.0 909.7 L1180.0 910.6 L1183.0 911.5 L1186.0 912.4 L1189.0 913.2 L1192.0 914.1 L1195.0 914.9 L1198.0 915.8 L1201.0 916.6 L1204.0 917.4 L1207.0 918.2 L1210.0 919.0 L1213.0 919.8 L1216.0 920.6 L1219.0 921.4 L1222.0 922.1 L1225.0 922.9 L1228.0 923.6 L1231.0 924.4 L1234.0 925.1 L1237.0 925.8 L1240.0 926.5 L1243.0 927.2 L1246.0 927.8 L1249.0 928.5 L1252.0 929.1 L1255.0 929.8 L1258.0 930.4 L1261.0 931.0 L1264.0 931.5 L1267.0 932.1 L1270.0 932.7 L1273.0 933.2 L1276.0 933.7 L1279.0 934.2 L1282.0 934.7 L1285.0 935.2 L1288.0 935.6 L1291.0 936.1 L1294.0 936.5 L1297.0 936.9 L1300.0 937.3 L1303.0 937.7 L1306.0 938.1 L1309.0 938.4 L1312.0 938.8 L1315.0 939.1 L1318.0 939.5 L1321.0 939.8 L1324.0 940.1 L1327.0 940.4 L1330.0 940.7 L1333.0 940.9 L1336.0 941.2 L1339.0 941.5 L1342.0 941.7 L1345.0 941.9 L1348.0 942.2 L1351.0 942.4 L1354.0 942.6 L1357.0 942.8 L1360.0 943.0 L1363.0 943.2 L1366.0 943.4 L1369.0 943.6 L1372.0 943.7 L1375.0 943.9 L1378.0 944.0 L1381.0 944.2 L1384.0 944.3 L1387.0 944.5 L1390.0 944.6 L1393.0 944.8 L1396.0 944.9 L1399.0 945.0 L1402.0 945.2 L1405.0 945.3 L1408.0 945.4 L1411.0 945.5 L1414.0 945.6 L1417.0 945.8 L1420.0 945.9 L1423.0 946.0 L1426.0 946.1 L1429.0 946.2 L1432.0 946.3 L1435.0 946.4 L1438.0 946.5 L1441.0 946.6 L1444.0 946.7 L1447.0 946.8 L1450.0 946.9 L1453.0 947.0 L1456.0 947.1 L1459.0 947.2 L1462.0 947.3 L1465.0 947.4 L1468.0 947.5 L1471.0 947.5 L1474.0 947.6 L1477.0 947.7 L1480.0 947.8 L1483.0 947.9 L1486.0 947.9 L1489.0 948.0 L1492.0 948.1 L1495.0 948.2 L1498.0 948.2 L1501.0 948.3 L1504.0 948.4 L1507.0 948.4 L1510.0 948.5 L1513.0 948.6 L1516.0 948.6 L1519.0 948.7 L1522.0 948.8 L1525.0 948.8 L1528.0 948.9 L1531.0 948.9 L1534.0 949.0 L1537.0 949.0 L1540.0 949.1 L1543.0 949.1 L1546.0 949.2 L1549.0 949.2 L1552.0 949.3 L1555.0 949.3 L1558.0 949.4 L1561.0 949.4 L1564.0 949.5 L1567.0 949.5 L1570.0 949.6 L1573.0 949.6 L1576.0 949.6 L1579.0 949.7 L1582.0 949.7 L1585.0 949.7 L1588.0 949.8 L1591.0 949.8 L1594.0 949.8 L1597.0 949.9 L1600.0 949.9 L1603.0 949.9 L1606.0 950.0 L1609.0 950.0 L1612.0 950.0 L1615.0 950.0 L1618.0 950.1 L1621.0 950.1 L1624.0 950.1 L1627.0 950.1 L1630.0 950.2 L1633.0 950.2 L1636.0 950.2 L1639.0 950.2 L1642.0 950.2 L1645.0 950.3 L1648.0 950.3 L1651.0 950.3 L1654.0 950.3 L1657.0 950.3 L1660.0 950.3 L1663.0 950.3 L1666.0 950.3 L1669.0 950.4 L1672.0 950.4 L1675.0 950.4 L1678.0 950.4 L1681.0 950.4 L1684.0 950.4 L1687.0 950.4 L1690.0 950.4 L1693.0 950.4 L1696.0 950.4 L1699.0 950.4 L1702.0 950.4 L1705.0 950.4 L1708.0 950.5 L1711.0 950.5 L1714.0 950.5 L1717.0 950.5 L1720.0 950.5 L1723.0 950.5 L1726.0 950.5 L1729.0 950.5 L1732.0 950.5 L1735.0 950.5 L1738.0 950.5 L1741.0 950.5 L1744.0 950.5 L1747.0 950.5 L1750.0 950.5 L1753.0 950.5 L1756.0 950.5 L1759.0 950.5 L1762.0 950.4 L1765.0 950.4 L1768.0 950.4 L1771.0 950.4 L1774.0 950.4 L1777.0 950.4 L1780.0 950.4 L1783.0 950.4 L1786.0 950.4 L1789.0 950.4 L1792.8 950.4" stroke="#7A4A4A" stroke-width="12.4" fill="none"/>
<path d="M164.5 903.6l0.0 12.0M187.8 903.2l0.0 12.0M211.2 902.7l0.0 12.0M234.5 902.2l0.0 12.0M257.8 901.6l0.0 12.0M281.0 900.9l0.0 12.0M304.2 900.2l0.0 12.0M327.5 899.4l0.0 12.0M350.8 898.5l0.0 12.0M374.0 897.6l0.0 12.0M397.2 896.6l0.0 12.0M420.5 895.6l0.0 12.0M443.8 894.5l0.0 12.0M467.0 893.5l0.0 12.0M490.2 892.4l0.0 12.0M513.5 891.3l0.0 12.0M536.8 890.3l0.0 12.0M560.0 889.3l0.0 12.0M583.2 888.4l0.0 12.0M606.5 887.7l0.0 12.0M629.8 887.1l0.0 12.0M653.2 886.7l0.0 12.0M676.5 886.6l0.0 12.0M699.8 886.7l0.0 12.0M723.0 887.1l0.0 12.0M746.2 887.8l0.0 12.0M769.5 888.8l0.0 12.0M792.8 890.1l0.0 12.0M816.0 891.7l0.0 12.0M839.2 893.5l0.0 12.0M862.5 895.5l0.0 12.0M885.5 897.7l0.0 12.0M908.8 900.1l0.0 12.0M931.8 902.6l0.0 12.0M955.0 905.2l0.0 12.0M978.2 907.8l0.0 12.0M1001.2 910.4l0.0 12.0M1024.5 913.0l0.0 12.0M1047.5 915.5l0.0 12.0M1070.8 918.0l0.0 12.0M1093.8 920.4l0.0 12.0M1117.0 922.7l0.0 12.0M1140.2 924.9l0.0 12.0M1163.2 927.0l0.0 12.0M1186.5 929.0l0.0 12.0M1209.8 930.8l0.0 12.0M1233.0 932.5l0.0 12.0M1256.2 934.0l0.0 12.0M1279.5 935.4l0.0 12.0M1302.8 936.7l0.0 12.0M1326.0 937.8l0.0 12.0M1349.2 938.8l0.0 12.0M1372.5 939.7l0.0 12.0M1395.8 940.4l0.0 12.0M1419.0 941.1l0.0 12.0M1442.2 941.6l0.0 12.0M1465.5 942.1l0.0 12.0M1488.8 942.4l0.0 12.0M1512.2 942.8l0.0 12.0M1535.5 943.0l0.0 12.0M1558.8 943.2l0.0 12.0M1582.0 943.4l0.0 12.0M1605.2 943.5l0.0 12.0M1628.5 943.6l0.0 12.0M1651.8 943.6l0.0 12.0M1675.0 943.7l0.0 12.0M1698.2 943.7l0.0 12.0M1721.8 943.7l0.0 12.0M1745.0 943.7l0.0 12.0M1768.2 943.7l0.0 12.0M1791.5 943.7l0.0 12.0" stroke="#8C8C00" stroke-width="1.7" fill="none"/>
<path d="M164.5 906.4l0.0 12.0M187.8 906.4l0.0 12.0M211.2 906.5l0.0 12.0M234.5 906.5l0.0 12.0M257.8 906.5l0.0 12.0M281.0 906.6l0.0 12.0M304.2 906.6l0.0 12.0M327.5 906.7l0.0 12.0M350.8 906.8l0.0 12.0M374.0 907.0l0.0 12.0M397.5 907.1l0.0 12.0M420.8 907.3l0.0 12.0M444.0 907.6l0.0 12.0M467.2 907.8l0.0 12.0M490.5 908.1l0.0 12.0M513.8 908.4l0.0 12.0M537.0 908.7l0.0 12.0M560.2 909.0l0.0 12.0M583.5 909.3l0.0 12.0M607.0 909.5l0.0 12.0M630.2 909.5l0.0 12.0M653.5 909.4l0.0 12.0M676.8 909.0l0.0 12.0M700.0 908.2l0.0 12.0M723.2 906.9l0.0 12.0M746.5 905.0l0.0 12.0M769.5 902.5l0.0 12.0M792.8 899.4l0.0 12.0M815.8 895.7l0.0 12.0M838.5 891.6l0.0 12.0M861.5 887.2l0.0 12.0M884.2 882.9l0.0 12.0M907.2 878.8l0.0 12.0M930.2 875.4l0.0 12.0M953.5 873.0l0.0 12.0M976.8 871.9l0.0 12.0M1000.0 872.4l0.0 12.0M1023.0 874.4l0.0 12.0M1046.0 877.9l0.0 12.0M1064.8 892.9l8.5 -8.5M1091.5 888.3l0.0 12.0M1114.0 894.4l0.0 12.0M1136.2 900.8l0.0 12.0M1154.5 917.4l8.5 -8.5M1181.2 913.2l0.0 12.0M1203.8 918.8l0.0 12.0M1226.5 923.7l0.0 12.0M1245.3 938.3l8.5 -8.5M1272.5 931.6l0.0 12.0M1295.5 934.6l0.0 12.0M1318.8 936.9l0.0 12.0M1342.0 938.8l0.0 12.0M1365.2 940.2l0.0 12.0M1388.5 941.2l0.0 12.0M1411.8 942.0l0.0 12.0M1435.0 942.6l0.0 12.0M1458.2 943.1l0.0 12.0M1481.5 943.4l0.0 12.0M1504.8 943.7l0.0 12.0M1528.0 943.9l0.0 12.0M1551.2 944.0l0.0 12.0M1574.5 944.1l0.0 12.0M1597.8 944.2l0.0 12.0M1621.2 944.2l0.0 12.0M1644.5 944.3l0.0 12.0M1667.8 944.3l0.0 12.0M1691.0 944.2l0.0 12.0M1714.2 944.2l0.0 12.0M1737.5 944.2l0.0 12.0M1760.8 944.2l0.0 12.0M1784.0 944.1l0.0 12.0" stroke="#FF6A1A" stroke-width="1.7" fill="none"/>
<path d="M142.0 1104.7 L145.0 1104.2 L148.0 1104.3 L151.0 1104.8 L154.0 1105.3 L157.0 1105.7 L160.0 1106.7 L163.0 1108.3 L166.0 1110.3 L169.0 1112.2 L172.0 1113.1 L175.0 1113.0 L178.0 1112.0 L181.0 1110.8 L184.0 1109.7 L187.0 1108.8 L190.0 1108.2 L193.0 1107.9 L196.0 1107.8 L199.0 1107.6 L202.0 1107.1 L205.0 1106.4 L208.0 1105.5 L211.0 1104.8 L214.0 1104.2 L217.0 1103.8 L220.0 1103.3 L223.0 1103.2 L226.0 1103.6 L229.0 1104.5 L232.0 1105.9 L235.0 1107.2 L238.0 1108.7 L241.0 1109.9 L244.0 1110.6 L247.0 1110.2 L250.0 1108.9 L253.0 1107.3 L256.0 1106.0 L259.0 1105.2 L262.0 1104.7 L265.0 1104.5 L268.0 1104.3 L271.0 1103.9 L274.0 1103.7 L277.0 1103.8 L280.0 1104.0 L283.0 1104.0 L286.0 1103.4 L289.0 1102.6 L292.0 1101.9 L295.0 1101.6 L298.0 1102.0 L301.0 1102.8 L304.0 1103.7 L307.0 1104.7 L310.0 1105.4 L313.0 1105.7 L316.0 1105.4 L319.0 1104.5 L322.0 1103.6 L325.0 1103.3 L328.0 1104.3 L331.0 1106.4 L334.0 1108.5 L337.0 1109.7 L340.0 1109.5 L343.0 1108.2 L346.0 1106.9 L349.0 1106.3 L352.0 1106.1 L355.0 1105.9 L358.0 1105.2 L361.0 1104.5 L364.0 1104.1 L367.0 1104.2 L370.0 1104.2 L373.0 1103.9 L376.0 1102.9 L379.0 1101.4 L382.0 1099.6 L385.0 1098.2 L388.0 1097.4 L391.0 1097.2 L394.0 1097.4 L397.0 1097.9 L400.0 1098.6 L403.0 1099.0 L406.0 1098.7 L409.0 1097.8 L412.0 1097.0 L415.0 1096.8 L418.0 1097.7 L421.0 1099.5 L424.0 1101.7 L427.0 1103.5 L430.0 1104.6 L433.0 1104.6 L436.0 1103.9 L439.0 1103.1 L442.0 1102.6 L445.0 1102.2 L448.0 1102.0 L451.0 1101.9 L454.0 1101.9 L457.0 1101.6 L460.0 1100.9 L463.0 1099.6 L466.0 1098.6 L469.0 1098.1 L472.0 1097.9 L475.0 1097.3 L478.0 1095.9 L481.0 1093.9 L484.0 1091.6 L487.0 1089.9 L490.0 1089.4 L493.0 1090.5 L496.0 1092.5 L499.0 1094.4 L502.0 1095.5 L505.0 1095.3 L508.0 1094.2 L511.0 1092.8 L514.0 1091.6 L517.0 1091.1 L520.0 1091.2 L523.0 1091.6 L526.0 1092.2 L529.0 1092.7 L532.0 1093.3 L535.0 1093.9 L538.0 1094.2 L541.0 1094.1 L544.0 1094.1 L547.0 1094.5 L550.0 1095.0 L553.0 1095.1 L556.0 1094.6 L559.0 1093.7 L562.0 1092.8 L565.0 1092.5 L568.0 1093.1 L571.0 1094.4 L574.0 1095.9 L577.0 1097.0 L580.0 1097.3 L583.0 1096.8 L586.0 1095.5 L589.0 1093.7 L592.0 1091.8 L595.0 1090.6 L598.0 1090.2 L601.0 1090.3 L604.0 1090.7 L607.0 1091.2 L610.0 1091.8 L613.0 1092.3 L616.0 1093.1 L619.0 1094.2 L622.0 1095.7 L625.0 1096.9 L628.0 1097.5 L631.0 1097.4 L634.0 1096.7 L637.0 1095.7 L640.0 1094.6 L643.0 1093.8 L646.0 1093.6 L649.0 1093.6 L652.0 1093.5 L655.0 1092.9 L658.0 1091.9 L661.0 1090.7 L664.0 1089.8 L667.0 1089.4 L670.0 1089.4 L673.0 1089.9 L676.0 1090.4 L679.0 1090.8 L682.0 1090.8 L685.0 1090.7 L688.0 1090.7 L691.0 1090.9 L694.0 1091.1 L697.0 1091.1 L700.0 1091.0 L703.0 1090.8 L706.0 1090.6 L709.0 1090.3 L712.0 1089.5 L715.0 1088.6 L718.0 1087.7 L721.0 1087.4 L724.0 1087.8 L727.0 1089.2 L730.0 1091.0 L733.0 1092.5 L736.0 1093.2 L739.0 1093.1 L742.0 1092.5 L745.0 1092.1 L748.0 1091.7 L751.0 1091.4 L754.0 1090.9 L757.0 1090.3 L760.0 1089.6 L763.0 1088.5 L766.0 1086.9 L769.0 1085.0 L772.0 1083.3 L775.0 1082.0 L778.0 1081.2 L781.0 1080.9 L784.0 1081.2 L787.0 1082.3 L790.0 1083.9 L793.0 1085.6 L796.0 1087.1 L799.0 1088.2 L802.0 1088.5 L805.0 1087.4 L808.0 1084.6 L811.0 1080.5 L814.0 1076.6 L817.0 1074.2 L820.0 1073.9 L823.0 1074.8 L826.0 1075.7 L829.0 1075.6 L832.0 1074.3 L835.0 1072.1 L838.0 1069.5 L841.0 1067.4 L844.0 1066.3 L847.0 1065.9 L850.0 1065.8 L853.0 1065.6 L856.0 1065.5 L859.0 1065.6 L862.0 1065.7 L865.0 1065.3 L868.0 1063.8 L871.0 1061.3 L874.0 1058.3 L877.0 1056.0 L880.0 1054.9 L883.0 1054.6 L886.0 1054.2 L889.0 1053.2 L892.0 1051.8 L895.0 1050.3 L898.0 1049.3 L901.0 1048.9 L904.0 1048.6 L907.0 1047.7 L910.0 1046.1 L913.0 1044.1 L916.0 1042.6 L919.0 1042.1 L922.0 1042.3 L925.0 1042.3 L928.0 1041.8 L931.0 1041.0 L934.0 1040.6 L937.0 1041.2 L940.0 1042.3 L943.0 1043.1 L946.0 1043.0 L949.0 1041.8 L952.0 1040.1 L955.0 1038.3 L958.0 1036.7 L961.0 1035.9 L964.0 1036.1 L967.0 1037.5 L970.0 1039.4 L973.0 1041.3 L976.0 1042.7 L979.0 1043.4 L982.0 1043.5 L985.0 1043.5 L988.0 1043.8 L991.0 1044.5 L994.0 1044.9 L997.0 1044.8 L1000.0 1044.2 L1003.0 1043.7 L1006.0 1044.1 L1009.0 1045.9 L1012.0 1048.7 L1015.0 1051.8 L1018.0 1054.3 L1021.0 1056.0 L1024.0 1056.8 L1027.0 1057.0 L1030.0 1056.6 L1033.0 1056.0 L1036.0 1055.8 L1039.0 1056.6 L1042.0 1058.3 L1045.0 1060.8 L1048.0 1063.4 L1051.0 1065.5 L1054.0 1066.8 L1057.0 1067.5 L1060.0 1068.1 L1063.0 1069.2 L1066.0 1071.3 L1069.0 1074.2 L1072.0 1077.2 L1075.0 1079.7 L1078.0 1081.1 L1081.0 1081.3 L1084.0 1081.3 L1087.0 1081.8 L1090.0 1083.6 L1093.0 1086.7 L1096.0 1090.4 L1099.0 1094.1 L1102.0 1097.2 L1105.0 1099.4 L1108.0 1100.8 L1111.0 1101.9 L1114.0 1103.1 L1117.0 1104.6 L1120.0 1106.3 L1123.0 1108.3 L1126.0 1110.2 L1129.0 1111.3 L1132.0 1111.5 L1135.0 1111.2 L1138.0 1111.6 L1141.0 1113.2 L1144.0 1116.2 L1147.0 1119.8 L1150.0 1123.3 L1153.0 1126.0 L1156.0 1127.5 L1159.0 1128.0 L1162.0 1128.3 L1165.0 1128.8 L1168.0 1129.6 L1171.0 1130.9 L1174.0 1132.5 L1177.0 1134.2 L1180.0 1135.8 L1183.0 1137.2 L1186.0 1138.4 L1189.0 1139.5 L1192.0 1140.4 L1195.0 1140.9 L1198.0 1140.9 L1201.0 1140.1 L1204.0 1138.8 L1207.0 1137.5 L1210.0 1136.9 L1213.0 1137.1 L1216.0 1137.6 L1219.0 1138.3 L1222.0 1139.3 L1225.0 1140.6 L1228.0 1142.0 L1231.0 1142.9 L1234.0 1143.2 L1237.0 1142.9 L1240.0 1142.4 L1243.0 1142.4 L1246.0 1143.4 L1249.0 1145.3 L1252.0 1146.9 L1255.0 1147.3 L1258.0 1146.4 L1261.0 1144.7 L1264.0 1143.4 L1267.0 1142.8 L1270.0 1143.2 L1273.0 1144.3 L1276.0 1145.8 L1279.0 1147.0 L1282.0 1147.4 L1285.0 1147.0 L1288.0 1146.6 L1291.0 1147.0 L1294.0 1148.5 L1297.0 1150.5 L1300.0 1152.2 L1303.0 1153.3 L1306.0 1154.0 L1309.0 1154.2 L1312.0 1154.1 L1315.0 1153.4 L1318.0 1152.1 L1321.0 1150.5 L1324.0 1148.9 L1327.0 1148.1 L1330.0 1148.2 L1333.0 1149.2 L1336.0 1150.5 L1339.0 1151.8 L1342.0 1152.9 L1345.0 1153.7 L1348.0 1154.3 L1351.0 1155.0 L1354.0 1155.4 L1357.0 1155.0 L1360.0 1153.9 L1363.0 1152.9 L1366.0 1152.8 L1369.0 1153.6 L1372.0 1154.5 L1375.0 1155.0 L1378.0 1155.1 L1381.0 1155.2 L1384.0 1155.6 L1387.0 1155.9 L1390.0 1155.4 L1393.0 1154.1 L1396.0 1152.1 L1399.0 1150.6 L1402.0 1150.3 L1405.0 1151.4 L1408.0 1153.5 L1411.0 1155.6 L1414.0 1156.5 L1417.0 1156.3 L1420.0 1155.6 L1423.0 1155.5 L1426.0 1156.0 L1429.0 1156.5 L1432.0 1156.2 L1435.0 1154.7 L1438.0 1152.7 L1441.0 1151.1 L1444.0 1150.7 L1447.0 1151.4 L1450.0 1152.7 L1453.0 1153.8 L1456.0 1154.7 L1459.0 1155.0 L1462.0 1154.9 L1465.0 1154.3 L1468.0 1153.6 L1471.0 1153.6 L1474.0 1154.3 L1477.0 1155.4 L1480.0 1156.3 L1483.0 1156.5 L1486.0 1156.1 L1489.0 1155.6 L1492.0 1155.5 L1495.0 1155.7 L1498.0 1156.1 L1501.0 1156.5 L1504.0 1156.7 L1507.0 1156.7 L1510.0 1156.7 L1513.0 1156.9 L1516.0 1157.4 L1519.0 1157.8 L1522.0 1157.9 L1525.0 1157.4 L1528.0 1156.2 L1531.0 1154.7 L1534.0 1153.3 L1537.0 1152.5 L1540.0 1152.3 L1543.0 1152.6 L1546.0 1153.2 L1549.0 1153.9 L1552.0 1154.8 L1555.0 1155.8 L1558.0 1156.8 L1561.0 1157.8 L1564.0 1158.6 L1567.0 1159.1 L1570.0 1159.2 L1573.0 1159.2 L1576.0 1159.0 L1579.0 1158.6 L1582.0 1158.0 L1585.0 1157.3 L1588.0 1157.0 L1591.0 1157.3 L1594.0 1158.2 L1597.0 1159.1 L1600.0 1159.5 L1603.0 1159.1 L1606.0 1158.3 L1609.0 1157.4 L1612.0 1156.8 L1615.0 1156.8 L1618.0 1157.5 L1621.0 1158.7 L1624.0 1160.0 L1627.0 1160.8 L1630.0 1160.5 L1633.0 1159.3 L1636.0 1157.8 L1639.0 1156.4 L1642.0 1155.7 L1645.0 1155.8 L1648.0 1156.4 L1651.0 1157.6 L1654.0 1159.2 L1657.0 1160.6 L1660.0 1161.3 L1663.0 1161.0 L1666.0 1160.4 L1669.0 1159.9 L1672.0 1159.5 L1675.0 1158.9 L1678.0 1158.0 L1681.0 1156.9 L1684.0 1156.2 L1687.0 1156.0 L1690.0 1156.3 L1693.0 1157.1 L1696.0 1158.0 L1699.0 1158.9 L1702.0 1159.4 L1705.0 1159.2 L1708.0 1158.7 L1711.0 1158.0 L1714.0 1157.6 L1717.0 1157.4 L1720.0 1157.1 L1723.0 1156.4 L1726.0 1155.4 L1729.0 1154.3 L1732.0 1153.4 L1735.0 1152.7 L1738.0 1152.1 L1741.0 1151.6 L1744.0 1151.7 L1747.0 1152.4 L1750.0 1153.2 L1753.0 1153.6 L1756.0 1153.5 L1759.0 1153.2 L1762.0 1153.6 L1765.0 1154.7 L1768.0 1156.2 L1771.0 1157.4 L1774.0 1158.0 L1777.0 1158.2 L1780.0 1158.6 L1783.0 1159.3 L1786.0 1160.3 L1789.0 1160.8 L1792.8 1160.3" stroke="#4A4A4A" stroke-width="12.4" stroke-linejoin="round" fill="none"/>
<path d="M142.0 1113.1 L145.0 1113.2 L148.0 1113.2 L151.0 1113.3 L154.0 1113.3 L157.0 1113.4 L160.0 1113.4 L163.0 1113.5 L166.0 1113.5 L169.0 1113.6 L172.0 1113.6 L175.0 1113.7 L178.0 1113.7 L181.0 1113.8 L184.0 1113.8 L187.0 1113.9 L190.0 1113.9 L193.0 1114.0 L196.0 1114.0 L199.0 1114.0 L202.0 1114.1 L205.0 1114.1 L208.0 1114.2 L211.0 1114.2 L214.0 1114.3 L217.0 1114.3 L220.0 1114.3 L223.0 1114.4 L226.0 1114.4 L229.0 1114.4 L232.0 1114.5 L235.0 1114.5 L238.0 1114.5 L241.0 1114.6 L244.0 1114.6 L247.0 1114.6 L250.0 1114.7 L253.0 1114.7 L256.0 1114.7 L259.0 1114.8 L262.0 1114.8 L265.0 1114.8 L268.0 1114.9 L271.0 1114.9 L274.0 1114.9 L277.0 1115.0 L280.0 1115.0 L283.0 1115.0 L286.0 1115.1 L289.0 1115.1 L292.0 1115.1 L295.0 1115.1 L298.0 1115.2 L301.0 1115.2 L304.0 1115.2 L307.0 1115.2 L310.0 1115.3 L313.0 1115.3 L316.0 1115.3 L319.0 1115.4 L322.0 1115.4 L325.0 1115.4 L328.0 1115.4 L331.0 1115.5 L334.0 1115.5 L337.0 1115.5 L340.0 1115.5 L343.0 1115.6 L346.0 1115.6 L349.0 1115.6 L352.0 1115.7 L355.0 1115.7 L358.0 1115.7 L361.0 1115.7 L364.0 1115.8 L367.0 1115.8 L370.0 1115.8 L373.0 1115.8 L376.0 1115.9 L379.0 1115.9 L382.0 1115.9 L385.0 1116.0 L388.0 1116.0 L391.0 1116.0 L394.0 1116.0 L397.0 1116.1 L400.0 1116.1 L403.0 1116.1 L406.0 1116.2 L409.0 1116.2 L412.0 1116.2 L415.0 1116.2 L418.0 1116.3 L421.0 1116.3 L424.0 1116.3 L427.0 1116.4 L430.0 1116.4 L433.0 1116.4 L436.0 1116.5 L439.0 1116.5 L442.0 1116.5 L445.0 1116.6 L448.0 1116.6 L451.0 1116.6 L454.0 1116.7 L457.0 1116.7 L460.0 1116.7 L463.0 1116.8 L466.0 1116.8 L469.0 1116.9 L472.0 1116.9 L475.0 1116.9 L478.0 1117.0 L481.0 1117.0 L484.0 1117.1 L487.0 1117.1 L490.0 1117.2 L493.0 1117.2 L496.0 1117.2 L499.0 1117.3 L502.0 1117.3 L505.0 1117.4 L508.0 1117.4 L511.0 1117.5 L514.0 1117.5 L517.0 1117.6 L520.0 1117.6 L523.0 1117.7 L526.0 1117.7 L529.0 1117.8 L532.0 1117.8 L535.0 1117.9 L538.0 1117.9 L541.0 1118.0 L544.0 1118.1 L547.0 1118.1 L550.0 1118.2 L553.0 1118.2 L556.0 1118.3 L559.0 1118.4 L562.0 1118.4 L565.0 1118.5 L568.0 1118.6 L571.0 1118.6 L574.0 1118.7 L577.0 1118.8 L580.0 1118.8 L583.0 1118.9 L586.0 1119.0 L589.0 1119.0 L592.0 1119.1 L595.0 1119.2 L598.0 1119.3 L601.0 1119.3 L604.0 1119.4 L607.0 1119.5 L610.0 1119.6 L613.0 1119.7 L616.0 1119.7 L619.0 1119.8 L622.0 1119.9 L625.0 1120.0 L628.0 1120.1 L631.0 1120.2 L634.0 1120.3 L637.0 1120.4 L640.0 1120.5 L643.0 1120.6 L646.0 1120.7 L649.0 1120.8 L652.0 1120.9 L655.0 1121.0 L658.0 1121.1 L661.0 1121.2 L664.0 1121.3 L667.0 1121.4 L670.0 1121.5 L673.0 1121.6 L676.0 1121.7 L679.0 1121.8 L682.0 1121.9 L685.0 1122.0 L688.0 1122.1 L691.0 1122.3 L694.0 1122.4 L697.0 1122.5 L700.0 1122.6 L703.0 1122.7 L706.0 1122.9 L709.0 1123.0 L712.0 1123.1 L715.0 1123.2 L718.0 1123.4 L721.0 1123.5 L724.0 1123.6 L727.0 1123.8 L730.0 1123.9 L733.0 1124.0 L736.0 1124.2 L739.0 1124.3 L742.0 1124.4 L745.0 1124.6 L748.0 1124.7 L751.0 1124.8 L754.0 1125.0 L757.0 1125.1 L760.0 1125.3 L763.0 1125.4 L766.0 1125.6 L769.0 1125.7 L772.0 1125.9 L775.0 1126.0 L778.0 1126.2 L781.0 1126.3 L784.0 1126.5 L787.0 1126.6 L790.0 1126.8 L793.0 1126.9 L796.0 1127.1 L799.0 1127.2 L802.0 1127.4 L805.0 1127.5 L808.0 1127.7 L811.0 1127.8 L814.0 1128.0 L817.0 1128.2 L820.0 1128.3 L823.0 1128.5 L826.0 1128.7 L829.0 1128.8 L832.0 1129.0 L835.0 1129.1 L838.0 1129.3 L841.0 1129.5 L844.0 1129.6 L847.0 1129.8 L850.0 1130.0 L853.0 1130.2 L856.0 1130.3 L859.0 1130.5 L862.0 1130.7 L865.0 1130.8 L868.0 1131.0 L871.0 1131.2 L874.0 1131.4 L877.0 1131.5 L880.0 1131.7 L883.0 1131.9 L886.0 1132.1 L889.0 1132.2 L892.0 1132.4 L895.0 1132.6 L898.0 1132.8 L901.0 1133.0 L904.0 1133.1 L907.0 1133.3 L910.0 1133.5 L913.0 1133.7 L916.0 1133.9 L919.0 1134.0 L922.0 1134.2 L925.0 1134.4 L928.0 1134.6 L931.0 1134.8 L934.0 1135.0 L937.0 1135.1 L940.0 1135.3 L943.0 1135.5 L946.0 1135.7 L949.0 1135.9 L952.0 1136.1 L955.0 1136.3 L958.0 1136.5 L961.0 1136.6 L964.0 1136.8 L967.0 1137.0 L970.0 1137.2 L973.0 1137.4 L976.0 1137.6 L979.0 1137.8 L982.0 1138.0 L985.0 1138.2 L988.0 1138.4 L991.0 1138.5 L994.0 1138.7 L997.0 1138.9 L1000.0 1139.1 L1003.0 1139.3 L1006.0 1139.5 L1009.0 1139.7 L1012.0 1139.9 L1015.0 1140.1 L1018.0 1140.3 L1021.0 1140.5 L1024.0 1140.6 L1027.0 1140.8 L1030.0 1141.0 L1033.0 1141.2 L1036.0 1141.4 L1039.0 1141.6 L1042.0 1141.8 L1045.0 1142.0 L1048.0 1142.2 L1051.0 1142.3 L1054.0 1142.5 L1057.0 1142.7 L1060.0 1142.9 L1063.0 1143.1 L1066.0 1143.3 L1069.0 1143.5 L1072.0 1143.7 L1075.0 1143.8 L1078.0 1144.0 L1081.0 1144.2 L1084.0 1144.4 L1087.0 1144.6 L1090.0 1144.7 L1093.0 1144.9 L1096.0 1145.1 L1099.0 1145.3 L1102.0 1145.5 L1105.0 1145.6 L1108.0 1145.8 L1111.0 1146.0 L1114.0 1146.2 L1117.0 1146.3 L1120.0 1146.5 L1123.0 1146.7 L1126.0 1146.9 L1129.0 1147.0 L1132.0 1147.2 L1135.0 1147.4 L1138.0 1147.5 L1141.0 1147.7 L1144.0 1147.9 L1147.0 1148.0 L1150.0 1148.2 L1153.0 1148.3 L1156.0 1148.5 L1159.0 1148.7 L1162.0 1148.8 L1165.0 1149.0 L1168.0 1149.1 L1171.0 1149.3 L1174.0 1149.4 L1177.0 1149.6 L1180.0 1149.7 L1183.0 1149.9 L1186.0 1150.0 L1189.0 1150.2 L1192.0 1150.3 L1195.0 1150.4 L1198.0 1150.6 L1201.0 1150.7 L1204.0 1150.8 L1207.0 1151.0 L1210.0 1151.1 L1213.0 1151.2 L1216.0 1151.4 L1219.0 1151.5 L1222.0 1151.6 L1225.0 1151.7 L1228.0 1151.9 L1231.0 1152.0 L1234.0 1152.1 L1237.0 1152.2 L1240.0 1152.3 L1243.0 1152.4 L1246.0 1152.5 L1249.0 1152.6 L1252.0 1152.8 L1255.0 1152.9 L1258.0 1153.0 L1261.0 1153.1 L1264.0 1153.1 L1267.0 1153.2 L1270.0 1153.3 L1273.0 1153.4 L1276.0 1153.5 L1279.0 1153.6 L1282.0 1153.7 L1285.0 1153.8 L1288.0 1153.8 L1291.0 1153.9 L1294.0 1154.0 L1297.0 1154.1 L1300.0 1154.2 L1303.0 1154.2 L1306.0 1154.3 L1309.0 1154.4 L1312.0 1154.4 L1315.0 1154.5 L1318.0 1154.6 L1321.0 1154.6 L1324.0 1154.7 L1327.0 1154.7 L1330.0 1154.8 L1333.0 1154.8 L1336.0 1154.9 L1339.0 1155.0 L1342.0 1155.0 L1345.0 1155.1 L1348.0 1155.1 L1351.0 1155.2 L1354.0 1155.2 L1357.0 1155.2 L1360.0 1155.3 L1363.0 1155.3 L1366.0 1155.4 L1369.0 1155.4 L1372.0 1155.4 L1375.0 1155.5 L1378.0 1155.5 L1381.0 1155.5 L1384.0 1155.6 L1387.0 1155.6 L1390.0 1155.6 L1393.0 1155.7 L1396.0 1155.7 L1399.0 1155.7 L1402.0 1155.7 L1405.0 1155.8 L1408.0 1155.8 L1411.0 1155.8 L1414.0 1155.8 L1417.0 1155.9 L1420.0 1155.9 L1423.0 1155.9 L1426.0 1155.9 L1429.0 1155.9 L1432.0 1155.9 L1435.0 1156.0 L1438.0 1156.0 L1441.0 1156.0 L1444.0 1156.0 L1447.0 1156.0 L1450.0 1156.0 L1453.0 1156.0 L1456.0 1156.0 L1459.0 1156.1 L1462.0 1156.1 L1465.0 1156.1 L1468.0 1156.1 L1471.0 1156.1 L1474.0 1156.1 L1477.0 1156.1 L1480.0 1156.1 L1483.0 1156.1 L1486.0 1156.1 L1489.0 1156.1 L1492.0 1156.1 L1495.0 1156.1 L1498.0 1156.1 L1501.0 1156.1 L1504.0 1156.1 L1507.0 1156.1 L1510.0 1156.1 L1513.0 1156.1 L1516.0 1156.1 L1519.0 1156.1 L1522.0 1156.1 L1525.0 1156.1 L1528.0 1156.1 L1531.0 1156.1 L1534.0 1156.1 L1537.0 1156.1 L1540.0 1156.1 L1543.0 1156.1 L1546.0 1156.1 L1549.0 1156.1 L1552.0 1156.1 L1555.0 1156.1 L1558.0 1156.1 L1561.0 1156.1 L1564.0 1156.1 L1567.0 1156.1 L1570.0 1156.1 L1573.0 1156.1 L1576.0 1156.1 L1579.0 1156.1 L1582.0 1156.1 L1585.0 1156.1 L1588.0 1156.1 L1591.0 1156.1 L1594.0 1156.1 L1597.0 1156.1 L1600.0 1156.1 L1603.0 1156.1 L1606.0 1156.1 L1609.0 1156.1 L1612.0 1156.1 L1615.0 1156.1 L1618.0 1156.1 L1621.0 1156.1 L1624.0 1156.1 L1627.0 1156.1 L1630.0 1156.1 L1633.0 1156.1 L1636.0 1156.1 L1639.0 1156.1 L1642.0 1156.1 L1645.0 1156.1 L1648.0 1156.1 L1651.0 1156.1 L1654.0 1156.1 L1657.0 1156.1 L1660.0 1156.1 L1663.0 1156.1 L1666.0 1156.1 L1669.0 1156.1 L1672.0 1156.2 L1675.0 1156.2 L1678.0 1156.2 L1681.0 1156.2 L1684.0 1156.2 L1687.0 1156.2 L1690.0 1156.2 L1693.0 1156.3 L1696.0 1156.3 L1699.0 1156.3 L1702.0 1156.3 L1705.0 1156.3 L1708.0 1156.4 L1711.0 1156.4 L1714.0 1156.4 L1717.0 1156.4 L1720.0 1156.4 L1723.0 1156.5 L1726.0 1156.5 L1729.0 1156.5 L1732.0 1156.6 L1735.0 1156.6 L1738.0 1156.6 L1741.0 1156.7 L1744.0 1156.7 L1747.0 1156.7 L1750.0 1156.8 L1753.0 1156.8 L1756.0 1156.8 L1759.0 1156.9 L1762.0 1156.9 L1765.0 1157.0 L1768.0 1157.0 L1771.0 1157.1 L1774.0 1157.1 L1777.0 1157.2 L1780.0 1157.2 L1783.0 1157.3 L1786.0 1157.3 L1789.0 1157.4 L1792.8 1157.4" stroke="#EE4242" stroke-width="1.7" fill="none"/>
<path d="M142.0 1109.2 L145.0 1109.1 L148.0 1109.1 L151.0 1109.0 L154.0 1108.9 L157.0 1108.9 L160.0 1108.8 L163.0 1108.8 L166.0 1108.7 L169.0 1108.6 L172.0 1108.6 L175.0 1108.5 L178.0 1108.4 L181.0 1108.3 L184.0 1108.3 L187.0 1108.2 L190.0 1108.1 L193.0 1108.0 L196.0 1108.0 L199.0 1107.9 L202.0 1107.8 L205.0 1107.7 L208.0 1107.7 L211.0 1107.6 L214.0 1107.5 L217.0 1107.4 L220.0 1107.3 L223.0 1107.2 L226.0 1107.2 L229.0 1107.1 L232.0 1107.0 L235.0 1106.9 L238.0 1106.8 L241.0 1106.7 L244.0 1106.6 L247.0 1106.5 L250.0 1106.4 L253.0 1106.3 L256.0 1106.2 L259.0 1106.1 L262.0 1106.1 L265.0 1106.0 L268.0 1105.9 L271.0 1105.8 L274.0 1105.7 L277.0 1105.6 L280.0 1105.5 L283.0 1105.4 L286.0 1105.3 L289.0 1105.2 L292.0 1105.1 L295.0 1104.9 L298.0 1104.8 L301.0 1104.7 L304.0 1104.6 L307.0 1104.5 L310.0 1104.4 L313.0 1104.3 L316.0 1104.2 L319.0 1104.1 L322.0 1104.0 L325.0 1103.9 L328.0 1103.8 L331.0 1103.7 L334.0 1103.6 L337.0 1103.5 L340.0 1103.3 L343.0 1103.2 L346.0 1103.1 L349.0 1103.0 L352.0 1102.9 L355.0 1102.8 L358.0 1102.7 L361.0 1102.6 L364.0 1102.4 L367.0 1102.3 L370.0 1102.2 L373.0 1102.1 L376.0 1102.0 L379.0 1101.9 L382.0 1101.8 L385.0 1101.7 L388.0 1101.5 L391.0 1101.4 L394.0 1101.3 L397.0 1101.2 L400.0 1101.1 L403.0 1101.0 L406.0 1100.9 L409.0 1100.7 L412.0 1100.6 L415.0 1100.5 L418.0 1100.4 L421.0 1100.3 L424.0 1100.2 L427.0 1100.1 L430.0 1099.9 L433.0 1099.8 L436.0 1099.7 L439.0 1099.6 L442.0 1099.5 L445.0 1099.4 L448.0 1099.3 L451.0 1099.2 L454.0 1099.0 L457.0 1098.9 L460.0 1098.8 L463.0 1098.7 L466.0 1098.6 L469.0 1098.5 L472.0 1098.4 L475.0 1098.3 L478.0 1098.2 L481.0 1098.0 L484.0 1097.9 L487.0 1097.8 L490.0 1097.7 L493.0 1097.6 L496.0 1097.5 L499.0 1097.4 L502.0 1097.3 L505.0 1097.2 L508.0 1097.1 L511.0 1097.0 L514.0 1096.9 L517.0 1096.8 L520.0 1096.7 L523.0 1096.6 L526.0 1096.4 L529.0 1096.3 L532.0 1096.2 L535.0 1096.1 L538.0 1096.0 L541.0 1095.9 L544.0 1095.8 L547.0 1095.7 L550.0 1095.7 L553.0 1095.6 L556.0 1095.5 L559.0 1095.4 L562.0 1095.3 L565.0 1095.2 L568.0 1095.1 L571.0 1095.0 L574.0 1094.9 L577.0 1094.8 L580.0 1094.7 L583.0 1094.6 L586.0 1094.5 L589.0 1094.4 L592.0 1094.4 L595.0 1094.3 L598.0 1094.2 L601.0 1094.1 L604.0 1094.0 L607.0 1093.9 L610.0 1093.8 L613.0 1093.7 L616.0 1093.6 L619.0 1093.5 L622.0 1093.4 L625.0 1093.3 L628.0 1093.3 L631.0 1093.2 L634.0 1093.1 L637.0 1093.0 L640.0 1092.9 L643.0 1092.8 L646.0 1092.7 L649.0 1092.5 L652.0 1092.4 L655.0 1092.3 L658.0 1092.2 L661.0 1092.1 L664.0 1092.0 L667.0 1091.9 L670.0 1091.8 L673.0 1091.6 L676.0 1091.5 L679.0 1091.4 L682.0 1091.3 L685.0 1091.1 L688.0 1091.0 L691.0 1090.9 L694.0 1090.7 L697.0 1090.6 L700.0 1090.4 L703.0 1090.3 L706.0 1090.1 L709.0 1090.0 L712.0 1089.8 L715.0 1089.6 L718.0 1089.4 L721.0 1089.2 L724.0 1089.0 L727.0 1088.8 L730.0 1088.6 L733.0 1088.4 L736.0 1088.2 L739.0 1087.9 L742.0 1087.7 L745.0 1087.4 L748.0 1087.2 L751.0 1086.9 L754.0 1086.6 L757.0 1086.3 L760.0 1086.0 L763.0 1085.7 L766.0 1085.3 L769.0 1085.0 L772.0 1084.6 L775.0 1084.3 L778.0 1083.9 L781.0 1083.5 L784.0 1083.1 L787.0 1082.6 L790.0 1082.2 L793.0 1081.7 L796.0 1081.2 L799.0 1080.7 L802.0 1080.1 L805.0 1079.5 L808.0 1078.9 L811.0 1078.3 L814.0 1077.5 L817.0 1076.8 L820.0 1076.0 L823.0 1075.2 L826.0 1074.3 L829.0 1073.4 L832.0 1072.5 L835.0 1071.6 L838.0 1070.6 L841.0 1069.6 L844.0 1068.6 L847.0 1067.5 L850.0 1066.5 L853.0 1065.4 L856.0 1064.3 L859.0 1063.2 L862.0 1062.1 L865.0 1061.0 L868.0 1060.0 L871.0 1058.9 L874.0 1057.8 L877.0 1056.7 L880.0 1055.6 L883.0 1054.5 L886.0 1053.5 L889.0 1052.4 L892.0 1051.4 L895.0 1050.4 L898.0 1049.5 L901.0 1048.5 L904.0 1047.6 L907.0 1046.7 L910.0 1045.8 L913.0 1045.0 L916.0 1044.2 L919.0 1043.5 L922.0 1042.8 L925.0 1042.1 L928.0 1041.5 L931.0 1040.9 L934.0 1040.4 L937.0 1040.0 L940.0 1039.6 L943.0 1039.2 L946.0 1039.0 L949.0 1038.7 L952.0 1038.6 L955.0 1038.5 L958.0 1038.5 L961.0 1038.5 L964.0 1038.6 L967.0 1038.8 L970.0 1039.0 L973.0 1039.2 L976.0 1039.6 L979.0 1040.0 L982.0 1040.4 L985.0 1041.0 L988.0 1041.5 L991.0 1042.2 L994.0 1042.9 L997.0 1043.6 L1000.0 1044.4 L1003.0 1045.3 L1006.0 1046.2 L1009.0 1047.2 L1012.0 1048.3 L1015.0 1049.3 L1018.0 1050.5 L1021.0 1051.7 L1024.0 1053.0 L1027.0 1054.3 L1030.0 1055.6 L1033.0 1057.0 L1036.0 1058.4 L1039.0 1059.9 L1042.0 1061.4 L1045.0 1063.0 L1048.0 1064.5 L1051.0 1066.1 L1054.0 1067.8 L1057.0 1069.4 L1060.0 1071.1 L1063.0 1072.8 L1066.0 1074.5 L1069.0 1076.3 L1072.0 1078.0 L1075.0 1079.8 L1078.0 1081.6 L1081.0 1083.4 L1084.0 1085.2 L1087.0 1087.0 L1090.0 1088.8 L1093.0 1090.5 L1096.0 1092.3 L1099.0 1094.1 L1102.0 1095.9 L1105.0 1097.7 L1108.0 1099.4 L1111.0 1101.2 L1114.0 1102.9 L1117.0 1104.6 L1120.0 1106.3 L1123.0 1107.9 L1126.0 1109.5 L1129.0 1111.1 L1132.0 1112.7 L1135.0 1114.3 L1138.0 1115.8 L1141.0 1117.2 L1144.0 1118.7 L1147.0 1120.0 L1150.0 1121.4 L1153.0 1122.7 L1156.0 1124.0 L1159.0 1125.2 L1162.0 1126.3 L1165.0 1127.5 L1168.0 1128.5 L1171.0 1129.6 L1174.0 1130.6 L1177.0 1131.5 L1180.0 1132.4 L1183.0 1133.3 L1186.0 1134.1 L1189.0 1134.9 L1192.0 1135.7 L1195.0 1136.4 L1198.0 1137.2 L1201.0 1137.8 L1204.0 1138.5 L1207.0 1139.2 L1210.0 1139.8 L1213.0 1140.4 L1216.0 1141.0 L1219.0 1141.5 L1222.0 1142.1 L1225.0 1142.6 L1228.0 1143.1 L1231.0 1143.5 L1234.0 1144.0 L1237.0 1144.4 L1240.0 1144.8 L1243.0 1145.1 L1246.0 1145.5 L1249.0 1145.8 L1252.0 1146.1 L1255.0 1146.4 L1258.0 1146.7 L1261.0 1146.9 L1264.0 1147.2 L1267.0 1147.5 L1270.0 1147.7 L1273.0 1147.9 L1276.0 1148.2 L1279.0 1148.4 L1282.0 1148.6 L1285.0 1148.9 L1288.0 1149.1 L1291.0 1149.3 L1294.0 1149.5 L1297.0 1149.7 L1300.0 1149.9 L1303.0 1150.1 L1306.0 1150.3 L1309.0 1150.5 L1312.0 1150.7 L1315.0 1150.9 L1318.0 1151.1 L1321.0 1151.2 L1324.0 1151.4 L1327.0 1151.6 L1330.0 1151.7 L1333.0 1151.9 L1336.0 1152.1 L1339.0 1152.2 L1342.0 1152.4 L1345.0 1152.5 L1348.0 1152.7 L1351.0 1152.8 L1354.0 1153.0 L1357.0 1153.1 L1360.0 1153.2 L1363.0 1153.4 L1366.0 1153.5 L1369.0 1153.6 L1372.0 1153.7 L1375.0 1153.8 L1378.0 1154.0 L1381.0 1154.1 L1384.0 1154.2 L1387.0 1154.3 L1390.0 1154.4 L1393.0 1154.5 L1396.0 1154.6 L1399.0 1154.7 L1402.0 1154.8 L1405.0 1154.9 L1408.0 1154.9 L1411.0 1155.0 L1414.0 1155.1 L1417.0 1155.2 L1420.0 1155.3 L1423.0 1155.3 L1426.0 1155.4 L1429.0 1155.5 L1432.0 1155.6 L1435.0 1155.6 L1438.0 1155.7 L1441.0 1155.7 L1444.0 1155.8 L1447.0 1155.9 L1450.0 1155.9 L1453.0 1156.0 L1456.0 1156.0 L1459.0 1156.1 L1462.0 1156.1 L1465.0 1156.2 L1468.0 1156.2 L1471.0 1156.2 L1474.0 1156.3 L1477.0 1156.3 L1480.0 1156.4 L1483.0 1156.4 L1486.0 1156.4 L1489.0 1156.5 L1492.0 1156.5 L1495.0 1156.5 L1498.0 1156.5 L1501.0 1156.6 L1504.0 1156.6 L1507.0 1156.6 L1510.0 1156.6 L1513.0 1156.6 L1516.0 1156.7 L1519.0 1156.7 L1522.0 1156.7 L1525.0 1156.7 L1528.0 1156.7 L1531.0 1156.7 L1534.0 1156.7 L1537.0 1156.7 L1540.0 1156.8 L1543.0 1156.8 L1546.0 1156.8 L1549.0 1156.8 L1552.0 1156.8 L1555.0 1156.8 L1558.0 1156.8 L1561.0 1156.8 L1564.0 1156.8 L1567.0 1156.8 L1570.0 1156.8 L1573.0 1156.8 L1576.0 1156.8 L1579.0 1156.8 L1582.0 1156.8 L1585.0 1156.8 L1588.0 1156.8 L1591.0 1156.8 L1594.0 1156.8 L1597.0 1156.8 L1600.0 1156.8 L1603.0 1156.8 L1606.0 1156.8 L1609.0 1156.8 L1612.0 1156.8 L1615.0 1156.7 L1618.0 1156.7 L1621.0 1156.7 L1624.0 1156.7 L1627.0 1156.7 L1630.0 1156.7 L1633.0 1156.7 L1636.0 1156.7 L1639.0 1156.7 L1642.0 1156.7 L1645.0 1156.7 L1648.0 1156.7 L1651.0 1156.7 L1654.0 1156.7 L1657.0 1156.7 L1660.0 1156.7 L1663.0 1156.7 L1666.0 1156.7 L1669.0 1156.7 L1672.0 1156.7 L1675.0 1156.7 L1678.0 1156.7 L1681.0 1156.7 L1684.0 1156.7 L1687.0 1156.7 L1690.0 1156.7 L1693.0 1156.7 L1696.0 1156.7 L1699.0 1156.7 L1702.0 1156.7 L1705.0 1156.7 L1708.0 1156.7 L1711.0 1156.7 L1714.0 1156.8 L1717.0 1156.8 L1720.0 1156.8 L1723.0 1156.8 L1726.0 1156.8 L1729.0 1156.8 L1732.0 1156.9 L1735.0 1156.9 L1738.0 1156.9 L1741.0 1156.9 L1744.0 1156.9 L1747.0 1157.0 L1750.0 1157.0 L1753.0 1157.0 L1756.0 1157.1 L1759.0 1157.1 L1762.0 1157.1 L1765.0 1157.2 L1768.0 1157.2 L1771.0 1157.2 L1774.0 1157.3 L1777.0 1157.3 L1780.0 1157.4 L1783.0 1157.4 L1786.0 1157.5 L1789.0 1157.5 L1792.8 1157.6" stroke="#1B70DE" stroke-width="12.4" fill="none"/>
<path d="M164.5 1103.6l0.0 12.0M187.8 1103.6l0.0 12.0M211.2 1103.5l0.0 12.0M234.5 1103.2l0.0 12.0M257.8 1102.9l0.0 12.0M281.0 1102.5l0.0 12.0M304.2 1101.9l0.0 12.0M327.5 1101.3l0.0 12.0M350.8 1100.6l0.0 12.0M374.0 1099.7l0.0 12.0M397.2 1098.8l0.0 12.0M420.5 1097.8l0.0 12.0M443.8 1096.8l0.0 12.0M467.0 1095.7l0.0 12.0M490.2 1094.5l0.0 12.0M513.5 1093.3l0.0 12.0M536.8 1092.2l0.0 12.0M560.0 1091.1l0.0 12.0M583.2 1090.1l0.0 12.0M606.5 1089.3l0.0 12.0M630.0 1088.6l0.0 12.0M653.2 1088.3l0.0 12.0M676.5 1088.2l0.0 12.0M699.8 1088.6l0.0 12.0M723.0 1089.3l0.0 12.0M746.2 1090.4l0.0 12.0M769.5 1092.0l0.0 12.0M792.8 1093.9l0.0 12.0M815.8 1096.1l0.0 12.0M839.0 1098.6l0.0 12.0M862.0 1101.3l0.0 12.0M885.2 1104.1l0.0 12.0M908.2 1107.0l0.0 12.0M931.5 1110.0l0.0 12.0M954.5 1112.9l0.0 12.0M977.5 1115.8l0.0 12.0M1000.8 1118.7l0.0 12.0M1023.8 1121.5l0.0 12.0M1047.0 1124.3l0.0 12.0M1070.0 1126.9l0.0 12.0M1093.2 1129.4l0.0 12.0M1116.2 1131.7l0.0 12.0M1139.5 1133.9l0.0 12.0M1162.8 1136.0l0.0 12.0M1186.0 1137.8l0.0 12.0M1209.2 1139.5l0.0 12.0M1232.5 1141.1l0.0 12.0M1255.8 1142.4l0.0 12.0M1279.0 1143.5l0.0 12.0M1302.2 1144.5l0.0 12.0M1325.5 1145.3l0.0 12.0M1348.8 1146.0l0.0 12.0M1372.0 1146.6l0.0 12.0M1395.2 1147.1l0.0 12.0M1418.5 1147.4l0.0 12.0M1441.8 1147.7l0.0 12.0M1465.0 1148.0l0.0 12.0M1488.2 1148.1l0.0 12.0M1511.5 1148.3l0.0 12.0M1535.0 1148.4l0.0 12.0M1558.2 1148.4l0.0 12.0M1581.5 1148.5l0.0 12.0M1604.8 1148.6l0.0 12.0M1628.0 1148.6l0.0 12.0M1651.2 1148.7l0.0 12.0M1674.5 1148.9l0.0 12.0M1697.8 1149.1l0.0 12.0M1721.2 1149.3l0.0 12.0M1744.5 1149.6l0.0 12.0M1767.8 1149.9l0.0 12.0M1791.0 1150.4l0.0 12.0" stroke="#2EAA5E" stroke-width="1.7" fill="none"/>
<path d="M164.5 1107.3l0.0 12.0M187.8 1107.7l0.0 12.0M211.2 1108.0l0.0 12.0M234.5 1108.3l0.0 12.0M257.8 1108.5l0.0 12.0M281.0 1108.7l0.0 12.0M304.2 1108.9l0.0 12.0M327.5 1109.1l0.0 12.0M350.8 1109.3l0.0 12.0M374.0 1109.5l0.0 12.0M397.2 1109.7l0.0 12.0M420.8 1109.9l0.0 12.0M444.0 1110.1l0.0 12.0M467.2 1110.4l0.0 12.0M490.5 1110.6l0.0 12.0M513.8 1110.9l0.0 12.0M537.0 1111.3l0.0 12.0M560.2 1111.6l0.0 12.0M583.5 1112.1l0.0 12.0M606.8 1112.5l0.0 12.0M630.2 1112.9l0.0 12.0M653.5 1113.2l0.0 12.0M676.8 1113.3l0.0 12.0M700.0 1113.0l0.0 12.0M723.2 1112.1l0.0 12.0M746.5 1110.2l0.0 12.0M769.5 1107.1l0.0 12.0M792.2 1102.5l0.0 12.0M810.5 1098.2l8.5 8.5M832.5 1090.7l8.5 8.5M854.3 1082.3l8.5 8.5M880.0 1071.7l0.0 12.0M897.5 1064.9l8.5 8.5M919.5 1057.6l8.5 8.5M946.5 1051.0l0.0 12.0M969.8 1049.8l0.0 12.0M988.5 1063.2l8.5 -8.5M1010.8 1070.0l8.5 -8.5M1032.3 1079.2l8.5 -8.5M1053.0 1089.7l8.5 -8.5M1073.5 1100.5l8.5 -8.5M1098.5 1101.1l0.0 12.0M1115.3 1121.3l8.5 -8.5M1136.8 1130.2l8.5 -8.5M1163.0 1127.5l0.0 12.0M1185.5 1133.5l0.0 12.0M1208.2 1138.0l0.0 12.0M1231.5 1141.4l0.0 12.0M1254.5 1143.8l0.0 12.0M1277.8 1145.5l0.0 12.0M1301.0 1146.7l0.0 12.0M1324.2 1147.5l0.0 12.0M1347.5 1148.2l0.0 12.0M1370.8 1148.6l0.0 12.0M1394.0 1149.0l0.0 12.0M1417.2 1149.2l0.0 12.0M1440.8 1149.4l0.0 12.0M1464.0 1149.5l0.0 12.0M1487.2 1149.6l0.0 12.0M1510.5 1149.7l0.0 12.0M1533.8 1149.7l0.0 12.0M1557.0 1149.7l0.0 12.0M1580.2 1149.7l0.0 12.0M1603.5 1149.7l0.0 12.0M1627.0 1149.8l0.0 12.0M1650.2 1149.8l0.0 12.0M1673.5 1149.9l0.0 12.0M1696.8 1150.0l0.0 12.0M1720.0 1150.2l0.0 12.0M1743.2 1150.5l0.0 12.0M1766.5 1150.8l0.0 12.0M1789.8 1151.2l0.0 12.0" stroke="#B076E0" stroke-width="1.7" fill="none"/>
</g>
<g stroke="#000" stroke-width="1.4" stroke-dasharray="4.6 1.9" fill="none">
<line x1="647.4" y1="140.9" x2="647.4" y2="1085.5"/>
<line x1="973.4" y1="130" x2="973.4" y2="1065"/>
</g>
<g stroke="#000" stroke-width="5.6"><line x1="348.50" y1="1238" x2="348.50" y2="1261.8"/><line x1="761.00" y1="1238" x2="761.00" y2="1261.8"/><line x1="1173.50" y1="1238" x2="1173.50" y2="1261.8"/><line x1="1586.00" y1="1238" x2="1586.00" y2="1261.8"/><line x1="142.50" y1="1238" x2="142.50" y2="1250"/><line x1="554.75" y1="1238" x2="554.75" y2="1250"/><line x1="967.25" y1="1238" x2="967.25" y2="1250"/><line x1="1379.75" y1="1238" x2="1379.75" y2="1250"/><line x1="1792.00" y1="1238" x2="1792.00" y2="1250"/></g>
<g font-family="'Liberation Serif','Times New Roman',serif" fill="#000">
<text x="348.50" y="1317" font-size="50" text-anchor="middle">910</text>
<text x="761.00" y="1317" font-size="50" text-anchor="middle">915</text>
<text x="1173.50" y="1317" font-size="50" text-anchor="middle">920</text>
<text x="1586.00" y="1317" font-size="50" text-anchor="middle">925</text>
<text x="968.5" y="1421.5" font-size="68.5" font-weight="bold" text-anchor="middle">Kinetic Energy (eV)</text>
<text transform="translate(66 633.5) rotate(-90)" x="0" y="0" font-size="68.5" font-weight="bold" text-anchor="middle">Intensity (a.u.)</text>
<text x="166.5" y="156.8" font-size="46">5%K-30%Cu/SiO<tspan font-size="31" dy="13.2">2</tspan></text>
<text x="189.5" y="325.5" font-size="46">5%Ca-30%Cu/SiO<tspan font-size="31" dy="13.2">2</tspan></text>
<text x="166.5" y="505.8" font-size="45.6">10%Sr-30%Cu/SiO<tspan font-size="31" dy="13.2">2</tspan></text>
<text x="166.5" y="643.0" font-size="46">5%Sr-30%Cu/SiO<tspan font-size="31" dy="13.2">2</tspan></text>
<text x="168.5" y="851.8" font-size="45.6">1%Sr-30%Cu/SiO<tspan font-size="31" dy="13.2">2</tspan></text>
<text x="178.0" y="1044.8" font-size="46">30%Cu/SiO<tspan font-size="31" dy="13.2">2</tspan></text>
<text x="638" y="108.7" font-size="41">Cu<tspan font-size="27" dy="-16.7">+</tspan></text>
<text x="1001" y="117.9" font-size="41">Cu<tspan font-size="27" dy="-17.2">0</tspan></text>
<text x="670" y="671.7" font-size="40">913.65</text>
<text x="1078" y="671.7" font-size="40">917.52</text>
</g>
</svg>
</body></html>
